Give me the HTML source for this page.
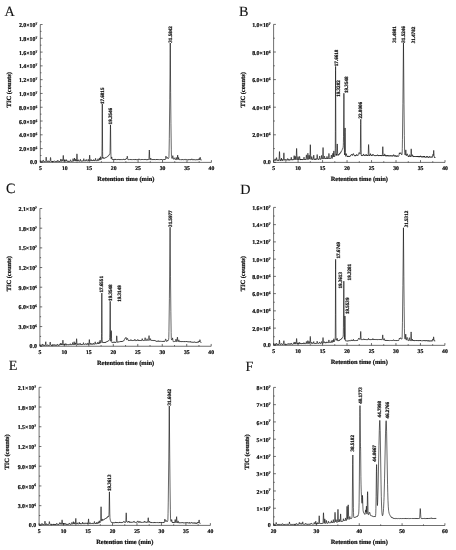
<!DOCTYPE html>
<html><head><meta charset="utf-8"><title>Chromatograms</title>
<style>
html,body{margin:0;padding:0;background:#fff;}
svg{display:block;font-family:'Liberation Serif', 'DejaVu Serif', serif;font-weight:bold;fill:#111;stroke:#111;stroke-width:0.22;text-rendering:geometricPrecision;}
</style></head>
<body>
<svg width="456" height="550" viewBox="0 0 456 550">
<rect width="456" height="550" fill="#fff" stroke="none"/>
<g>
<text x="4.4" y="16.0" font-size="14.2" font-weight="normal" stroke-width="0.12">A</text>
<path d="M40.3 24.5V162.4H211.42M40.3 162.4h2.3M40.3 155.5h1.2M40.3 148.61h2.3M40.3 141.72h1.2M40.3 134.82h2.3M40.3 127.92h1.2M40.3 121.03h2.3M40.3 114.14h1.2M40.3 107.24h2.3M40.3 100.35h1.2M40.3 93.45h2.3M40.3 86.56h1.2M40.3 79.66h2.3M40.3 72.77h1.2M40.3 65.87h2.3M40.3 58.98h1.2M40.3 52.08h2.3M40.3 45.18h1.2M40.3 38.29h2.3M40.3 31.39h1.2M40.3 24.5h2.3M40.3 162.4v-2.3M52.52 162.4v-1.2M64.75 162.4v-2.3M76.97 162.4v-1.2M89.19 162.4v-2.3M101.41 162.4v-1.2M113.64 162.4v-2.3M125.86 162.4v-1.2M138.08 162.4v-2.3M150.3 162.4v-1.2M162.53 162.4v-2.3M174.75 162.4v-1.2M186.97 162.4v-2.3M199.19 162.4v-1.2M211.42 162.4v-2.3" fill="none" stroke="#222" stroke-width="0.65"/>
<g font-size="5.9" text-anchor="end">
<text x="37.3" y="164.2">0.0</text>
<text x="37.3" y="151.21">2.0×10<tspan font-size="3.6" dy="-2.1">6</tspan></text>
<text x="37.3" y="137.42">4.0×10<tspan font-size="3.6" dy="-2.1">6</tspan></text>
<text x="37.3" y="123.63">6.0×10<tspan font-size="3.6" dy="-2.1">6</tspan></text>
<text x="37.3" y="109.84">8.0×10<tspan font-size="3.6" dy="-2.1">6</tspan></text>
<text x="37.3" y="96.05">1.0×10<tspan font-size="3.6" dy="-2.1">7</tspan></text>
<text x="37.3" y="82.26">1.2×10<tspan font-size="3.6" dy="-2.1">7</tspan></text>
<text x="37.3" y="68.47">1.4×10<tspan font-size="3.6" dy="-2.1">7</tspan></text>
<text x="37.3" y="54.68">1.6×10<tspan font-size="3.6" dy="-2.1">7</tspan></text>
<text x="37.3" y="40.89">1.8×10<tspan font-size="3.6" dy="-2.1">7</tspan></text>
<text x="37.3" y="27.1">2.0×10<tspan font-size="3.6" dy="-2.1">7</tspan></text>
</g>
<g font-size="5.7" text-anchor="middle">
<text x="40.3" y="170.2">5</text>
<text x="64.75" y="170.2">10</text>
<text x="89.19" y="170.2">15</text>
<text x="113.64" y="170.2">20</text>
<text x="138.08" y="170.2">25</text>
<text x="162.53" y="170.2">30</text>
<text x="186.97" y="170.2">35</text>
<text x="211.42" y="170.2">40</text>
</g>
<text x="125.86" y="181.1" font-size="6.45" text-anchor="middle">Retention time (min)</text>
<text transform="translate(11.05 89.8) rotate(-90)" font-size="6.45" text-anchor="middle">TIC (counts)</text>
<polyline points="40.75,161.65 40.8,161.67 40.85,161.55 40.9,161.67 41,161.53 41.1,161.69 41.2,161.52 41.25,161.65 41.4,161.44 41.5,161.14 41.55,161.22 41.6,161.06 41.65,161.07 41.8,160.85 41.9,160.97 41.95,161.18 42.1,161.45 42.2,161.38 42.3,161.38 42.35,161.45 42.45,161.38 42.55,161.62 42.6,161.65 42.7,161.61 42.8,161.35 42.9,161.29 43.1,160.19 43.25,160.11 43.5,161.02 43.6,161.23 43.7,161.25 43.85,161.48 43.95,161.39 44,161.18 44.1,161.51 44.2,161.54 44.25,161.47 44.35,161.52 44.4,161.35 44.5,161.62 44.7,161.59 44.8,161.49 44.95,161.63 45.1,161.44 45.25,161.55 45.3,161.47 45.45,161.59 45.5,161.53 45.55,161.55 45.7,161.28 45.8,160.77 46.15,157.12 46.25,157.53 46.55,160.85 46.7,161.43 46.75,161.4 46.8,161.56 46.85,161.37 46.95,161.35 47,161.43 47.05,161.32 47.15,161.6 47.2,161.56 47.25,161.6 47.35,161.5 47.4,161.61 47.45,161.48 47.55,161.58 47.6,161.53 47.65,161.56 47.8,161.31 48.05,160.68 48.2,160.95 48.25,160.89 48.3,160.96 48.45,161.38 48.5,161.42 48.55,161.37 48.6,161.51 48.65,161.4 48.75,161.39 48.85,161.43 48.95,161.59 49,161.41 49.1,161.53 49.2,161.3 49.4,161.46 49.5,161.26 49.6,161.56 49.7,161.53 49.75,161.43 49.8,161.52 49.9,161.54 50.05,161.3 50.15,161.02 50.45,158.08 50.55,157.47 50.75,158.76 50.9,160.5 51.05,161.13 51.1,161.24 51.15,161.06 51.2,161.26 51.35,161.52 51.45,161.47 51.5,161.53 51.65,161.32 51.7,161.12 51.8,161.3 51.85,161.1 52.1,161.55 52.15,161.55 52.2,161.42 52.45,161.53 52.5,161.39 52.55,161.44 52.65,161.21 52.75,161.2 52.8,161.23 52.9,161.48 52.95,161.39 53,161.54 53.1,161.46 53.15,161.54 53.2,161.4 53.25,161.49 53.35,161.43 53.45,161.5 53.5,161.45 53.55,161.47 53.6,161.27 53.65,161.51 53.75,161.43 53.8,161.5 53.9,161.52 54.1,161.3 54.2,161 54.3,160.93 54.4,160.98 54.45,160.81 54.6,160.99 54.65,160.98 54.75,161.24 54.8,161.21 54.85,161.33 55,161.5 55.1,161.5 55.15,161.46 55.2,161.49 55.35,161.39 55.4,161.49 55.55,161.49 55.6,161.38 55.7,161.49 55.8,161.44 55.85,161.5 55.9,161.45 55.95,161.48 56,161.37 56.1,161.44 56.2,161.24 56.25,161.4 56.35,161.08 56.45,161.04 56.6,161.36 56.7,161.44 56.75,161.33 56.8,161.32 57,161.46 57.15,161.17 57.25,161.36 57.3,161.2 57.4,161.41 57.55,160.62 57.65,160.47 57.7,160.17 57.8,160.05 58,160.38 58.2,161.05 58.4,161.41 58.45,161.36 58.5,161.45 58.55,161.35 58.65,161.33 58.7,161.25 58.75,161.31 58.8,161.28 58.9,161.41 58.95,161.26 59,161.34 59.05,161.3 59.1,161.43 59.15,161.38 59.2,161.45 59.25,161.37 59.3,161.46 59.4,161.13 59.5,161.33 59.55,161.24 59.65,161.21 59.7,161.45 59.8,161.3 59.9,161.45 60.05,161.22 60.1,161.23 60.15,161.38 60.2,161.3 60.25,161.33 60.3,161.23 60.35,161.24 60.45,161.04 60.8,159.07 60.85,159.1 60.9,159.36 60.95,159.38 61.15,160.81 61.4,161.37 61.5,161.38 61.6,160.89 61.7,160.93 61.75,160.81 62,159.59 62.05,159.66 62.1,159.59 62.15,159.6 62.4,160.74 62.5,160.91 62.6,160.98 62.7,161.21 62.9,160.45 63.2,155.85 63.3,155.39 63.65,160.21 63.75,160.98 63.8,161.2 63.9,161.36 64,161.15 64.05,161.12 64.2,161.17 64.25,160.99 64.35,161.07 64.4,161 64.7,159.61 64.75,159.65 64.8,159.94 64.95,160.24 65.3,161.31 65.4,161.23 65.6,160.92 65.65,160.87 65.75,160.88 65.8,160.73 65.85,160.77 66.2,159.52 66.3,159.69 66.55,160.96 66.7,161.2 66.8,160.96 66.85,160.96 66.9,160.89 67,161.07 67.1,160.82 67.2,161.09 67.3,161.22 67.4,161.2 67.45,161.32 67.5,161.17 67.55,161.25 67.6,161.24 67.7,161.07 67.75,161.17 67.85,160.87 68,161.15 68.05,161.12 68.1,161.22 68.15,161.04 68.2,161.27 68.35,161.28 68.4,161.17 68.45,161.35 68.55,161.27 68.6,161.28 68.7,161.08 68.8,161.21 68.9,160.93 68.95,160.95 69,161.1 69.05,161.09 69.1,161.22 69.15,161.21 69.2,161.07 69.3,161.25 69.4,161.1 69.45,161.11 69.6,161.03 69.65,161.2 69.75,161.33 69.85,161.26 69.9,161.13 70,161.29 70.05,161.21 70.1,161.22 70.15,161.17 70.2,161.06 70.25,161.1 70.4,160.6 70.55,159.78 70.65,159.94 70.75,160.37 70.85,160.53 70.9,160.75 71,160.86 71.15,161.27 71.2,161.16 71.3,161.28 71.35,161.23 71.5,161.26 71.65,161.04 71.75,161.31 72.05,161.16 72.1,161.3 72.15,161.26 72.2,161.29 72.3,161.19 72.35,161.23 72.4,161.12 72.45,161.25 72.5,161.24 72.55,161.11 72.6,161.11 72.7,160.82 73.05,158.68 73.35,160.23 73.6,161.22 73.65,160.99 73.9,160.85 73.95,161.01 74,160.9 74.05,161.02 74.25,160.01 74.45,158.24 74.5,158.02 74.55,158 74.85,160.3 75,160.9 75.1,160.92 75.15,161.12 75.25,161.13 75.3,161.08 75.45,160.56 75.65,159.41 75.75,159.06 76.1,160.73 76.15,160.63 76.3,160.97 76.4,160.92 76.45,160.96 76.6,159.88 76.85,154.97 76.95,153.85 77.05,154.56 77.35,159.8 77.5,160.97 77.55,160.94 77.6,160.76 77.65,160.9 77.7,160.83 77.75,160.86 77.85,160.8 77.9,161.01 77.95,161.06 78,161.01 78.05,160.8 78.1,160.86 78.3,159.89 78.35,159.77 78.45,159.74 78.55,159.92 78.7,160.39 78.75,160.74 78.9,161.13 78.95,161.14 79,160.97 79.1,161.12 79.15,161.05 79.25,161.22 79.3,161.18 79.35,161.21 79.4,161.12 79.45,161.15 79.6,161.1 79.7,160.92 79.8,161.09 79.9,160.85 79.95,160.91 80,160.71 80.05,160.68 80.2,159.72 80.35,159.25 80.4,159.25 80.5,159.43 80.7,160.6 80.8,160.94 80.85,161.06 80.9,161.02 81,161.17 81.1,161.06 81.15,161.13 81.25,161.14 81.3,160.92 81.35,161.03 81.4,160.96 81.45,161.08 81.5,161.07 81.65,160.88 81.75,161.12 81.85,161.11 81.9,161.17 82,161.18 82.05,161.07 82.15,161.18 82.25,161.1 82.3,161.15 82.35,161.11 82.4,161.14 82.55,161.06 82.7,160.86 82.75,161.02 82.85,160.8 83,161.12 83.1,161.1 83.15,161.03 83.25,161.12 83.5,160.09 83.7,158.92 83.75,158.94 83.8,158.73 83.85,158.72 84.2,160.72 84.3,160.84 84.4,160.85 84.5,161 84.55,160.83 84.6,160.92 84.75,160.98 84.8,161.08 84.85,161.05 84.9,161.1 85,161.03 85.1,161.13 85.15,161.11 85.2,160.95 85.25,161.01 85.4,160.77 85.5,160.74 85.55,160.65 85.6,160.83 85.65,160.8 85.7,160.93 85.85,160.9 86.15,159.59 86.25,159.39 86.35,159.52 86.55,160.58 86.65,160.89 86.8,161.07 86.9,161.11 87.4,161.1 87.45,161 87.55,161.08 87.7,160.86 87.75,160.57 87.8,160.54 87.85,160.58 87.9,160.49 88.05,159.72 88.15,159.39 88.25,159.27 88.6,160.65 88.8,161.05 88.85,161.04 89.05,160.75 89.15,160.74 89.2,160.62 89.3,159.93 89.55,156.08 89.6,155.52 89.7,155.12 90.1,160.44 90.2,160.86 90.3,160.86 90.45,161.07 90.6,161.01 90.65,160.76 90.8,160.48 91,159.65 91.05,159.75 91.15,159.53 91.25,159.74 91.3,159.76 91.45,160.57 91.5,160.54 91.6,160.81 91.7,160.65 91.8,160.66 91.9,161.01 91.95,160.88 92.05,160.9 92.2,160.81 92.25,160.95 92.3,160.86 92.35,160.99 92.4,160.76 92.45,160.76 92.5,160.8 92.55,160.76 92.6,161 92.65,160.91 92.75,160.97 92.85,160.76 93.05,161.01 93.3,160.56 93.5,159.85 93.6,159.58 93.65,159.58 93.9,160.64 93.95,160.65 94,160.73 94.1,160.62 94.25,161.01 94.45,160.65 94.55,160.62 94.7,160.93 94.8,160.83 94.85,160.93 94.9,160.79 95.05,160.89 95.2,160.42 95.45,158.54 95.55,158.26 95.65,158.52 95.85,160.13 95.95,160.48 96.1,160.71 96.15,160.9 96.3,160.94 96.35,160.89 96.4,161 96.45,160.94 96.55,160.99 96.6,160.92 96.65,160.95 96.7,160.81 96.85,160.93 96.95,160.81 97,160.88 97.05,160.78 97.1,160.82 97.15,160.74 97.2,160.87 97.45,160.75 97.55,160.44 97.6,160.54 97.65,160.37 97.95,158.83 98,158.79 98.1,158.95 98.15,159.16 98.35,160.27 98.45,160.42 98.55,160.35 98.65,160.57 98.75,160.5 98.8,160.57 99,159.98 99.05,160 99.15,159.73 99.4,158.17 99.5,158 99.55,158.06 99.65,158.57 99.85,159.89 99.9,160.06 99.95,160.06 100.1,159.44 100.35,157 100.45,156.71 100.55,157.08 100.85,159.49 100.95,159.52 101.1,159.22 101.2,159.13 101.3,159.31 101.4,159.15 101.5,158.78 101.6,158.66 101.65,158.66 101.8,158.01 101.9,156.34 101.95,154.01 102.05,143.19 102.2,113.23 102.3,103.96 102.6,151.56 102.7,156.8 102.8,158.25 102.85,158.4 102.9,157.33 102.95,157.29 103.1,157.68 103.15,157.66 103.25,157.92 103.3,157.97 103.35,157.86 103.4,158.04 103.55,158.09 103.6,158.23 103.65,158.23 103.75,158.03 103.85,158.28 103.9,158.21 103.95,158.27 104.05,158.25 104.1,158.4 104.2,158.3 104.25,158.32 104.35,158.09 104.4,158.19 104.5,158.25 104.55,158.09 104.65,158.01 104.7,157.88 104.75,157.91 104.8,158.08 104.9,158.13 104.95,157.95 105.05,158 105.25,157.98 105.35,157.84 105.5,157.84 105.55,157.76 105.6,157.8 105.65,157.66 105.75,157.75 105.8,157.72 105.9,157.54 106,157.54 106.1,157.36 106.15,157.54 106.25,157.48 106.3,157.37 106.35,157.38 106.5,157.01 106.55,157.11 106.6,157.07 106.65,157.11 106.8,156.89 106.85,156.96 106.9,156.95 107.05,156.72 107.2,156.75 107.35,156.67 107.45,156.54 107.55,156.48 107.6,156.51 107.65,156.43 107.7,156.44 107.75,156.22 107.85,156.33 108.05,156.17 108.1,155.98 108.15,156.1 108.2,155.94 108.25,156 108.35,155.89 108.5,155.44 108.55,155.43 108.6,155.59 108.65,155.49 108.7,155.54 109,155.12 109.05,154.96 109.1,154.87 109.15,154.88 109.2,154.75 109.25,154.86 109.3,154.69 109.35,154.74 109.4,154.68 109.45,154.75 109.6,154.59 109.7,154.24 109.75,154.29 109.85,153.93 109.95,153.37 110,152.64 110.1,150.04 110.4,127.22 110.45,125.22 110.5,124.81 110.6,129.38 110.85,151.39 111,157.24 111.1,158.5 111.15,158.74 111.2,158.75 111.3,158.52 111.45,157.9 111.55,157.21 111.6,157.06 111.65,157.11 111.7,156.91 111.8,157.27 112.1,159.04 112.3,159.64 112.35,159.69 112.4,159.63 112.5,159.94 112.55,159.94 112.6,159.79 112.65,159.79 112.8,159.63 112.85,159.52 112.95,159.62 113,159.83 113.1,159.79 113.15,159.81 113.2,159.74 113.3,159.97 113.4,159.7 113.55,159.99 113.6,159.91 113.65,159.96 113.8,159.53 113.95,159.92 114.15,159.87 114.25,159.88 114.3,159.95 114.4,159.92 114.5,159.49 114.65,159.66 114.75,159.58 114.85,159.62 115.1,158.92 115.3,159.49 115.35,159.58 115.4,159.58 115.45,159.78 115.5,159.6 115.55,159.88 115.6,159.81 115.7,159.95 115.75,159.83 115.8,159.84 115.85,159.76 115.9,159.92 116,159.96 116.1,159.92 116.15,159.98 116.3,159.98 116.35,159.9 116.4,159.96 116.5,159.73 116.6,159.72 116.65,159.66 116.75,159.77 116.8,159.93 116.85,159.93 116.95,159.84 117,159.91 117.15,159.91 117.25,159.61 117.35,159.52 117.5,159.69 117.55,159.96 117.6,159.76 117.7,159.7 117.9,159.96 118.2,159.48 118.25,159.52 118.4,159.12 118.45,159.21 118.55,159.12 118.65,159.16 118.8,159.35 118.9,159.77 119,159.8 119.05,159.89 119.1,159.72 119.3,159.78 119.35,159.71 119.45,159.76 119.5,159.91 119.6,159.94 119.65,159.72 119.75,159.98 119.8,159.9 119.85,159.99 119.9,159.93 120,159.98 120.05,159.77 120.15,159.95 120.2,159.89 120.25,159.98 120.45,159.47 120.5,159.67 120.55,159.66 120.75,159.95 120.8,159.97 120.95,159.85 121.05,159.94 121.1,159.92 121.2,159.98 121.4,159.44 121.45,159.41 121.5,159.5 121.55,159.43 121.6,159.49 121.65,159.43 121.75,159.5 121.85,159.9 121.95,159.8 122,159.9 122.1,159.93 122.2,159.88 122.25,159.77 122.3,159.8 122.35,159.73 122.4,159.78 122.45,159.69 122.55,159.72 122.6,159.66 122.65,159.74 122.75,159.61 122.8,159.63 122.85,159.53 122.9,159.57 122.95,159.45 123.15,159.3 123.2,159.05 123.25,159.18 123.3,159.08 123.45,159.12 123.5,159.28 123.6,159.22 123.65,159.33 123.7,159.24 123.8,159.31 123.85,159.48 123.95,159.52 124,159.37 124.05,159.35 124.15,159.63 124.25,159.69 124.3,159.61 124.35,159.75 124.4,159.71 124.5,159.83 124.55,159.68 124.6,159.69 124.65,159.61 124.7,159.63 124.75,159.52 124.8,159.81 124.95,159.7 125,159.6 125.1,159.56 125.15,159.6 125.2,159.38 125.25,159.4 125.35,159.3 125.4,159.47 125.45,159.31 125.5,159.36 125.55,159.31 125.6,159.15 125.7,159.17 125.75,159.09 125.8,159.19 125.85,158.97 125.9,159.12 126,158.93 126.05,159.04 126.15,158.84 126.25,158.95 126.35,158.77 126.4,158.97 126.45,158.8 126.5,158.78 126.55,158.55 126.7,158.72 126.8,158.52 126.85,158.53 127,157.92 127.2,156.33 127.3,156.13 127.35,156.17 127.45,156.72 127.65,158.36 127.8,159.17 127.95,159.58 128,159.52 128.15,159.83 128.25,159.67 128.35,159.89 128.4,159.77 128.5,159.87 128.65,159.85 128.85,159.95 128.9,159.88 128.95,159.92 129,159.76 129.15,159.61 129.2,159.67 129.25,159.64 129.4,159.9 129.5,159.94 129.6,159.72 129.65,159.74 129.7,159.69 129.8,159.86 129.9,159.66 130,159.78 130.1,159.78 130.25,159.63 130.3,159.68 130.45,159.41 130.5,159.43 130.55,159.34 130.6,159.49 130.7,159.43 130.9,159.93 130.95,159.91 131,159.72 131.05,159.92 131.15,159.72 131.25,159.86 131.35,159.87 131.4,159.75 131.45,159.89 131.7,159.94 131.75,159.78 131.85,159.92 131.95,159.69 132.1,159.78 132.15,159.73 132.3,159.93 132.4,159.9 132.45,159.96 132.65,159.71 132.8,159.76 132.85,159.61 132.95,159.68 133,159.64 133.05,159.73 133.1,159.72 133.25,159.92 133.35,159.77 133.4,159.89 133.45,159.85 133.5,159.9 133.75,159.41 133.85,159.8 134,159.93 134.05,159.95 134.15,159.71 134.2,159.69 134.3,159.75 134.4,159.61 134.5,159.76 134.55,159.71 134.65,159.87 134.7,159.87 134.8,159.78 135.1,159.11 135.25,159.21 135.3,159.17 135.6,159.89 135.65,159.74 135.7,159.87 135.75,159.83 135.85,159.93 135.9,159.91 136,159.68 136.1,159.83 136.2,159.86 136.3,159.67 136.4,159.87 136.55,159.94 136.65,159.88 136.7,159.74 136.8,159.75 136.85,159.86 136.9,159.7 137,159.7 137.05,159.83 137.25,159.71 137.3,159.94 137.35,159.84 137.45,159.92 137.5,159.84 137.6,159.92 137.7,159.76 137.95,159.95 138.05,159.86 138.1,159.61 138.2,159.77 138.25,159.7 138.35,159.95 138.5,159.67 138.6,159.65 138.7,159.37 138.75,159.35 138.8,159.11 138.85,159.11 139,158.77 139.15,158.99 139.3,159.54 139.5,159.88 139.55,159.8 139.6,159.8 139.65,159.68 139.75,159.75 139.85,159.66 140,159.86 140.15,159.68 140.25,159.64 140.35,159.7 140.4,159.83 140.45,159.81 140.55,159.92 140.6,159.92 140.65,159.8 140.7,159.8 140.85,159.93 141.05,159.74 141.15,159.89 141.2,159.76 141.35,159.77 141.4,159.7 141.55,159.93 141.7,159.51 141.75,159.54 141.8,159.34 141.85,159.51 142.05,159.5 142.1,159.68 142.15,159.65 142.2,159.8 142.25,159.72 142.3,159.85 142.4,159.94 142.5,159.74 142.55,159.74 142.6,159.82 142.65,159.7 142.7,159.87 142.75,159.79 142.85,159.93 142.9,159.87 142.95,159.93 143.05,159.82 143.1,159.87 143.15,159.81 143.2,159.84 143.35,159.62 143.4,159.85 143.5,159.85 143.55,159.9 143.6,159.85 143.65,159.9 143.75,159.72 143.85,159.94 143.95,159.85 144,159.89 144.2,159.78 144.25,159.68 144.4,159.57 144.5,159.83 144.55,159.82 144.6,159.93 144.7,159.78 144.75,159.92 144.85,159.76 144.9,159.82 144.95,159.76 145,159.82 145.1,159.45 145.15,159.48 145.4,158.99 145.65,159.45 145.75,159.51 145.85,159.8 145.9,159.8 145.95,159.91 146,159.85 146.1,159.91 146.15,159.88 146.2,159.92 146.3,159.92 146.35,159.8 146.4,159.91 146.45,159.74 146.5,159.85 146.65,159.89 146.75,159.75 146.8,159.78 146.85,159.62 146.9,159.74 147,159.68 147.05,159.82 147.15,159.83 147.3,159.72 147.35,159.75 147.4,159.52 147.5,159.73 147.55,159.64 147.65,159.91 147.75,159.83 148,159.87 148.05,159.7 148.15,159.93 148.2,159.82 148.3,159.93 148.35,159.9 148.45,159.71 148.5,159.71 148.6,159.91 148.75,159.7 148.85,159.33 148.95,158.14 149.25,150.68 149.3,150.11 149.35,150.02 149.45,151.49 149.7,158.13 149.85,159.57 149.9,159.76 150.05,159.9 150.15,159.77 150.3,159.82 150.45,159.36 150.65,158.28 150.8,158.05 151.15,159.59 151.35,159.87 151.45,159.75 151.5,159.76 151.55,159.92 151.6,159.84 151.65,159.93 151.75,159.9 151.9,159.68 151.95,159.83 152,159.84 152.1,159.73 152.2,159.78 152.25,159.73 152.3,159.91 152.4,159.68 152.5,159.68 152.55,159.47 152.65,159.37 152.8,159.75 152.85,159.81 152.9,159.76 152.95,159.92 153.05,159.84 153.15,159.85 153.25,159.59 153.3,159.65 153.35,159.61 153.45,159.87 153.55,159.77 153.65,159.9 153.7,159.76 153.75,159.9 153.85,159.68 153.9,159.7 153.95,159.89 154,159.71 154.05,159.75 154.1,159.67 154.15,159.77 154.25,159.67 154.3,159.47 154.4,159.89 154.5,159.66 154.55,159.64 154.65,159.69 154.7,159.89 154.8,159.9 154.95,159.67 155,159.66 155.2,159.83 155.25,159.74 155.3,159.9 155.35,159.83 155.4,159.88 155.45,159.85 155.5,159.75 155.55,159.8 155.6,159.74 155.65,159.75 155.75,159.9 155.95,159.65 156,159.65 156.1,159.83 156.15,159.74 156.25,159.68 156.3,159.5 156.4,159.75 156.5,159.43 156.6,159.78 156.65,159.7 156.75,159.79 156.8,159.69 156.95,159.87 157,159.76 157.05,159.87 157.15,159.84 157.2,159.91 157.25,159.84 157.3,159.89 157.4,159.59 157.55,159.65 157.65,159.91 157.8,159.41 157.9,159.51 157.95,159.48 158,159.55 158.05,159.51 158.2,159.77 158.25,159.76 158.3,159.64 158.35,159.79 158.5,159.81 158.55,159.72 158.7,159.8 158.75,159.72 158.9,159.9 159.1,159.59 159.35,159.91 159.4,159.77 159.5,159.75 159.7,159.89 159.75,159.81 159.95,159.89 160.1,159.76 160.2,159.91 160.3,159.9 160.4,159.64 160.45,159.67 160.5,159.64 160.6,159.75 160.7,159.47 160.8,159.8 161,159.47 161.05,159.62 161.15,159.73 161.2,159.63 161.3,159.57 161.4,159.75 161.45,159.64 161.5,159.7 161.55,159.55 161.6,159.75 161.65,159.73 161.7,159.85 161.75,159.79 161.8,159.91 161.85,159.85 161.9,159.87 161.95,159.75 162,159.88 162.05,159.82 162.15,159.91 162.25,159.82 162.5,159.86 162.65,159.77 162.7,159.86 162.8,159.86 162.85,159.9 163.05,159.73 163.1,159.9 163.15,159.89 163.2,159.75 163.25,159.9 163.35,159.9 163.45,159.75 163.55,159.9 163.6,159.9 163.65,159.74 163.7,159.77 163.75,159.65 163.85,159.81 163.95,159.59 164,159.57 164.15,159.89 164.2,159.77 164.25,159.89 164.4,159.55 164.45,159.57 164.55,159.85 164.6,159.78 164.65,159.88 164.7,159.68 164.8,159.61 164.95,159.87 165.1,159.54 165.15,159.61 165.25,159.48 165.3,159.55 165.35,159.36 165.55,158.32 165.8,156.57 165.95,156.07 166,156.09 166.1,156.38 166.35,157.66 166.55,158.3 166.6,158.19 166.7,158.34 166.8,158.22 167,157.89 167.1,157.51 167.15,157.54 167.2,157.35 167.25,157.43 167.3,157.38 167.35,157.42 167.5,157.95 167.55,157.9 167.6,158.15 167.85,158.5 167.9,158.54 167.95,158.42 168.05,158.54 168.15,158.41 168.25,158.37 168.3,158.43 168.35,158.4 168.5,158.48 168.75,157.92 168.9,157.78 168.95,156.86 169.1,150.83 169.3,138.71 169.75,99.75 170.25,43.03 170.65,92.67 170.95,123.57 171.3,149.85 171.45,156.63 171.5,157.52 171.55,157.71 171.65,157.91 171.7,157.92 171.8,158.2 171.95,158.12 172.1,158.36 172.2,158.36 172.4,157.98 172.7,155.78 172.8,155.63 172.85,155.7 172.95,156.27 173.25,158.7 173.35,159.03 173.45,159.15 173.5,159.18 173.55,159.04 173.6,159.2 173.7,158.86 173.85,158.66 174.15,157.87 174.2,157.93 174.3,157.88 174.35,157.95 174.45,157.96 174.55,158.25 174.6,158.21 174.65,158.29 174.85,159 174.95,159.05 175.15,159.64 175.2,159.61 175.3,159.85 175.4,159.85 175.45,159.79 175.5,159.87 175.7,159.54 175.85,159.08 176.05,157.81 176.15,157.42 176.2,157.42 176.3,157.61 176.4,158.1 176.45,158.09 176.7,159.53 176.8,159.79 176.85,159.75 176.95,159.88 177.1,159.78 177.25,159.23 177.6,155.46 177.7,155.07 178.05,158.81 178.15,159.29 178.25,159.37 178.35,159.21 178.55,157.71 178.6,157.51 178.65,157.54 179,159.44 179.1,159.7 179.15,159.66 179.3,159.95 179.5,159.83 179.55,159.93 179.65,159.69 179.75,159.85 179.8,159.83 179.95,159.95 180.15,159.91 180.2,159.96 180.25,159.81 180.3,159.87 180.35,159.76 180.45,159.94 180.7,159.93 180.75,159.87 180.85,159.96 180.95,159.81 181.15,159.94 181.3,159.83 181.35,159.95 181.4,159.9 181.55,159.95 181.6,159.93 181.7,159.47 181.95,159.72 182,159.7 182.05,159.93 182.1,159.74 182.25,159.85 182.35,159.65 182.4,159.62 182.45,159.72 182.55,159.45 182.75,159.78 182.8,159.76 182.95,159.97 183,159.91 183.05,159.96 183.1,159.88 183.25,159.99 183.3,159.91 183.45,159.94 183.5,159.8 183.6,159.76 183.65,159.88 183.75,159.75 183.85,159.93 183.9,159.9 184,159.96 184.05,159.92 184.1,159.97 184.25,159.91 184.3,159.82 184.35,159.97 184.4,159.98 184.45,159.83 184.5,159.88 184.6,159.74 184.65,159.54 184.8,159.33 184.85,159.35 184.9,159.26 185.1,159.14 185.15,159.16 185.5,159.95 185.6,159.87 185.65,159.96 185.7,159.93 185.85,159.97 185.9,159.92 185.95,160.01 186.05,159.94 186.1,159.99 186.35,159.58 186.45,159.72 186.5,159.66 186.6,159.79 186.65,159.68 186.75,159.89 186.85,159.79 186.95,159.81 187,159.97 187.1,159.87 187.15,159.9 187.3,159.82 187.4,159.95 187.5,159.97 187.55,159.92 187.65,160.01 187.75,159.95 187.8,159.97 187.85,159.83 187.9,160 188.05,159.99 188.15,159.84 188.2,159.93 188.25,159.88 188.3,159.92 188.4,159.7 188.45,159.72 188.5,159.64 188.55,159.84 188.75,159.76 188.8,159.99 189,159.89 189.05,159.91 189.15,159.74 189.2,159.76 189.25,159.61 189.35,159.76 189.4,159.74 189.45,159.57 189.5,159.76 189.55,159.77 189.65,159.95 189.75,159.94 189.8,160 189.85,159.89 189.9,160.01 189.95,159.96 190.05,160 190.2,159.82 190.25,159.83 190.3,160 190.35,160.03 190.4,159.95 190.45,159.96 190.55,159.64 190.65,159.62 190.75,159.97 190.85,160.04 190.9,159.89 191,159.84 191.1,159.69 191.15,159.81 191.25,159.78 191.35,159.91 191.4,159.86 191.45,159.93 191.5,159.89 191.65,159.57 191.75,158.92 191.85,158.81 192.05,159.13 192.15,159.56 192.25,159.61 192.3,159.77 192.4,159.72 192.45,159.93 192.55,160.01 192.6,159.93 192.7,160.02 192.75,159.98 192.95,160.04 193,159.77 193.05,159.95 193.3,160.04 193.35,159.95 193.4,160.01 193.45,159.97 193.5,160.01 193.65,159.5 193.85,159.6 193.9,159.53 194.05,159.81 194.1,159.68 194.25,159.74 194.3,159.69 194.35,159.74 194.4,159.67 194.55,160.01 194.65,159.98 194.7,160.06 194.8,159.91 194.85,159.95 194.9,159.91 195,160.05 195.05,159.84 195.1,159.92 195.15,159.89 195.25,160.05 195.3,160.04 195.4,159.83 195.45,159.85 195.5,159.99 195.65,159.97 195.7,160.04 195.8,159.98 195.85,160.05 195.9,160.05 196,159.94 196.05,159.99 196.25,159.66 196.35,159.59 196.5,159.75 196.6,160.06 196.65,159.95 196.75,160.06 196.8,159.95 196.9,159.97 196.95,159.92 197,160.07 197.05,160.05 197.1,159.91 197.15,159.92 197.2,159.63 197.25,159.72 197.35,159.74 197.55,160.04 197.6,159.91 197.65,159.97 197.75,159.98 197.9,159.74 197.95,159.99 198,160.04 198.15,159.92 198.25,160.02 198.3,159.84 198.35,159.87 198.4,159.82 198.5,160.01 198.55,159.98 198.65,160.04 198.8,159.37 198.9,159.36 199.15,158.51 199.2,158.56 199.25,158.52 199.5,159.58 199.6,159.81 199.7,159.75 200.15,157.25 200.2,157.3 200.35,158.03 200.5,159.2 200.7,159.89 200.85,159.99 200.95,159.97 201.05,160.1 201.1,159.98 201.15,160.07 201.3,159.81 201.4,160.07 201.5,160.05 201.55,159.98 201.6,160.02" fill="none" stroke="#000" stroke-width="0.6" stroke-linejoin="round"/>
<g font-size="5.1">
<text transform="translate(103.9 104.1) rotate(-90)">17.6815</text>
<text transform="translate(112 124.4) rotate(-90)">19.3546</text>
<text transform="translate(171.8 42.7) rotate(-90)">31.5842</text>
</g>
</g>
<g>
<text x="239.0" y="16.0" font-size="14.2" font-weight="normal" stroke-width="0.12">B</text>
<path d="M273.6 24.4V162.4H445M273.6 162.4h2.3M273.6 148.6h1.2M273.6 134.8h2.3M273.6 121h1.2M273.6 107.2h2.3M273.6 93.4h1.2M273.6 79.6h2.3M273.6 65.8h1.2M273.6 52h2.3M273.6 38.2h1.2M273.6 24.4h2.3M273.6 162.4v-2.3M285.84 162.4v-1.2M298.09 162.4v-2.3M310.33 162.4v-1.2M322.57 162.4v-2.3M334.81 162.4v-1.2M347.06 162.4v-2.3M359.3 162.4v-1.2M371.54 162.4v-2.3M383.78 162.4v-1.2M396.03 162.4v-2.3M408.27 162.4v-1.2M420.51 162.4v-2.3M432.75 162.4v-1.2M445 162.4v-2.3" fill="none" stroke="#222" stroke-width="0.65"/>
<g font-size="5.9" text-anchor="end">
<text x="270.6" y="164.2">0.0</text>
<text x="270.6" y="137.4">2.0×10<tspan font-size="3.6" dy="-2.1">6</tspan></text>
<text x="270.6" y="109.8">4.0×10<tspan font-size="3.6" dy="-2.1">6</tspan></text>
<text x="270.6" y="82.2">6.0×10<tspan font-size="3.6" dy="-2.1">6</tspan></text>
<text x="270.6" y="54.6">8.0×10<tspan font-size="3.6" dy="-2.1">6</tspan></text>
<text x="270.6" y="27">1.0×10<tspan font-size="3.6" dy="-2.1">7</tspan></text>
</g>
<g font-size="5.7" text-anchor="middle">
<text x="273.6" y="170.2">5</text>
<text x="298.09" y="170.2">10</text>
<text x="322.57" y="170.2">15</text>
<text x="347.06" y="170.2">20</text>
<text x="371.54" y="170.2">25</text>
<text x="396.03" y="170.2">30</text>
<text x="420.51" y="170.2">35</text>
<text x="445" y="170.2">40</text>
</g>
<text x="359.3" y="181.1" font-size="6.45" text-anchor="middle">Retention time (min)</text>
<text transform="translate(244.5 89.8) rotate(-90)" font-size="6.45" text-anchor="middle">TIC (counts)</text>
<polyline points="274.05,160.38 274.15,160.07 274.2,160.13 274.35,159.81 274.5,160.38 274.6,160.29 274.65,160.3 274.75,159.76 274.85,159.63 274.9,159.32 275.05,158.94 275.15,158.84 275.4,159.51 275.45,160 275.5,159.85 275.55,159.95 275.65,160.41 275.7,160.25 275.75,160.33 275.8,160.3 275.85,160.4 275.95,160.14 276,160.36 276.25,159.18 276.4,157.74 276.55,157.56 276.65,157.85 276.85,159.52 277,160.11 277.2,159.86 277.35,160.13 277.4,160.05 277.45,160.11 277.5,160.3 277.7,160.24 277.75,160.14 277.8,160.29 277.85,159.96 277.95,159.96 278,160.19 278.05,160.15 278.1,160.4 278.15,160.25 278.2,160.33 278.25,160.1 278.3,160.13 278.35,160.08 278.45,160.21 278.5,160.14 278.55,159.82 278.6,160.17 278.65,160.19 278.7,160.09 278.75,160.15 278.8,160.04 278.85,160.32 278.95,160.1 279,159.83 279.1,158.82 279.45,151.56 279.5,151.61 279.6,152.85 279.85,158.54 279.95,159.62 280.1,160.25 280.15,160.03 280.2,160.25 280.25,160.21 280.3,159.96 280.35,160.22 280.4,160.19 280.45,160.3 280.6,160.02 280.65,160.25 280.7,159.95 280.75,160.25 280.8,160.31 280.9,160.31 281,159.96 281.05,159.52 281.1,159.94 281.25,159.41 281.45,158.08 281.6,159.34 281.75,159.91 281.8,159.92 281.9,160.22 281.95,159.95 282.05,160.3 282.1,160.22 282.15,160.31 282.2,160.17 282.25,160.27 282.3,159.75 282.35,159.76 282.4,159.53 282.45,159.62 282.55,159.58 282.6,159.65 282.7,160.24 282.75,160.26 282.8,160.01 282.85,160.25 282.9,160.14 283,160.2 283.15,159.87 283.3,160.15 283.5,159.06 283.8,153.3 283.85,152.9 283.9,152.82 284,153.8 284.2,158.13 284.4,159.97 284.55,159.91 284.65,159.71 284.75,159.82 284.8,160.1 284.85,159.96 284.9,159.96 284.95,160.17 285,160.08 285.05,160.2 285.1,160.13 285.2,160.25 285.3,159.95 285.35,160.09 285.4,160.06 285.45,159.84 285.55,159.75 285.65,160.09 285.7,160 285.75,160.11 285.95,159.41 286.05,159.53 286.1,159.8 286.15,159.65 286.25,159.83 286.35,160.23 286.5,160.14 286.55,160.19 286.6,160.08 286.7,160.02 286.85,160.19 286.9,160.18 287,159.94 287.15,160.19 287.2,160.15 287.25,159.8 287.3,159.75 287.6,158.69 287.65,158.58 287.7,158.58 287.8,159.03 287.85,159.08 287.9,158.88 288.1,159.82 288.2,159.78 288.25,159.7 288.3,159.43 288.4,160.14 288.45,160.03 288.55,160.15 288.6,160.08 288.75,160.1 288.8,159.96 288.85,160 288.9,159.87 288.95,160.06 289.05,159.89 289.15,160.09 289.2,160.02 289.25,160.11 289.3,160.11 289.35,159.97 289.4,160.17 289.5,159.87 289.55,159.93 289.6,159.92 289.7,159.63 289.8,159.57 289.85,159.59 289.9,159.73 290,160.15 290.05,160.04 290.1,160.14 290.25,159.74 290.3,159.77 290.35,159.97 290.5,159.86 290.65,160.01 290.7,159.81 290.75,159.89 290.8,159.8 290.85,159.44 290.9,159.36 291.1,157.92 291.25,157.22 291.35,157.48 291.7,159.88 291.8,160.08 291.85,159.81 291.95,160.05 292,160 292.05,160.06 292.1,159.97 292.15,160.02 292.2,159.75 292.3,160.05 292.35,160.05 292.5,159.83 292.6,159.85 292.65,159.98 292.7,159.97 292.8,159.87 292.85,159.56 293.05,159.63 293.1,159.75 293.2,159.56 293.3,160.08 293.45,159.81 293.55,159.28 293.6,159.23 293.8,158.54 294.1,155.71 294.2,155.67 294.25,155.79 294.55,159.33 294.7,159.74 294.8,159.9 294.9,159.89 294.95,159.72 295.3,156.51 295.35,156.39 295.45,156.69 295.55,157.36 295.7,158.98 295.8,159.56 295.95,159.93 296.05,159.73 296.15,159.25 296.2,158.49 296.5,150.11 296.6,148.44 296.65,148.46 296.7,149.35 297,157.7 297.15,159.43 297.25,159.57 297.35,159.94 297.4,159.83 297.45,159.95 297.5,159.78 297.6,159.84 297.7,159.46 298,156.77 298.05,156.65 298.1,156.69 298.3,157.84 298.4,158.85 298.45,158.82 298.7,159.87 298.75,159.78 298.8,159.88 298.9,159.42 298.95,159.7 299,159.57 299.1,159.57 299.25,158.86 299.45,156.59 299.55,156.46 299.65,156.44 299.85,158.17 300.1,159.58 300.2,159.88 300.25,159.9 300.35,159.83 300.4,159.73 300.45,159.92 300.5,159.63 300.55,159.66 300.6,159.41 300.7,159.9 300.8,159.88 300.9,159.56 300.95,159.76 301.1,159.24 301.2,159.47 301.25,159.89 301.3,159.64 301.4,159.83 301.45,159.73 301.5,159.83 301.7,159.63 301.8,159.69 301.85,159.47 301.95,159.69 302,159.66 302.05,159.39 302.1,159.39 302.15,159.74 302.25,159.82 302.35,159.57 302.5,159.74 302.55,159.53 302.65,159.79 302.75,159.75 302.8,159.85 302.85,159.65 302.9,159.64 303.05,159.79 303.1,159.59 303.15,159.65 303.2,159.49 303.3,159.67 303.35,159.61 303.4,159.64 303.45,159.5 303.5,159.64 303.65,159.07 303.85,157.57 304,157.11 304.05,157.14 304.15,157.41 304.25,158.43 304.55,159.68 304.6,159.59 304.7,159.78 304.8,159.51 304.85,159.53 304.9,159.78 304.95,159.62 305.05,159.67 305.1,159.76 305.2,159.61 305.25,159.72 305.35,159.35 305.5,159.13 305.7,159.58 305.8,159.65 306.05,158.28 306.3,155.46 306.4,154.85 306.45,154.94 306.5,155.33 306.75,158.58 306.85,159.26 306.9,159.25 307.05,159.63 307.1,159.66 307.2,159.51 307.25,159.59 307.35,159.3 307.4,159.31 307.45,158.93 307.6,157.09 307.75,154.19 307.85,153.24 307.9,153.25 308,154.26 308.2,157.7 308.4,159.28 308.5,159.38 308.55,159.22 308.6,159.37 308.65,159.31 308.8,158.35 309,155.96 309.15,155.24 309.5,158.75 309.6,158.84 309.65,158.79 309.75,159.16 309.85,158.69 309.9,158.13 310,155.84 310.3,144.7 310.35,144.74 310.4,145.87 310.65,155.66 310.75,157.89 310.9,159.08 310.95,159.28 311,159.3 311.05,159.22 311.15,159.53 311.2,159.44 311.25,159.49 311.45,158.86 311.65,157.02 311.7,156.77 311.75,156.76 311.8,156.58 311.85,156.74 311.9,156.77 312.1,158.57 312.15,158.74 312.25,158.82 312.3,159.26 312.45,159.31 312.5,159.17 312.6,159.43 312.65,159.17 312.75,159.12 312.85,158.85 312.95,159.19 313,159.2 313.05,159.47 313.15,159.07 313.2,159.12 313.45,158.16 313.75,155.15 314.05,158.07 314.3,159.21 314.35,159.28 314.45,159.32 314.55,159.05 314.6,159.13 314.65,158.98 314.7,159.27 314.75,159.11 314.85,159.45 314.95,159.15 315.05,158.99 315.1,159.13 315.2,158.88 315.25,159.2 315.35,159.4 315.4,159.26 315.5,159.4 315.6,158.79 315.75,159.19 315.9,158.98 315.95,159.19 316,159.11 316.1,159.27 316.15,159.22 316.2,159.28 316.25,159.18 316.4,159.37 316.5,159.06 316.55,159.09 316.6,158.74 316.7,159.05 316.75,158.94 316.9,157.54 317.05,155.26 317.2,154.56 317.3,155.32 317.55,158.49 317.6,158.68 317.7,158.8 317.75,159.08 317.9,158.91 317.95,159.23 318.05,158.85 318.15,159.24 318.2,159.12 318.35,159.3 318.4,159.27 318.45,159.05 318.5,159.26 318.6,159.18 318.7,159.32 318.75,159.23 318.8,159.27 318.85,159.17 318.9,159.23 318.95,159.06 319,159.12 319.1,158.99 319.15,159.1 319.2,159.02 319.4,157.83 319.5,156.87 319.65,156.09 319.7,156.31 319.75,156.25 319.9,157.61 320.15,159.08 320.2,159.17 320.25,158.99 320.3,159 320.4,159.21 320.5,159.17 320.55,159.2 320.65,159.13 320.7,159.24 320.75,159.11 320.8,159.14 320.85,158.96 320.9,159.17 320.95,159.11 321.05,159.13 321.3,157.95 321.5,155.53 321.55,155.42 321.65,155.53 321.7,155.83 321.9,158.13 322.05,158.89 322.1,158.89 322.15,159 322.3,158.95 322.45,159 322.6,158.35 322.7,156.7 322.95,149.1 323.05,147.54 323.15,148.65 323.45,157.4 323.55,158.35 323.7,158.88 323.75,158.89 323.8,159.04 323.9,158.74 324,158.93 324.15,158.55 324.45,156.23 324.55,156.16 324.65,156.56 324.75,157.46 324.9,158.02 324.95,158.51 325,158.69 325.1,158.68 325.15,158.62 325.3,158.9 325.35,158.9 325.4,158.81 325.45,158.92 325.5,158.82 325.55,158.93 325.7,158.57 325.8,158.5 325.9,158.92 325.95,158.81 326.05,158.82 326.1,158.52 326.15,158.57 326.25,158.47 326.35,158.85 326.45,158.7 326.5,158.51 326.6,158.41 326.7,157.31 326.8,156.87 326.9,156.48 327,156.39 327.05,156.62 327.1,156.63 327.35,158.37 327.4,158.41 327.5,158.38 327.55,158.55 327.6,158.31 327.7,158.68 327.75,158.57 327.8,158.57 327.85,158.32 327.9,158.31 328,157.8 328.15,158.24 328.2,158.05 328.25,158.45 328.35,158.54 328.5,158.01 328.55,157.64 328.9,153.46 328.95,153.47 329.05,154.21 329.3,157.66 329.4,158.27 329.5,158.51 329.55,158.54 329.6,158.51 329.65,158.37 329.7,158.52 329.75,158.49 329.8,158.33 329.85,158.58 329.9,158.6 330.05,158.44 330.15,158.55 330.25,158.29 330.3,158.29 330.35,158.53 330.45,158.36 330.5,158.35 330.6,158.43 330.65,158.36 330.7,158.45 330.85,158.09 330.95,158.03 331.05,157.62 331.25,155.5 331.35,154.97 331.4,154.99 331.5,155.43 331.8,158.05 331.95,158.07 332,158.34 332.05,158.27 332.1,158.33 332.15,158.19 332.2,158.37 332.25,158.35 332.4,157.99 332.85,153.31 332.95,153.92 333.05,155.37 333.2,156.47 333.3,156.93 333.4,156.69 333.5,156.11 333.75,151.21 333.8,150.95 333.85,150.91 333.9,151.07 334.2,156.25 334.3,156.98 334.35,157.02 334.4,156.93 334.45,157 334.55,156.85 334.65,156.47 334.75,156.33 334.95,155.5 335.15,153.7 335.25,148.32 335.35,131.28 335.55,70.46 335.6,66.41 335.9,143.22 336,152.44 336.1,154.94 336.15,154.95 336.25,155.6 336.3,154.36 336.6,155.12 336.65,154.78 336.7,154.93 336.75,154.92 336.8,154.66 336.95,152.1 337.15,145.46 337.25,143.93 337.35,144.99 337.65,153.67 337.8,155.08 337.85,155.08 337.95,155.42 338,155.4 338.2,155.01 338.25,155.01 338.35,155.14 338.4,155.06 338.45,155.07 338.5,154.9 338.55,155.1 338.65,154.67 338.75,154.91 338.8,154.89 338.9,154.38 338.95,154.61 339.05,154.31 339.15,154.51 339.3,154 339.35,154.1 339.45,153.92 339.5,153.47 339.55,153.59 339.6,153.49 339.65,153.66 339.7,153.47 339.75,153.45 339.8,153.58 339.85,153.51 339.9,153.74 339.95,153.46 340.1,153.38 340.25,152.84 340.35,153.14 340.55,152.62 340.6,152.65 340.7,152.29 340.75,152.57 340.8,152.52 341,151.83 341.05,151.93 341.1,151.61 341.15,151.68 341.2,151.48 341.25,151.57 341.35,151.49 341.4,151.37 341.45,151.41 341.65,150.74 341.75,150.6 341.8,150.61 341.9,150.45 342.15,149.8 342.2,149.82 342.3,149.33 342.35,149.37 342.45,149.22 342.55,148.83 342.6,148.95 342.95,148.08 343.15,147.21 343.3,145.25 343.4,142.71 343.5,136.33 343.8,99.64 343.9,93.24 344,97.97 344.3,141.92 344.45,152.48 344.55,154.76 344.65,155.01 344.75,152.13 345,131.5 345.1,127.94 345.2,132.56 345.45,152.36 345.55,155.29 345.7,156.37 345.75,156.31 345.95,155.33 346.2,153.86 346.3,153.72 346.35,153.75 346.4,153.68 346.75,155.65 346.9,156.2 347.1,156.4 347.15,156.39 347.25,156.65 347.35,156.27 347.4,156.62 347.45,156.66 347.5,156.55 347.55,156.65 347.6,156.61 347.75,156.09 347.8,156.49 347.9,156.29 347.95,156.3 348.05,155.92 348.1,156.01 348.15,155.93 348.2,155.98 348.4,156.41 348.5,156.5 348.55,156.25 348.6,156.22 348.7,156.52 348.75,156.43 348.85,156.51 348.9,156.27 349,156.13 349.05,156.51 349.15,156.5 349.2,156.37 349.25,156.49 349.35,156.38 349.45,156.04 349.6,156.27 349.65,156 349.8,156.35 349.85,156.22 349.9,156.36 349.95,156.23 350,156.2 350.05,156.25 350.1,155.95 350.15,156.02 350.3,155.62 350.45,155.64 350.5,155.73 350.6,155.28 350.7,155.45 350.75,155.21 350.8,155.17 350.95,155.17 351,155.24 351.05,155.18 351.1,154.86 351.2,154.94 351.3,154.8 351.35,154.89 351.45,154.59 351.5,154.79 351.6,154.84 351.7,154.67 351.75,154.66 351.8,154.78 351.9,154.44 352,154.34 352.05,154.49 352.2,154.68 352.3,155.27 352.35,155.26 352.4,155.31 352.45,155.18 352.5,155.43 352.55,155.31 352.65,155.28 352.75,155.13 352.85,154.63 353.05,154.12 353.1,154.33 353.15,154.25 353.2,153.97 353.25,154.02 353.3,153.65 353.35,153.79 353.4,153.68 353.45,153.69 353.5,154.03 353.65,154.15 353.7,154.28 353.75,154.23 353.85,154.68 353.9,154.78 353.95,154.79 354.05,155.16 354.25,155.59 354.4,155.59 354.5,155.39 354.6,155.59 354.7,155.99 354.75,155.87 354.8,156 354.9,155.98 354.95,156.1 355.05,155.84 355.15,155.73 355.2,156.04 355.25,155.98 355.3,156.07 355.35,155.77 355.4,155.82 355.45,155.68 355.5,155.75 355.55,155.7 355.6,155.81 355.7,155.69 355.75,156.04 355.85,155.63 355.95,155.91 356.1,155.55 356.15,155.67 356.2,155.51 356.3,155.39 356.4,154.9 356.45,155.08 356.55,154.97 356.65,154.5 356.8,154.77 356.85,154.62 356.95,154.61 357.25,155.22 357.4,155.45 357.5,155.39 357.55,155.43 357.6,155.63 357.75,155.25 357.8,155.28 357.85,155.19 357.9,155.24 357.95,155.48 358,155.19 358.05,155.23 358.1,155.05 358.3,154.84 358.35,154.52 358.45,154.25 358.5,154.31 358.65,153.67 358.75,153.79 358.9,153.37 359,152.86 359.05,152.86 359.1,152.68 359.2,153.03 359.35,152.95 359.4,153.02 359.45,152.89 359.5,153.05 359.65,152.91 359.8,153.47 359.85,153.57 359.9,153.58 360.05,154.25 360.2,153.89 360.3,152.36 360.4,148.12 360.65,124.52 360.75,119.22 360.8,119.77 360.85,122.24 361.15,149.88 361.3,154.85 361.35,155.41 361.5,155.87 361.7,155.35 361.75,155.4 361.85,155.21 361.95,155.62 362.1,155.88 362.2,155.76 362.3,155.96 362.4,155.94 362.5,155.69 362.55,155.83 362.65,155.68 362.8,155.2 362.9,155.37 362.95,155.19 363,155.24 363.05,155.21 363.1,155.28 363.2,155.12 363.35,154.46 363.4,154.45 363.45,154.32 363.5,153.95 363.6,154.41 363.65,154.37 363.75,155 363.8,154.94 364.05,155.15 364.15,154.92 364.2,155.25 364.25,155.04 364.45,155.73 364.55,155.87 364.75,155.49 364.8,155.61 365,155.62 365.15,155.94 365.2,155.78 365.25,155.73 365.3,155.76 365.35,155.56 365.4,155.6 365.45,155.56 365.5,155.64 365.65,155.04 365.75,154.99 365.8,154.79 365.9,154.68 365.95,154.96 366,154.92 366.1,154.61 366.15,154.62 366.25,154.43 366.4,155.17 366.45,154.91 366.5,155.22 366.55,155.13 366.65,155.42 366.75,155.4 366.8,155.32 366.9,155.66 367.05,155.92 367.1,155.74 367.15,155.9 367.2,155.8 367.25,155.87 367.35,155.61 367.4,155.61 367.45,155.76 367.6,155.29 367.7,155.72 367.85,155.56 367.95,155.93 368,155.87 368.1,155.37 368.25,153.24 368.5,145.61 368.6,144.56 368.7,145.92 369,153.86 369.1,155.18 369.2,155.71 369.25,155.59 369.3,155.6 369.35,155.31 369.5,154.99 369.55,154.99 369.75,155.58 369.85,155.62 369.95,155.08 370,155.08 370.05,154.97 370.1,155.01 370.15,154.81 370.2,154.92 370.25,154.86 370.35,153.82 370.4,153.85 370.45,153.64 370.5,153.76 370.55,153.77 370.7,154.59 370.75,154.25 370.9,154.89 370.95,154.88 371,155.12 371.05,155.13 371.15,155.4 371.3,155.23 371.4,155.39 371.45,155.34 371.5,155.08 371.75,155.9 371.8,155.92 372,155.29 372.1,155.24 372.15,155.38 372.2,155.15 372.25,155.26 372.35,155.06 372.4,155.27 372.45,155.26 372.5,154.83 372.6,154.74 372.7,154.39 372.75,154.44 372.85,154.24 372.9,154.55 373,154.36 373.1,154.25 373.15,154.27 373.2,154.44 373.25,154.44 373.35,154.59 373.5,155.07 373.55,155.11 373.6,155.1 373.7,155.44 373.75,155.41 373.8,155.5 373.95,155.31 374,155.41 374.05,155.42 374.1,155.33 374.15,155.42 374.2,155.34 374.3,155.54 374.35,155.78 374.45,155.74 374.6,155.89 374.65,155.73 374.75,155.7 374.8,155.53 374.85,155.65 374.95,155.4 375.05,155.77 375.1,155.79 375.15,155.74 375.2,155.95 375.25,155.82 375.3,155.94 375.4,155.71 375.55,155.56 375.65,155.61 375.75,155.96 375.8,155.93 375.85,155.99 376,155.91 376.1,155.95 376.2,155.77 376.3,155.97 376.45,155.67 376.5,155.72 376.55,155.49 376.7,155.32 376.75,155.12 376.85,155.42 376.95,155.37 377,155.26 377.05,155.46 377.15,155.2 377.2,155.23 377.3,154.96 377.35,155.02 377.5,154.92 377.55,154.71 377.6,154.7 377.65,154.77 377.75,155.42 378,155.85 378.05,155.86 378.15,155.62 378.2,155.85 378.25,155.85 378.3,155.96 378.45,155.57 378.6,156.01 378.75,155.73 378.85,155.67 378.9,155.96 379.05,155.89 379.1,155.99 379.15,155.63 379.3,155.99 379.4,155.78 379.45,155.88 379.5,155.81 379.55,156 379.6,155.94 379.7,155.97 379.75,155.9 379.8,156 379.85,155.94 379.9,155.95 379.95,155.86 380.05,156 380.15,155.53 380.25,155.78 380.3,155.66 380.35,155.68 380.4,155.98 380.45,156.03 380.55,155.65 380.65,155.88 380.7,155.66 380.75,155.75 380.8,155.73 380.85,156 380.9,155.89 381,156.02 381.1,155.9 381.15,155.94 381.2,155.71 381.3,155.96 381.4,156.02 381.45,155.81 381.55,156.01 381.6,156 381.65,155.86 381.75,156.02 381.9,155.59 381.95,155.98 382,155.83 382.05,156.05 382.15,155.7 382.2,155.86 382.3,155.21 382.35,155.27 382.4,154.69 382.75,146.89 382.8,146.7 382.85,146.69 383.2,154.78 383.4,155.77 383.45,155.88 383.55,155.73 383.6,156.05 383.7,155.7 383.75,155.72 383.85,155.98 383.95,155.74 384.05,156 384.1,155.76 384.2,155.59 384.25,155.63 384.3,155.59 384.4,155.69 384.55,154.44 384.7,153.88 384.75,154.07 384.8,154.02 384.85,154.18 385.05,155.35 385.2,155.9 385.3,155.83 385.35,155.94 385.45,155.94 385.5,156.02 385.55,155.78 385.6,156.05 385.65,155.73 385.75,156.07 385.8,156.09 385.9,155.71 386,155.83 386.05,156.07 386.1,155.96 386.2,155.93 386.25,155.85 386.3,156.1 386.35,155.71 386.4,156.08 386.45,155.91 386.6,156.07 386.65,155.97 386.75,155.98 386.8,155.87 386.85,155.98 386.9,155.65 387,155.98 387.05,156.02 387.25,155.56 387.3,155.56 387.35,155.4 387.4,155.4 387.45,155.3 387.65,156.08 387.75,155.73 387.9,156.11 387.95,155.87 388,156.05 388.1,156.05 388.15,155.96 388.2,156.08 388.3,155.95 388.35,156.04 388.45,155.74 388.55,155.65 388.65,155.95 388.7,155.68 388.8,156.11 388.95,155.96 389.05,156.06 389.15,155.98 389.2,156.13 389.25,155.93 389.3,155.91 389.4,156.05 389.5,155.7 389.55,155.75 389.6,155.71 389.75,156.07 389.8,155.89 389.9,156.09 390,156 390.05,156.11 390.15,156.12 390.25,155.76 390.3,155.77 390.35,155.86 390.45,155.46 390.5,155.56 390.55,155.51 390.6,155.54 390.65,155.87 390.75,155.88 390.8,156.13 390.9,156 391,156.07 391.05,155.89 391.15,155.98 391.2,155.81 391.3,156.04 391.35,155.98 391.5,156.08 391.55,155.79 391.6,156.12 391.65,156.08 391.7,155.79 391.75,155.92 391.9,156.02 391.95,156.12 392,155.92 392.05,155.92 392.1,155.95 392.15,156.11 392.35,156.14 392.45,155.88 392.5,155.89 392.6,156.15 392.7,155.66 392.85,156.05 392.9,156 393,156.11 393.1,155.64 393.15,155.65 393.2,155.46 393.25,155.54 393.6,154.65 393.65,154.8 393.7,154.74 393.75,155.18 393.8,155.21 393.9,155.7 393.95,155.66 394,155.71 394.05,155.94 394.1,155.82 394.4,156.17 394.45,155.92 394.5,156.12 394.55,155.93 394.65,156.14 394.75,155.94 394.85,155.53 394.9,156.01 394.95,156.02 395,155.98 395.05,156.07 395.1,155.99 395.15,156.09 395.2,156 395.25,156.11 395.4,155.82 395.45,155.58 395.65,156.17 395.7,156.07 395.75,156.17 395.85,155.89 395.9,155.86 396,155.94 396.05,156.18 396.2,155.99 396.3,156.17 396.35,155.93 396.4,156.05 396.5,155.94 396.55,156.2 396.6,156 396.65,156.2 396.7,156.19 396.75,155.83 396.9,156.21 396.95,156.19 397,155.97 397.05,156.08 397.15,155.99 397.2,156.2 397.3,156.01 397.35,155.7 397.45,155.68 397.55,155.81 397.65,156.16 397.7,156.18 397.75,155.92 397.95,156.27 398,156.23 398.05,156 398.25,156.25 398.35,156.13 398.4,156.14 398.45,156.28 398.65,156.13 398.8,155.81 398.85,155.85 398.95,155.52 399.15,154.07 399.4,152.75 399.45,152.77 399.55,152.98 399.7,153.54 399.9,154 399.95,153.72 400.05,153.97 400.1,153.76 400.25,153.66 400.35,153.43 400.4,153.15 400.6,152.79 400.7,152.74 400.8,152.81 400.85,152.78 400.9,152.97 400.95,152.87 401,153.22 401.1,153.46 401.2,153.55 401.35,154.22 401.4,154.24 401.5,154.55 401.55,154.4 401.6,154.38 401.7,154.72 401.8,154.45 401.85,154.53 401.95,154.28 402.05,154.32 402.15,153.66 402.3,148.42 402.45,139.5 402.9,103.64 403.45,42.55 403.5,44.64 404,104.17 404.35,135.61 404.65,152.67 404.7,153.74 404.85,154.15 404.95,154.81 405.1,154.82 405.15,154.69 405.3,155.05 405.35,154.82 405.75,149.9 405.8,149.85 405.9,150.19 405.95,150.72 406.25,155.38 406.35,155.76 406.4,155.54 406.5,155.5 406.55,155.37 406.65,155.48 406.7,155.24 406.75,155.16 406.8,155.21 406.9,154.78 406.95,154.88 407.05,154.3 407.1,154.41 407.15,154.14 407.25,153.95 407.3,154.06 407.35,153.87 407.4,154.25 407.6,154.88 407.7,155.06 407.75,155.3 407.8,155.21 407.85,155.43 407.9,155.44 407.95,155.8 408,155.71 408.1,156.38 408.15,156.49 408.2,156.36 408.25,156.53 408.3,156.5 408.4,156.71 408.5,156.7 408.6,156.25 408.7,156.09 408.8,156.58 408.9,156.27 408.95,156.44 409,156.45 409.15,155.77 409.2,155.75 409.35,154.97 409.45,154.71 409.5,154.76 409.55,154.74 409.7,155 409.75,155.37 409.9,155.69 409.95,156.43 410,156.52 410.05,156.59 410.1,156.21 410.15,156.12 410.2,156.13 410.25,155.92 410.4,156.66 410.45,156.54 410.5,156.59 410.7,156.22 410.8,155.79 410.95,153.38 411.1,149.74 411.2,148.83 411.3,149.47 411.6,155.72 411.75,156.35 411.8,156.32 411.9,156.02 411.95,156.11 412,155.98 412.05,156.18 412.1,156.09 412.35,154.89 412.4,154.8 412.5,154.75 412.65,155.64 412.7,155.59 412.8,156.09 412.85,155.95 412.95,156.01 413,155.91 413.1,156.52 413.2,156.51 413.25,156.63 413.35,156.53 413.4,156.8 413.55,156.88 413.6,156.77 413.7,156.81 413.75,156.29 413.85,156.78 414.05,156.36 414.15,156.69 414.25,156.31 414.35,156.43 414.45,156.69 414.5,156.56 414.7,156.84 414.75,156.75 414.9,156.94 415.05,156.41 415.2,156.58 415.25,156.57 415.3,156.67 415.35,156.64 415.4,156.83 415.45,156.69 415.5,156.77 415.55,156.78 415.65,156.54 415.7,156.58 415.75,156.84 415.8,156.81 416,156.95 416.05,156.66 416.15,156.96 416.25,156.79 416.35,156.95 416.4,156.89 416.45,156.95 416.55,156.54 416.65,156.91 416.7,156.82 416.75,156.83 416.8,156.67 416.9,156.91 416.95,156.89 417,156.43 417.1,156.12 417.2,156.38 417.3,156.48 417.4,157.01 417.5,156.68 417.55,156.99 417.65,156.77 417.75,156.68 417.85,156.61 417.9,156.73 417.95,156.35 418.05,156.42 418.2,156.95 418.25,156.99 418.3,156.67 418.4,157.04 418.5,156.97 418.55,156.77 418.6,157.04 418.7,156.6 418.75,156.58 418.9,156.71 418.95,157.04 419,157.01 419.05,156.65 419.2,156.72 419.25,156.97 419.35,157.06 419.4,157.03 419.45,156.81 419.5,157.07 419.7,156.34 419.95,157.06 420.05,156.8 420.1,156.88 420.15,156.52 420.2,156.47 420.25,156.61 420.4,155.93 420.5,155.78 420.65,156.44 420.75,156.54 420.8,156.81 420.85,156.78 420.9,156.91 420.95,156.82 421.05,157.08 421.25,157.02 421.3,156.75 421.35,156.74 421.4,156.54 421.45,156.74 421.5,156.83 421.55,156.75 421.65,157.09 421.7,157.13 421.75,156.94 421.8,157.13 421.9,157.07 421.95,157.13 422.05,156.71 422.1,156.91 422.25,157.09 422.3,157.09 422.4,156.78 422.5,157.05 422.65,156.68 422.75,157.14 422.85,156.94 422.95,157.11 423,156.9 423.1,157.01 423.4,156.61 423.45,157.05 423.5,156.95 423.55,157.04 423.6,156.96 423.65,157.07 423.8,156.45 423.9,157.06 423.95,156.92 424,157.12 424.1,156.56 424.2,156.92 424.4,156.08 424.5,156.8 424.6,156.68 424.65,156.72 424.75,157.16 424.85,157.17 424.9,156.88 425,157.2 425.1,157.05 425.15,157.11 425.35,157.18 425.45,157.09 425.5,157.19 425.55,157.09 425.65,157.23 425.8,157.18 425.85,156.98 425.9,157.11 425.95,157 426.05,157.15 426.1,157.01 426.15,157.12 426.25,156.48 426.35,156.34 426.45,156.63 426.5,157 426.55,156.96 426.6,157.19 426.7,157.25 426.75,156.96 426.85,156.75 426.9,156.89 427.1,156.58 427.2,157.02 427.3,156.98 427.4,156.55 427.55,157.07 427.6,156.98 427.65,157.08 427.7,157.07 427.75,156.87 427.85,157.15 428.05,157.3 428.15,157.07 428.25,157.31 428.35,157.03 428.4,157.3 428.6,157.08 428.65,157.21 428.7,156.79 428.8,157.22 428.85,157.12 428.95,157.12 429.05,157.3 429.1,157.12 429.15,157.32 429.2,157.22 429.35,157.13 429.4,156.83 429.45,156.91 429.55,156.46 429.6,156.59 429.65,156.58 429.7,156.45 429.8,156.69 429.9,156.68 429.95,156.76 430.1,157.18 430.2,157.29 430.25,157.27 430.35,156.91 430.45,156.76 430.6,157.03 430.75,157.1 430.8,157.34 430.95,157.23 431.05,157.34 431.15,157.17 431.2,157.33 431.25,157.07 431.3,157.29 431.4,157.37 431.5,156.94 431.65,156.63 431.8,156.79 431.85,156.98 431.9,156.87 431.95,156.95 432.05,156.93 432.15,157.04 432.25,156.94 432.35,157.35 432.5,157.23 432.9,154.41 433.05,154.58 433.25,155.59 433.3,155.48 433.7,150.34 433.75,150.43 433.9,152.13 434.1,155.7 434.3,157.05 434.35,156.91 434.4,157.33 434.45,157.41 434.5,157.41 434.55,157.31 434.65,157.4 434.7,157.15 434.75,157.44 434.8,157.26 434.85,157.36 434.9,157.27 434.95,157.47 435.1,157.06 435.15,157.19 435.2,157.2" fill="none" stroke="#000" stroke-width="0.6" stroke-linejoin="round"/>
<g font-size="5.1">
<text transform="translate(337.9 66.2) rotate(-90)">17.6618</text>
<text transform="translate(340.3 96.8) rotate(-90)">19.3282</text>
<text transform="translate(348 93) rotate(-90)">19.3548</text>
<text transform="translate(362.4 118.5) rotate(-90)">22.8006</text>
<text transform="translate(396 42.7) rotate(-90)">31.4981</text>
<text transform="translate(405.3 42.7) rotate(-90)">31.5246</text>
<text transform="translate(414.6 43.3) rotate(-90)">31.4782</text>
</g>
</g>
<g>
<text x="5.9" y="193.3" font-size="14.2" font-weight="normal" stroke-width="0.12">C</text>
<path d="M39.9 208.5V346.25H211.19M39.9 346.25h2.3M39.9 336.41h1.2M39.9 326.57h2.3M39.9 316.73h1.2M39.9 306.89h2.3M39.9 297.05h1.2M39.9 287.21h2.3M39.9 277.38h1.2M39.9 267.54h2.3M39.9 257.7h1.2M39.9 247.86h2.3M39.9 238.02h1.2M39.9 228.18h2.3M39.9 218.34h1.2M39.9 208.5h2.3M39.9 346.25v-2.3M52.13 346.25v-1.2M64.37 346.25v-2.3M76.6 346.25v-1.2M88.84 346.25v-2.3M101.08 346.25v-1.2M113.31 346.25v-2.3M125.54 346.25v-1.2M137.78 346.25v-2.3M150.02 346.25v-1.2M162.25 346.25v-2.3M174.49 346.25v-1.2M186.72 346.25v-2.3M198.96 346.25v-1.2M211.19 346.25v-2.3" fill="none" stroke="#222" stroke-width="0.65"/>
<g font-size="5.9" text-anchor="end">
<text x="36.9" y="348.05">0.0</text>
<text x="36.9" y="329.17">3.0×10<tspan font-size="3.6" dy="-2.1">6</tspan></text>
<text x="36.9" y="309.49">6.0×10<tspan font-size="3.6" dy="-2.1">6</tspan></text>
<text x="36.9" y="289.81">9.0×10<tspan font-size="3.6" dy="-2.1">6</tspan></text>
<text x="36.9" y="270.14">1.2×10<tspan font-size="3.6" dy="-2.1">7</tspan></text>
<text x="36.9" y="250.46">1.5×10<tspan font-size="3.6" dy="-2.1">7</tspan></text>
<text x="36.9" y="230.78">1.8×10<tspan font-size="3.6" dy="-2.1">7</tspan></text>
<text x="36.9" y="211.1">2.1×10<tspan font-size="3.6" dy="-2.1">7</tspan></text>
</g>
<g font-size="5.7" text-anchor="middle">
<text x="39.9" y="354.05">5</text>
<text x="64.37" y="354.05">10</text>
<text x="88.84" y="354.05">15</text>
<text x="113.31" y="354.05">20</text>
<text x="137.78" y="354.05">25</text>
<text x="162.25" y="354.05">30</text>
<text x="186.72" y="354.05">35</text>
<text x="211.19" y="354.05">40</text>
</g>
<text x="125.55" y="364.95" font-size="6.45" text-anchor="middle">Retention time (min)</text>
<text transform="translate(11.05 273.75) rotate(-90)" font-size="6.45" text-anchor="middle">TIC (counts)</text>
<polyline points="40.35,345.51 40.5,345.52 40.55,345.47 40.7,345.15 40.8,345.44 41.05,345.34 41.1,345.14 41.15,345.2 41.25,344.73 41.35,344.8 41.4,344.76 41.65,345.26 41.85,345.46 41.95,345.25 42.05,345.18 42.1,345.21 42.2,345.01 42.25,345.1 42.35,345.14 42.45,345.07 42.65,344.2 42.7,344.13 42.85,344.22 42.9,344.1 42.95,344.31 43,344.23 43.15,345.07 43.25,345.29 43.3,345.22 43.35,345.42 43.45,345.41 43.55,345.29 43.6,345.34 43.65,345.29 43.75,345.42 43.95,345.1 44,345.08 44.05,345.21 44.1,345.24 44.15,345.2 44.25,345.41 44.35,345.44 44.4,345.4 44.45,345.47 44.5,345.37 44.55,345.4 44.7,345.09 44.75,345.12 44.9,344.93 44.95,344.98 45,345.26 45.1,345.28 45.15,345.4 45.2,345.23 45.25,345.3 45.35,344.93 45.7,341.93 45.8,341.71 46.1,344.45 46.25,345.13 46.35,345.32 46.45,345.3 46.5,345.36 46.65,345.2 46.75,345.36 46.8,345.31 46.85,345.37 46.9,345.32 46.95,345.38 47,345.36 47.05,345.24 47.15,345.31 47.2,345.17 47.25,345.2 47.3,345.14 47.35,345.24 47.45,345.08 47.5,345.07 47.65,344.65 47.75,344.7 47.9,344.99 48.2,345.36 48.3,345.37 48.35,345.24 48.5,345.4 48.6,345.41 48.75,345.25 48.8,345.32 48.85,345.29 48.9,345.39 48.95,345.16 49.05,345.1 49.1,345.11 49.2,345.38 49.25,345.32 49.3,345.35 49.35,345.23 49.45,345.35 49.7,344.87 49.85,344.35 50.15,342.05 50.2,342.05 50.25,342.24 50.45,343.98 50.65,344.9 50.7,345.03 50.75,344.97 50.8,345.1 50.85,345.06 50.9,345.18 51.1,344.99 51.15,345.16 51.2,345.16 51.25,345.32 51.3,345.35 51.35,345.24 51.4,345.34 51.45,345.2 51.6,345.34 51.65,345.35 51.7,345.21 51.75,345.29 51.85,345.32 51.9,344.97 51.95,344.95 52.05,344.98 52.15,345.2 52.2,345.19 52.25,345.04 52.3,345.17 52.35,345.14 52.5,344.86 52.6,344.5 52.65,344.68 52.7,344.63 52.75,344.86 52.95,345.28 53.05,345.08 53.15,345.28 53.2,345.24 53.4,344.95 53.45,344.77 53.5,345.08 53.6,345.04 53.65,345.21 53.7,345.08 53.75,345.17 53.8,345.02 53.85,345.04 53.9,344.8 54,344.66 54.15,344.74 54.2,344.89 54.35,344.98 54.4,345.12 54.45,344.93 54.5,344.99 54.6,344.99 54.7,344.8 54.75,344.83 54.85,345.28 54.9,345.26 54.95,345.14 55,345.14 55.05,344.95 55.1,344.92 55.15,345.08 55.25,345.05 55.3,345.09 55.35,345.27 55.45,345.2 55.55,345.04 55.6,345.07 55.65,345.27 55.8,345.26 55.95,345.16 56,345.23 56.05,344.97 56.1,344.95 56.15,344.8 56.2,345.02 56.4,345.24 56.5,345.18 56.7,345.25 56.75,345.06 56.8,345.19 56.85,345.03 56.9,345.04 56.95,345.25 57.2,344.86 57.25,344.41 57.3,344.38 57.35,344.51 57.55,344.1 57.65,344.45 57.8,344.55 57.85,344.85 57.95,345.08 58,345.11 58.05,345.05 58.25,345.14 58.35,345.03 58.4,345.19 58.45,345.23 58.5,345.15 58.55,345.22 58.6,345.11 58.65,345.24 58.8,344.98 58.85,345.07 58.95,345.06 59,345.15 59.05,345.03 59.1,345.2 59.15,345.17 59.2,344.98 59.25,345.1 59.3,344.92 59.35,344.96 59.45,344.66 59.55,344.85 59.6,344.88 59.65,344.82 59.7,344.96 59.8,344.81 59.95,344.89 60,345.03 60.15,344.63 60.3,343.45 60.5,343.15 60.55,343.21 60.75,344.51 60.9,345 61,345.03 61.2,344.82 61.3,344.95 61.5,343.91 61.65,343.51 61.7,343.72 61.75,343.71 61.9,344.16 62,344.71 62.15,345.04 62.2,344.95 62.25,344.98 62.4,344.61 62.5,344.19 62.6,343.48 62.8,340.64 62.9,340.09 62.95,340.17 63,340.61 63.3,344.39 63.5,345.01 63.65,345.09 63.85,344.99 63.95,344.78 64,344.78 64.2,344.14 64.45,343.84 64.65,344.68 64.8,344.95 64.85,344.89 64.9,345.07 64.95,345.08 65,344.95 65.15,345.1 65.25,345.1 65.3,344.99 65.35,345.01 65.4,344.96 65.5,344.73 65.8,343.51 65.85,343.48 66.2,344.74 66.35,344.84 66.4,344.69 66.45,344.69 66.55,345.08 66.6,345.09 66.65,345.01 66.75,345.09 66.85,344.82 66.95,345.05 67,345.04 67.1,344.73 67.2,344.95 67.4,344.84 67.5,345 67.55,344.95 67.65,345.04 67.8,344.67 67.85,344.7 67.95,344.59 68.1,344.6 68.15,344.83 68.25,344.76 68.4,344.88 68.45,345.04 68.5,345.05 68.6,344.86 68.7,345.01 68.75,345.01 68.85,344.93 68.9,344.79 69,345 69.1,344.88 69.2,345.02 69.25,344.94 69.4,344.98 69.5,344.89 69.55,344.97 69.6,344.96 69.65,344.72 69.7,344.77 69.9,344.33 70.15,343.98 70.25,343.7 70.3,343.79 70.35,343.74 70.45,344.35 70.55,344.49 70.65,344.87 70.75,344.95 70.8,344.83 70.9,344.93 71,344.85 71.15,344.54 71.25,344.5 71.35,344.69 71.45,344.67 71.6,344.94 71.75,344.86 71.8,344.95 71.9,344.86 71.95,344.94 72,344.84 72.05,344.94 72.15,344.8 72.2,344.85 72.3,344.57 72.65,342.59 72.9,343.56 73,344.18 73.05,344.18 73.2,344.77 73.25,344.71 73.35,344.92 73.4,344.8 73.45,344.84 73.5,344.74 73.65,344.7 73.75,344.43 74.05,341.96 74.15,341.69 74.5,344.16 74.75,344.83 74.8,344.82 74.9,344.46 74.95,344.52 75.05,344.32 75.35,342.84 75.45,343.08 75.65,344.13 75.95,344.7 76.05,344.6 76.15,344.37 76.2,344.03 76.5,339.42 76.55,338.85 76.6,338.72 76.65,338.73 76.75,339.94 76.9,342.54 77.05,344.22 77.15,344.61 77.2,344.7 77.3,344.61 77.35,344.81 77.4,344.72 77.45,344.81 77.55,344.65 77.6,344.7 77.65,344.41 77.75,344.43 78.05,343.47 78.1,343.6 78.25,343.71 78.45,344.53 78.55,344.55 78.6,344.73 78.85,344.68 78.9,344.77 79,344.78 79.05,344.66 79.2,344.76 79.25,344.65 79.45,344.7 79.6,344.43 79.65,344.44 79.7,344.36 79.95,343.23 80.05,343.08 80.1,343.07 80.5,344.64 80.65,344.55 80.75,344.72 80.8,344.61 80.85,344.7 80.9,344.6 81.05,344.68 81.15,344.6 81.2,344.74 81.35,344.36 81.5,344.45 81.55,344.57 81.6,344.34 81.65,344.37 81.7,344.61 81.75,344.65 81.9,344.57 81.95,344.69 82,344.49 82.1,344.67 82.35,344.39 82.45,344.57 82.5,344.46 82.6,344.7 82.8,344.48 82.85,344.65 83,344.44 83.05,344.13 83.2,343.78 83.4,342.69 83.5,342.68 83.85,344.37 84.05,344.58 84.15,344.6 84.3,344.33 84.5,344.6 84.7,344.61 84.75,344.52 84.8,344.6 84.85,344.53 85,344.64 85.2,344.58 85.4,344.39 85.5,344.05 85.55,344.09 85.7,343.59 85.8,343.47 85.85,343.28 85.95,343.43 86,343.43 86.1,343.79 86.25,343.9 86.55,344.55 86.65,344.43 86.75,344.59 86.9,344.55 87.05,344.4 87.1,344.53 87.15,344.37 87.3,344.56 87.35,344.32 87.5,344.25 87.6,343.95 87.8,343.01 87.9,342.99 87.95,343.14 88.05,343.2 88.15,343.74 88.2,343.72 88.3,344.07 88.35,344.09 88.4,344.3 88.55,344.51 88.6,344.27 88.65,344.36 88.8,344.24 88.95,343.67 89.3,339.57 89.35,339.57 89.4,339.72 89.7,343.43 89.8,344.11 89.85,344.11 89.95,344.38 90.05,344.39 90.1,344.31 90.15,344.41 90.25,344.21 90.3,344.36 90.35,344.34 90.45,343.85 90.6,343.55 90.65,343.26 90.7,343.34 90.85,343.02 91.2,344.22 91.25,344.19 91.3,344.28 91.45,344.38 91.55,344.34 91.6,344.22 91.65,344.27 91.85,343.96 91.9,343.95 91.95,344.05 92.05,343.79 92.15,343.94 92.2,344.19 92.3,344.3 92.35,344.13 92.4,344.21 92.45,344.05 92.6,344.21 92.65,344.16 92.7,344.18 92.75,343.99 92.8,344.14 93.2,343.22 93.25,343.29 93.35,343.09 93.4,343.12 93.5,343.55 93.55,343.5 93.65,343.76 93.75,344.18 93.8,344.2 93.85,344.01 93.95,344.15 94.15,344.22 94.25,344.05 94.3,344.19 94.35,343.98 94.45,344.09 94.65,344.01 94.7,344.03 94.9,343.22 95.05,342.12 95.15,341.83 95.25,341.86 95.55,343.6 95.65,343.92 95.7,343.92 95.8,344.1 96.05,344.08 96.1,343.95 96.15,343.97 96.2,343.89 96.25,344.02 96.3,344.03 96.4,343.93 96.5,344.01 96.55,343.95 96.65,344.06 96.7,343.92 96.75,344.01 96.85,343.84 96.9,343.84 97,343.57 97.05,343.59 97.1,343.72 97.25,343.54 97.4,343.14 97.55,342.35 97.6,342.3 97.8,342.67 97.9,343.31 98,343.56 98.05,343.45 98.2,343.87 98.25,343.65 98.4,343.92 98.45,343.63 98.5,343.61 98.55,343.75 98.6,343.74 98.85,343.09 98.95,342.35 99.1,341.8 99.3,342.42 99.45,343.34 99.55,343.52 99.65,343.49 99.75,343.04 100.1,340.25 100.45,342.86 100.5,343.05 100.75,343.1 101,342.74 101.2,342.23 101.25,342.29 101.3,342.14 101.4,341.32 101.45,340.03 101.55,333.59 101.75,299.81 101.8,293.9 101.85,293.03 102.15,336.35 102.2,339.27 102.3,341.62 102.35,341.95 102.4,341.97 102.5,342.29 102.55,341.86 102.6,341.8 102.7,342.23 102.75,342.21 102.8,342.36 102.9,342.42 102.95,342.52 103,342.47 103.1,342.69 103.2,342.5 103.25,342.72 103.3,342.61 103.45,342.54 103.5,342.76 103.55,342.79 103.6,342.75 103.65,342.81 103.85,342.49 104,342.74 104.15,342.3 104.25,342.2 104.3,342.41 104.45,342.23 104.5,342.33 104.6,342.39 104.65,342.31 104.7,342.39 104.75,342.19 104.85,342.6 104.95,342.61 105,342.46 105.05,342.56 105.1,342.26 105.2,342.27 105.25,342.17 105.3,342.18 105.35,342.39 105.4,342.23 105.5,342.41 105.55,342.2 105.65,342.28 105.7,342.12 105.75,342.17 105.8,342.06 105.95,342.27 106.05,342.23 106.2,341.82 106.3,341.96 106.4,341.9 106.5,341.99 106.55,341.86 106.6,341.94 106.75,341.95 106.8,341.82 106.9,341.85 106.95,341.8 107,341.64 107.05,341.64 107.2,341.4 107.25,341.44 107.3,341.67 107.4,341.3 107.55,341.05 107.7,341.18 107.8,341.4 107.85,341.39 107.95,341.23 108.1,341.23 108.2,340.95 108.3,340.91 108.4,340.76 108.5,340.94 108.55,340.83 108.6,340.86 108.65,340.79 108.7,340.84 108.9,340.48 108.95,340.22 109,340.21 109.15,339.99 109.2,340.07 109.25,340.07 109.4,339.98 109.45,339.83 109.5,339.87 109.6,339.41 109.7,337.61 109.8,333.07 110.15,301.28 110.2,301.38 110.25,303.86 110.5,331.25 110.65,339.88 110.75,341.25 110.8,341.23 110.85,340.82 111.15,332.17 111.25,330.64 111.3,330.78 111.35,331.64 111.55,338.41 111.7,341.65 111.75,342.08 111.95,342.59 112,342.5 112.1,342.55 112.2,342.26 112.25,342.44 112.35,342.31 112.45,342.37 112.55,342.61 112.6,342.61 112.65,342.55 112.7,342.61 112.8,342.59 112.85,342.45 112.9,342.56 112.95,342.44 113.05,342.56 113.15,342.47 113.25,342.49 113.3,342.45 113.35,342.51 113.4,342.44 113.45,342.52 113.55,342.44 113.6,342.48 113.7,342.3 113.75,342.05 113.8,342.11 113.85,342.07 113.95,341.83 114.05,341.89 114.1,341.72 114.15,342.19 114.2,342.12 114.3,342.44 114.45,342.39 114.5,342.24 114.55,342.37 114.7,342.23 114.9,342.14 114.95,342.15 115,342.36 115.05,342.39 115.2,342.15 115.3,342.32 115.35,342.12 115.4,342.2 115.5,342.16 115.55,342.34 115.6,342.17 115.7,342.32 115.75,342.19 115.8,342.32 115.85,342.34 115.9,342.13 116,342.31 116.1,342.22 116.25,341.85 116.3,341.59 116.4,340.62 116.7,335.82 116.75,335.88 116.8,336.15 116.85,336.77 117.15,341.39 117.2,341.68 117.25,341.69 117.4,342.18 117.45,342.05 117.5,342.16 117.55,342.17 117.65,342.04 117.75,342.12 117.85,341.92 117.9,341.95 118,341.89 118.05,341.97 118.1,341.89 118.2,342.15 118.25,341.97 118.3,342.06 118.35,341.93 118.45,342.12 118.6,341.95 118.65,342.08 118.75,341.92 118.8,341.93 118.9,341.84 118.95,341.84 119,341.96 119.05,341.8 119.15,342.05 119.3,341.83 119.5,342.02 119.7,342.02 119.85,341.85 119.9,341.86 120,341.98 120.05,341.88 120.2,341.92 120.35,341.59 120.4,341.58 120.45,341.32 120.5,341.31 120.6,341.07 120.65,341.05 120.7,341.11 120.75,341.02 120.95,341.36 121.05,341.69 121.1,341.53 121.15,341.69 121.2,341.72 121.25,341.48 121.3,341.48 121.35,341.57 121.4,341.43 121.45,341.44 121.5,341.59 121.55,341.32 121.7,341.62 121.75,341.56 121.8,341.59 121.85,341.47 121.9,341.48 121.95,341.29 122,341.4 122.15,341.4 122.2,341.33 122.25,341.46 122.35,341.26 122.4,341.38 122.5,341.2 122.55,341.33 122.7,341.31 122.85,340.97 122.95,341.11 123.05,341.09 123.15,341.17 123.35,340.84 123.5,341.03 123.6,340.8 123.75,340.92 123.85,340.6 123.9,340.75 124,340.66 124.2,339.87 124.25,339.79 124.3,339.86 124.45,339.42 124.5,339.43 124.6,339.35 124.7,338.74 124.85,338.78 124.9,338.56 124.95,338.64 125,338.57 125.05,338.63 125.1,338.57 125.25,338.6 125.4,338.5 125.5,338.37 125.6,337.9 125.65,337.95 125.75,337.58 125.9,337.28 125.95,337.33 126,337.3 126.15,337.49 126.25,337.8 126.55,339.34 126.75,339.98 126.85,339.96 126.95,339.76 127.15,338.93 127.25,338.71 127.3,338.69 127.35,338.55 127.4,338.72 127.45,338.52 127.55,338.47 127.6,338.54 127.65,338.52 127.9,339.4 128,339.52 128.05,339.67 128.15,340.15 128.25,340.33 128.35,340.4 128.4,340.51 128.5,340.24 128.6,340.3 128.65,340.18 128.7,340.17 128.85,340.69 128.95,340.66 129,340.69 129.15,340.5 129.2,340.66 129.25,340.59 129.3,340.67 129.35,340.64 129.4,340.69 129.6,340.42 129.7,340.16 129.85,340.34 130,340.41 130.1,340.56 130.15,340.54 130.2,340.32 130.25,340.3 130.4,340.51 130.5,340.43 130.6,340.23 130.65,340.29 130.75,339.77 130.8,339.77 130.9,339.57 130.95,339.68 131,339.64 131.25,340.38 131.4,340.42 131.45,340.37 131.5,340.48 131.6,340.28 131.65,340.39 131.7,340.34 131.85,340.66 131.9,340.53 132,340.61 132.05,340.57 132.15,340.65 132.25,340.5 132.3,340.49 132.35,340.6 132.45,340.53 132.5,340.62 132.55,340.61 132.6,340.66 132.7,340.4 132.8,340.53 132.9,340.41 132.95,340.57 133,340.37 133.1,340.59 133.2,340.4 133.25,340.35 133.3,340.43 133.35,340.32 133.4,340.45 133.5,340.36 133.7,340.47 133.8,340.36 133.95,340.52 134,340.39 134.05,340.45 134.1,340.37 134.2,340.53 134.35,340.57 134.55,339.98 134.6,339.96 134.8,339.28 134.85,339.34 134.9,339.21 135.25,340.4 135.3,340.29 135.35,340.29 135.45,340.46 135.5,340.42 135.55,340.52 135.6,340.43 135.75,340.63 135.85,340.56 135.9,340.59 136.05,340.45 136.1,340.57 136.2,340.42 136.25,340.53 136.3,340.41 136.35,340.53 136.4,340.47 136.5,340.61 136.55,340.59 136.6,340.35 136.7,340.2 136.85,340.6 137.05,340.53 137.1,340.44 137.15,340.6 137.25,340.33 137.4,340.36 137.45,340.14 137.6,339.89 137.65,339.65 137.75,339.6 137.8,339.44 137.85,339.41 137.95,339.89 138.05,340.08 138.1,340.06 138.2,340.41 138.25,340.42 138.3,340.16 138.4,340.25 138.45,340.48 138.5,340.5 138.55,340.46 138.6,340.2 138.65,340.19 138.7,340.31 138.75,340.27 138.85,340.34 138.9,340.29 139.05,340.56 139.1,340.5 139.15,340.53 139.25,340.22 139.3,340.34 139.35,340.29 139.4,340.43 139.5,340.37 139.55,340.52 139.7,340.31 139.75,340.47 139.9,340.58 140.1,340.18 140.3,340.4 140.35,340.58 140.55,340.08 140.6,340.18 140.65,340.13 140.7,340.24 140.75,340.11 140.85,340.29 140.9,340.21 141.05,340.53 141.15,340.57 141.25,340.42 141.4,340.52 141.5,340.32 141.55,340.49 141.65,340.5 141.75,340.22 141.85,340.12 142.05,338.9 142.1,338.73 142.15,338.72 142.2,338.63 142.25,338.66 142.6,339.98 142.7,340.17 142.75,340.18 142.85,340.54 142.9,340.44 143.05,340.54 143.1,340.42 143.15,340.48 143.25,340.1 143.3,340.09 143.4,340.24 143.45,340.24 143.6,340.5 143.7,340.48 143.85,340.35 143.95,340.44 144.05,340.33 144.1,340.54 144.15,340.49 144.25,340.53 144.4,340.45 144.5,340.2 144.55,340.19 144.6,340.34 144.75,339.46 144.8,339.41 145,337.99 145.05,338.01 145.1,337.76 145.15,337.74 145.25,338.05 145.45,339.64 145.6,340.23 145.65,340.25 145.7,340.43 145.8,340.16 145.85,340.39 145.9,340.44 146,340.49 146.1,340.43 146.15,340.32 146.25,340.48 146.35,340.26 146.55,340.3 146.65,340.09 146.7,340.14 146.75,340.09 147.05,338.74 147.2,339.13 147.4,339.97 147.5,340.17 147.55,340.13 147.8,340.49 147.95,340.14 148,340.29 148.15,340.33 148.2,340.47 148.5,340.16 148.65,339.71 148.95,336.24 149,335.73 149.05,335.61 149.1,335.81 149.25,337.86 149.45,339.76 149.6,340.21 149.85,340.39 149.95,340.41 150.05,340.3 150.15,340.07 150.25,339.73 150.35,338.98 150.5,338.61 150.55,338.8 150.65,338.91 150.9,340.24 151,340.27 151.05,340.15 151.15,340.18 151.2,340.13 151.25,340.29 151.3,340.25 151.35,340.46 151.45,340.44 151.5,340.38 151.55,340.45 151.75,340.36 151.95,340.09 152,340.17 152.05,340.02 152.1,340.11 152.2,340.09 152.3,340.44 152.4,340.39 152.45,340.25 152.5,340.35 152.6,340.26 152.65,340.4 152.7,340.37 152.8,340.54 152.9,340.26 152.95,340.37 153.1,340.34 153.2,340.41 153.25,340.58 153.35,340.58 153.4,340.74 153.45,340.68 153.5,340.74 153.6,340.7 153.7,340.36 153.85,340.71 154,340.92 154.05,340.7 154.2,340.58 154.3,340.59 154.35,340.74 154.4,340.66 154.45,340.84 154.5,340.81 154.7,340.55 154.75,340.28 154.85,340.15 154.95,340.26 155.05,340.61 155.15,340.75 155.2,340.71 155.25,340.79 155.4,340.76 155.6,340.89 155.65,340.82 155.7,341.04 155.75,341.04 155.8,341.17 155.9,341.23 155.95,341.1 156.05,341.24 156.2,341.24 156.25,341.09 156.3,341.16 156.45,341.18 156.5,341.06 156.6,341.02 156.65,341.27 156.75,340.95 156.85,341.03 157,341.28 157.05,341.16 157.25,341.26 157.3,341.06 157.4,340.98 157.45,341.01 157.5,340.92 157.55,341.15 157.65,341.14 157.7,341.2 157.8,341.17 157.85,341.29 158.05,341.24 158.15,341.29 158.25,340.87 158.3,340.79 158.45,340.77 158.6,341.3 158.75,340.91 158.9,341.05 158.95,341.01 159,341.06 159.05,340.96 159.15,341.3 159.2,341.18 159.25,341.18 159.35,341.3 159.4,341.3 159.45,341.13 159.55,341.22 159.6,341.16 159.7,341.32 159.8,341.3 159.9,341 160,341.04 160.2,340.94 160.3,341.13 160.35,340.99 160.45,341.09 160.55,341.3 160.6,341.27 160.65,341.31 160.7,341.25 160.75,341.02 160.8,341.07 160.85,341.04 160.9,341.21 161.1,341.25 161.15,341.2 161.25,341.2 161.3,341.28 161.35,341.25 161.5,341.3 161.65,341.25 161.7,341.33 161.75,341.21 161.8,341.25 161.9,341.08 161.95,341.08 162.05,341.2 162.1,341.17 162.15,341.36 162.2,341.21 162.3,341.36 162.4,341.3 162.55,341.36 162.6,341.2 162.65,341.3 162.9,341.03 162.95,341.19 163,341.01 163.1,341.03 163.2,341.36 163.3,341.35 163.4,341.12 163.5,341.03 163.6,341.33 163.7,341.31 163.8,341.21 163.85,341.01 163.95,341.08 164,341.29 164.05,341.29 164.1,341.36 164.15,341.3 164.2,341.34 164.25,341.09 164.3,341.13 164.35,340.98 164.55,341.33 164.65,341.23 164.7,341.31 164.8,341.14 164.85,341.22 164.9,341.11 164.95,341.15 165.05,340.74 165.1,340.8 165.25,340.26 165.3,340.24 165.5,339.3 165.65,338.96 165.75,338.91 165.8,338.97 166.05,340.19 166.3,341.12 166.35,341.08 166.45,341.25 166.5,341.22 166.55,341.32 166.6,341.32 166.65,341.31 166.75,341.05 166.8,341.19 166.9,341.28 166.95,341.15 167,341.19 167.1,340.71 167.15,340.69 167.25,340.79 167.35,341.07 167.45,340.98 167.5,340.73 167.55,340.91 167.6,340.87 167.65,340.9 167.7,340.76 167.75,340.87 167.8,340.6 167.85,340.56 167.9,340.62 168,340.36 168.1,340.45 168.2,340.27 168.25,339.99 168.35,339.93 168.4,339.81 168.45,339.89 168.6,339.58 168.7,339.14 168.8,337.52 168.95,331.54 169.4,298.69 170.05,228.39 170.1,227.18 170.5,276.75 170.85,311.46 171.15,332.52 171.3,338.57 171.4,339.41 171.6,339.77 171.7,339.6 171.85,339.89 172,339.87 172.05,339.93 172.4,338.22 172.5,337.91 172.55,337.92 173.05,341.06 173.1,341.18 173.15,341.09 173.25,341.44 173.45,341.63 173.55,341.52 173.6,341.65 173.65,341.57 173.7,341.57 173.75,341.68 174,341.46 174.1,341.67 174.3,341.58 174.35,341.67 174.45,341.59 174.55,341.74 174.6,341.7 174.75,341.73 174.8,341.52 174.9,341.65 174.95,341.6 175,341.63 175.05,341.59 175.1,341.69 175.15,341.54 175.2,341.72 175.35,341.6 175.45,341.39 175.85,339.32 176,339.1 176.2,339.64 176.5,341.44 176.65,341.74 176.75,341.65 176.8,341.69 176.85,341.64 176.95,341.18 177.3,337.7 177.35,337.3 177.45,337.09 177.5,337.2 177.85,341.05 177.95,341.36 178.05,341.35 178.3,341.72 178.35,341.57 178.45,341.54 178.55,341.21 178.7,340.33 178.8,340 178.9,339.86 179,340.09 179.1,340.66 179.35,341.57 179.4,341.51 179.55,341.75 179.65,341.64 179.7,341.69 179.75,341.66 179.8,341.85 179.95,341.74 180,341.62 180.05,341.77 180.2,341.71 180.25,341.55 180.4,341.86 180.55,341.58 180.6,341.65 180.65,341.48 180.7,341.5 180.75,341.37 180.85,341.43 180.95,341.71 181,341.67 181.05,341.71 181.1,341.84 181.25,341.9 181.3,341.76 181.45,341.81 181.5,341.68 181.6,341.93 181.7,341.7 181.75,341.75 181.8,341.67 181.85,341.68 181.9,341.39 181.95,341.4 182,341.56 182.05,341.51 182.2,341.82 182.25,341.81 182.35,341.92 182.4,341.81 182.45,341.83 182.55,341.56 182.7,341.73 182.75,341.68 182.85,341.89 182.9,341.9 183.05,341.58 183.15,341.66 183.3,341.92 183.35,341.71 183.4,341.75 183.45,341.73 183.65,341.99 183.75,341.71 183.8,341.8 183.85,341.76 183.9,341.95 184,341.93 184.05,341.97 184.15,341.78 184.2,341.87 184.35,341.75 184.4,341.78 184.45,341.62 184.5,341.68 184.55,341.67 184.6,341.51 184.75,341.98 184.9,341.94 185,341.6 185.15,341.61 185.2,341.57 185.25,341.69 185.3,341.7 185.35,341.94 185.4,341.84 185.55,342.02 185.6,341.96 185.65,342.02 185.75,341.87 185.8,342 185.85,341.96 185.9,342.01 186,342.01 186.1,341.91 186.25,341.59 186.3,341.75 186.35,341.77 186.4,341.7 186.45,341.8 186.55,341.66 186.65,341.32 187,341.88 187.1,341.69 187.3,342.04 187.45,342.01 187.55,341.81 187.6,341.8 187.65,341.95 187.7,341.97 187.75,341.91 187.85,341.96 187.9,342.08 188,341.9 188.05,342.01 188.1,341.97 188.15,341.77 188.3,342.04 188.35,341.97 188.4,342.09 188.5,342.07 188.55,341.91 188.65,341.94 188.75,341.75 188.8,341.81 188.95,341.74 189.05,341.8 189.1,341.92 189.15,341.9 189.25,342.11 189.35,341.99 189.45,342.01 189.55,341.68 189.75,341.92 189.8,341.8 189.95,342.15 190.05,342.07 190.15,342.14 190.2,342.03 190.25,342.14 190.4,341.89 190.45,341.89 190.5,341.53 190.55,341.6 190.6,341.47 190.7,341.74 190.8,341.86 190.85,342.08 190.9,342.05 191.05,342.17 191.1,342.13 191.3,342.17 191.4,342.05 191.45,341.89 191.5,342.1 191.6,342.18 191.65,342.11 191.7,342.13 191.75,342.05 191.85,342.07 191.9,342.2 191.95,342.1 192.05,342.04 192.1,342.2 192.2,342.13 192.3,342.2 192.35,341.99 192.5,342.22 192.6,342.14 192.8,342.2 192.95,341.88 193,341.89 193.1,342.18 193.15,342.1 193.2,342.13 193.3,342.09 193.35,342.1 193.4,342.23 193.45,342.24 193.5,342.14 193.55,342.24 193.65,342.21 193.7,342.11 193.75,342.25 193.8,342.06 193.9,341.96 193.95,342.07 194.2,341.85 194.25,341.83 194.3,341.91 194.35,341.81 194.45,341.94 194.55,341.9 194.6,342.13 194.65,342.03 194.75,342.14 194.85,341.99 194.95,342.14 195,342.01 195.05,342.19 195.15,342.2 195.2,342.28 195.25,342.16 195.35,342.26 195.45,342.17 195.6,342.28 195.65,342.12 195.8,342.22 195.85,342.07 195.9,342.18 196.05,342.1 196.1,342.23 196.2,342.03 196.25,342.15 196.35,342.11 196.45,342.22 196.5,342.1 196.55,342.13 196.6,342.32 196.7,342.11 196.75,342.13 196.8,342.04 196.9,342.3 197.05,342.21 197.1,342.07 197.25,341.96 197.3,341.96 197.4,342.2 197.6,341.91 197.65,342.12 197.75,342.19 197.8,342.3 197.95,342.14 198,341.91 198.15,342.26 198.2,342.28 198.25,342.17 198.35,342.12 198.4,342.28 198.9,341 199,341.08 199.1,341.28 199.2,341.76 199.35,342 199.55,341.37 199.65,341.26 199.9,339.67 200.1,340.2 200.25,341.48 200.45,342.1 200.55,342.02 200.65,342.19 200.8,342.24 200.85,342.1 200.9,342.25 201,342.25 201.05,342.37 201.1,342.32 201.2,342.39 201.3,342.34 201.35,342.44 201.4,342.39" fill="none" stroke="#000" stroke-width="0.6" stroke-linejoin="round"/>
<g font-size="5.1">
<text transform="translate(103.2 292.6) rotate(-90)">17.6551</text>
<text transform="translate(112 300.9) rotate(-90)">19.3548</text>
<text transform="translate(120.7 301.8) rotate(-90)">19.3149</text>
<text transform="translate(171.5 226.9) rotate(-90)">31.5977</text>
</g>
</g>
<g>
<text x="240.3" y="193.75" font-size="14.2" font-weight="normal" stroke-width="0.12">D</text>
<path d="M273.6 207.4V345.35H444.89M273.6 345.35h2.3M273.6 336.73h1.2M273.6 328.11h2.3M273.6 319.48h1.2M273.6 310.86h2.3M273.6 302.24h1.2M273.6 293.62h2.3M273.6 285h1.2M273.6 276.38h2.3M273.6 267.75h1.2M273.6 259.13h2.3M273.6 250.51h1.2M273.6 241.89h2.3M273.6 233.27h1.2M273.6 224.64h2.3M273.6 216.02h1.2M273.6 207.4h2.3M273.6 345.35v-2.3M285.84 345.35v-1.2M298.07 345.35v-2.3M310.31 345.35v-1.2M322.54 345.35v-2.3M334.78 345.35v-1.2M347.01 345.35v-2.3M359.25 345.35v-1.2M371.48 345.35v-2.3M383.72 345.35v-1.2M395.95 345.35v-2.3M408.19 345.35v-1.2M420.42 345.35v-2.3M432.66 345.35v-1.2M444.89 345.35v-2.3" fill="none" stroke="#222" stroke-width="0.65"/>
<g font-size="5.9" text-anchor="end">
<text x="270.6" y="347.15">0.0</text>
<text x="270.6" y="330.71">2.0×10<tspan font-size="3.6" dy="-2.1">6</tspan></text>
<text x="270.6" y="313.46">4.0×10<tspan font-size="3.6" dy="-2.1">6</tspan></text>
<text x="270.6" y="296.22">6.0×10<tspan font-size="3.6" dy="-2.1">6</tspan></text>
<text x="270.6" y="278.98">8.0×10<tspan font-size="3.6" dy="-2.1">6</tspan></text>
<text x="270.6" y="261.73">1.0×10<tspan font-size="3.6" dy="-2.1">7</tspan></text>
<text x="270.6" y="244.49">1.2×10<tspan font-size="3.6" dy="-2.1">7</tspan></text>
<text x="270.6" y="227.24">1.4×10<tspan font-size="3.6" dy="-2.1">7</tspan></text>
<text x="270.6" y="210">1.6×10<tspan font-size="3.6" dy="-2.1">7</tspan></text>
</g>
<g font-size="5.7" text-anchor="middle">
<text x="273.6" y="353.15">5</text>
<text x="298.07" y="353.15">10</text>
<text x="322.54" y="353.15">15</text>
<text x="347.01" y="353.15">20</text>
<text x="371.48" y="353.15">25</text>
<text x="395.95" y="353.15">30</text>
<text x="420.42" y="353.15">35</text>
<text x="444.89" y="353.15">40</text>
</g>
<text x="359.25" y="364.05" font-size="6.45" text-anchor="middle">Retention time (min)</text>
<text transform="translate(244.5 273.75) rotate(-90)" font-size="6.45" text-anchor="middle">TIC (counts)</text>
<polyline points="274.05,344.62 274.1,344.63 274.2,344.45 274.3,344.52 274.35,344.39 274.4,344.51 274.45,344.45 274.6,344.58 274.85,344.13 274.9,344.13 274.95,344.06 275,343.89 275.05,343.93 275.1,343.76 275.15,343.89 275.2,343.89 275.25,344.08 275.3,343.98 275.4,344.32 275.45,344.24 275.5,344.45 275.55,344.45 275.6,344.25 275.75,344.58 275.85,344.53 275.9,344.58 275.95,344.38 276.1,344.42 276.15,344.32 276.3,343.86 276.4,343.25 276.5,343.11 276.7,343.42 276.85,344.13 277,344.26 277.05,344.37 277.1,344.26 277.15,344.39 277.2,344.33 277.3,344.56 277.55,344.15 277.6,344.18 277.65,344.13 277.75,344.33 277.85,344.39 277.9,344.54 277.95,344.51 278,344.26 278.1,344.2 278.15,344.32 278.25,344.11 278.45,344.53 278.55,344.45 278.6,344.53 278.65,344.37 278.7,344.48 278.85,344.51 279.05,344.05 279.45,340.1 279.6,340.98 279.75,342.86 279.9,344.03 280,344.08 280.1,344.39 280.2,344.34 280.25,344.24 280.4,344.5 280.5,344.43 280.55,344.3 280.6,344.33 280.65,344.27 280.75,344.45 280.85,344.36 280.95,344.36 281.15,343.83 281.2,343.78 281.3,343.89 281.45,343.56 281.5,343.64 281.6,343.56 281.75,344.13 282,344.38 282.15,344.25 282.2,344.3 282.25,344.16 282.3,344.2 282.35,344.02 282.5,344.39 282.55,344.38 282.75,343.91 282.8,343.92 283,344.38 283.05,344.41 283.1,344.3 283.25,344.24 283.3,344.29 283.35,344 283.5,343.65 283.8,340.98 283.9,340.69 284.25,343.69 284.45,344.35 284.5,344.37 284.6,344.3 284.65,344.41 284.7,344.29 284.75,344.37 284.8,344.3 284.95,344.42 285,344.4 285.1,344.16 285.15,344.38 285.25,344.26 285.3,344.37 285.4,344.2 285.5,343.81 285.55,343.83 285.65,344.11 285.7,344.07 285.9,344.36 286,344.3 286.05,344.37 286.1,344.21 286.15,344.35 286.2,344.26 286.25,344.37 286.35,344.28 286.45,344.36 286.5,344.31 286.55,344.35 286.6,344.31 286.7,344.38 286.9,344.27 287.05,344.36 287.15,344.24 287.2,344.31 287.3,344.26 287.35,344.14 287.4,344.13 287.45,344.22 287.65,343.92 287.7,343.77 287.8,343.69 287.85,343.76 287.9,343.73 287.95,343.93 288,343.93 288.15,344.23 288.2,344.11 288.25,344.22 288.35,344.19 288.4,344.02 288.45,344.11 288.5,343.84 288.55,343.83 288.6,343.91 288.7,343.72 288.75,343.89 288.8,343.9 288.85,343.82 289,344.09 289.1,343.87 289.15,343.91 289.35,343.86 289.45,343.97 289.5,343.93 289.65,344.29 289.7,344.31 289.75,344.29 289.8,344.11 289.9,344.2 289.95,343.94 290.05,343.78 290.1,343.87 290.15,343.75 290.2,344.04 290.3,344.09 290.35,344.28 290.4,344.31 290.5,344.15 290.65,344.22 290.8,344.05 290.85,344.08 291.2,342.99 291.25,343.09 291.3,343.08 291.35,343.21 291.55,343.98 291.6,344.07 291.65,344.04 291.7,344.08 291.8,344.26 291.85,344.16 291.9,344.15 291.95,344.25 292.05,344.16 292.15,344.24 292.2,344.19 292.3,344.26 292.4,344.25 292.5,344.09 292.55,344.16 292.65,344.02 292.7,343.98 292.75,344.04 292.8,343.96 292.85,343.99 292.9,344.2 292.95,344.2 293.2,344.02 293.25,343.82 293.3,343.9 293.35,343.77 293.45,343.73 293.6,343.78 293.65,343.92 293.7,343.9 293.75,343.94 294.1,341.96 294.25,342.18 294.55,343.9 294.65,344.09 294.75,344.09 294.85,343.92 294.9,343.96 295,343.71 295.05,343.72 295.35,342.31 295.5,342.68 295.75,343.87 295.85,344.08 295.95,344.04 296,344.11 296.1,343.92 296.2,343.31 296.5,339.15 296.6,338.52 296.75,339.75 296.95,342.76 297.05,343.39 297.15,343.72 297.25,343.74 297.3,343.61 297.45,344.12 297.55,344.03 297.6,344.05 297.7,343.58 297.75,343.68 297.8,343.58 298,342.65 298.15,342.69 298.45,343.88 298.5,343.95 298.6,343.92 298.75,344.08 298.9,343.87 299,344.06 299.15,343.84 299.4,342.65 299.55,342.3 299.65,342.43 299.7,342.4 299.95,343.71 300,343.72 300.1,343.94 300.2,343.84 300.25,344.01 300.35,343.94 300.4,343.99 300.5,343.77 300.65,344.02 300.75,343.63 300.8,343.75 300.9,343.56 301,343.66 301.05,343.82 301.1,343.75 301.15,343.83 301.25,343.73 301.35,343.93 301.4,343.95 301.45,343.88 301.5,344.04 301.55,343.94 301.65,343.93 301.7,344.03 301.75,343.89 301.8,343.98 301.85,343.88 301.9,343.91 301.95,343.74 302,343.84 302.05,343.71 302.15,343.96 302.3,343.72 302.35,343.89 302.4,343.82 302.45,343.93 302.6,343.64 302.7,343.87 302.85,343.61 302.95,343.96 303,343.81 303.1,343.92 303.2,343.72 303.35,343.93 303.6,343.69 303.85,342.76 303.9,342.84 303.95,342.7 304,342.74 304.1,343.09 304.15,343.09 304.35,343.75 304.4,343.54 304.45,343.8 304.5,343.84 304.55,343.78 304.65,343.83 304.75,343.73 304.8,343.57 304.9,343.8 304.95,343.78 305.1,343.89 305.3,343.73 305.4,343.83 305.45,343.71 305.55,343.68 305.6,343.8 305.7,343.88 305.8,343.75 305.85,343.82 305.95,343.58 306.3,341.69 306.4,341.49 306.45,341.58 306.75,343.34 306.85,343.42 306.9,343.69 306.95,343.63 307,343.8 307.1,343.85 307.3,343.53 307.5,342.91 307.85,340.61 307.9,340.66 308.15,342.72 308.3,343.44 308.35,343.45 308.4,343.35 308.45,343.53 308.5,343.48 308.65,343 308.75,342.92 308.8,343 309,341.51 309.05,341.43 309.15,341.71 309.4,343.21 309.5,343.51 309.65,343.69 309.8,343.37 309.9,342.8 310.2,337.35 310.25,336.6 310.3,336.42 310.4,337.31 310.7,342.55 310.85,343.51 310.95,343.63 311,343.62 311.1,343.7 311.2,343.69 311.3,343.43 311.35,343.44 311.4,343.33 311.45,343.32 311.75,342.11 311.8,342.29 311.85,342.23 311.95,342.44 312.1,343.08 312.15,343.13 312.2,343.08 312.3,343.46 312.45,343.61 312.5,343.56 312.65,343.66 312.75,343.54 312.8,343.66 312.85,343.55 313,343.65 313.1,343.53 313.15,343.58 313.2,343.35 313.35,343.13 313.7,341.67 313.75,341.77 313.8,341.68 313.85,341.85 314,342.87 314.1,343.24 314.15,343.27 314.25,343.55 314.6,343.59 314.75,343.31 314.9,343.48 314.95,343.38 315.05,343.32 315.15,343.58 315.2,343.47 315.25,343.52 315.4,343.34 315.45,343.1 315.5,343.09 315.6,343.28 315.65,343.14 315.7,343.2 315.75,343.15 315.8,343.18 316,343.45 316.05,343.36 316.1,343.45 316.15,343.26 316.2,343.24 316.25,343.12 316.3,343.15 316.4,343.06 316.45,343.25 316.55,343.09 316.65,343.29 316.75,343.18 316.85,342.77 316.95,341.79 317.1,341.17 317.15,341.19 317.25,341.43 317.5,342.99 317.6,343.2 317.65,343.19 317.75,343.27 317.8,343.42 317.9,343.46 317.95,343.31 318,343.41 318.05,343.26 318.15,343.45 318.2,343.37 318.3,343.36 318.35,343.41 318.4,343.35 318.5,343.47 318.55,343.36 318.65,343.37 318.7,343.25 318.8,343.35 318.9,343.25 318.95,343.28 319,343.06 319.05,343.03 319.2,343.17 319.3,342.99 319.5,342.05 319.65,341.95 319.75,342.11 319.9,342.79 320.1,343.33 320.15,343.37 320.35,343.2 320.4,343.25 320.45,343.07 320.6,343.39 320.75,343.18 320.8,343.2 320.85,343.04 321.05,343.3 321.1,343.26 321.3,342.64 321.5,341.68 321.6,341.54 322,343.14 322.1,343.23 322.25,343.22 322.3,343.16 322.35,343.26 322.45,343.25 322.55,343.01 322.65,342.41 322.95,338.04 323,337.64 323.05,337.57 323.15,338.46 323.4,342.23 323.5,342.88 323.55,343.05 323.65,343.18 323.8,343.15 323.9,342.99 323.95,343 324.1,342.63 324.15,342.64 324.25,342.21 324.5,341.68 324.75,342.35 324.8,342.7 324.9,342.94 325.05,342.69 325.1,342.74 325.15,343.03 325.2,343.07 325.25,343.08 325.3,342.98 325.4,342.98 325.45,342.72 325.6,342.8 325.7,343.05 325.8,342.86 325.85,342.97 325.9,342.92 326.05,343.02 326.1,342.98 326.15,343.04 326.3,342.8 326.35,342.58 326.4,342.85 326.45,342.91 326.5,342.89 326.55,342.62 326.65,342.63 326.85,341.83 327,341.75 327.1,341.83 327.25,342.2 327.4,342.82 327.5,342.71 327.6,342.8 327.65,342.77 327.75,342.52 327.8,342.51 327.9,342.61 327.95,342.58 328,342.66 328.05,342.63 328.1,342.67 328.15,342.8 328.25,342.87 328.3,342.74 328.35,342.78 328.45,342.66 328.5,342.52 328.9,339.94 328.95,340.25 329,340.29 329.3,342.42 329.45,342.6 329.5,342.51 329.6,342.64 329.75,342.38 329.8,342.48 329.9,342.45 330,342.33 330.1,342.45 330.15,342.32 330.25,342.34 330.4,342.23 330.5,342.25 330.55,342.37 330.6,342.23 330.75,342.47 330.85,342.42 330.95,342.43 331.2,341.02 331.35,340.6 331.5,341.15 331.65,342.03 331.8,342.46 332.05,342.17 332.2,342.49 332.35,342.17 332.45,341.73 332.5,341.72 332.7,340.51 332.8,340.21 332.85,340.2 333.1,341.55 333.2,342.02 333.25,342.08 333.35,341.82 333.5,341.04 333.65,339.63 333.75,338.88 333.8,338.77 333.85,338.89 334.1,340.75 334.3,341.68 334.4,341.53 334.55,340.96 334.6,341.02 334.7,340.95 334.75,340.59 334.85,340.35 334.9,340.36 335.1,339.69 335.2,338.23 335.25,336.29 335.4,314.79 335.55,269.45 335.6,260.36 335.65,259.31 335.9,322.96 336,335.26 336.05,337.71 336.15,339.31 336.2,339.52 336.25,339.13 336.4,339.83 336.45,339.81 336.55,340.19 336.7,340.36 336.75,340.29 336.8,340.3 336.85,339.92 337,339.54 337.1,338.8 337.25,338.31 337.5,339.96 337.9,341.07 338.1,340.7 338.25,341.03 338.3,340.88 338.35,340.95 338.5,340.95 338.6,340.76 338.65,340.84 338.75,340.83 338.95,340.45 339,340.63 339.05,340.31 339.1,340.31 339.3,340.55 339.4,340.5 339.45,340.21 339.5,340.18 339.55,340.33 339.65,340.23 339.75,340.26 339.85,339.87 339.95,339.87 340,339.74 340.1,339.97 340.15,339.97 340.3,339.56 340.35,339.69 340.4,339.69 340.55,339.59 340.6,339.66 340.65,339.49 340.7,339.48 340.75,339.54 340.8,339.43 340.85,339.51 341,339.11 341.05,339.09 341.1,339.15 341.3,339.08 341.45,338.54 341.5,338.59 341.55,338.55 341.6,338.59 341.65,338.71 341.7,338.72 341.8,338.41 341.85,338.36 341.95,338.42 342,338.38 342.05,338.17 342.1,338.1 342.15,338.16 342.25,338.04 342.3,337.83 342.35,337.83 342.45,337.57 342.5,337.59 342.55,337.51 342.75,336.99 342.85,337.09 343,336.94 343.15,336.11 343.25,334.72 343.3,333.12 343.4,327.61 343.7,288.65 343.8,281.14 343.85,281.29 343.9,284.32 344.2,326.69 344.35,337.3 344.45,339.41 344.5,339.45 344.6,337.03 344.85,319.69 344.95,315.96 345.05,319.14 345.3,337.22 345.4,339.99 345.45,340.57 345.6,341.09 345.7,340.86 345.9,341.04 346,340.87 346.05,341.01 346.1,340.98 346.15,341.04 346.25,341.03 346.3,341.07 346.35,341.03 346.4,341.06 346.5,340.96 346.6,341.07 346.65,341.06 346.7,340.9 346.8,341.03 346.9,341.09 346.95,341.01 347,341.1 347.05,341.08 347.1,340.85 347.15,340.85 347.2,341.02 347.3,340.88 347.35,340.9 347.45,341.13 347.5,341.07 347.55,341.07 347.6,340.97 347.75,341.07 347.9,341.05 348.05,340.95 348.1,341.05 348.15,340.98 348.2,341.07 348.25,341.02 348.3,341.09 348.4,340.97 348.45,341.01 348.5,340.86 348.6,341.06 348.7,340.8 348.75,340.77 348.8,340.85 348.95,340.73 349.05,341.02 349.1,340.8 349.2,340.87 349.25,340.7 349.3,340.79 349.35,340.72 349.45,340.97 349.7,340.75 349.85,340.85 349.95,341.01 350.05,340.89 350.15,340.86 350.2,340.86 350.3,341 350.4,340.84 350.45,340.96 350.7,340.98 350.8,340.71 350.85,340.77 350.95,340.71 351.1,340.37 351.15,340.44 351.3,339.92 351.35,340.01 351.45,339.88 351.55,340.01 351.7,340.55 351.75,340.55 351.85,340.83 351.95,340.7 352.05,340.9 352.15,340.63 352.2,340.67 352.3,340.47 352.35,340.48 352.5,340.78 352.55,340.79 352.6,340.71 352.75,340.85 352.8,340.63 352.9,340.74 353.05,340.41 353.1,340.14 353.15,340.18 353.35,339.35 353.4,339.46 353.5,339.42 353.65,340.17 353.75,340.49 353.8,340.5 353.9,340.77 353.95,340.78 354.05,340.57 354.15,340.77 354.2,340.63 354.25,340.63 354.3,340.65 354.35,340.8 354.45,340.82 354.55,340.74 354.6,340.82 354.7,340.68 354.8,340.66 354.9,340.83 355.1,340.51 355.2,340.63 355.25,340.59 355.3,340.72 355.4,340.67 355.45,340.75 355.55,340.75 355.6,340.61 355.75,340.79 355.9,340.65 355.95,340.77 356.1,340.71 356.15,340.75 356.2,340.52 356.3,340.73 356.4,340.76 356.6,340.51 356.75,340.73 356.8,340.61 356.9,340.69 357.1,340.17 357.15,340.24 357.2,340.15 357.25,340.31 357.35,340.36 357.4,340.49 357.5,340.27 357.55,340.32 357.6,340.24 357.65,340.33 357.75,339.99 357.8,340.04 357.95,339.6 358.1,339.44 358.2,339.04 358.25,339.14 358.4,338.84 358.5,338.46 358.55,338.48 358.65,338.4 358.7,338.11 358.8,338.27 358.85,338.16 358.95,338.4 359.05,338.43 359.15,338.6 359.2,338.53 359.25,338.63 359.35,338.59 359.7,339.53 359.85,339.37 359.95,339.44 360,339.34 360.15,339.37 360.2,339.09 360.25,339.06 360.35,338.15 360.6,332.68 360.7,331.45 360.75,331.56 360.8,332.09 361.1,338.49 361.25,339.58 361.3,339.69 361.5,339.83 361.6,339.8 361.65,339.73 361.75,339.79 361.8,339.71 362,339.84 362.05,339.66 362.1,339.61 362.15,339.72 362.25,339.59 362.45,339.8 362.5,339.63 362.55,339.83 362.8,339.6 362.85,339.63 362.9,339.59 363,339.79 363.05,339.74 363.15,339.75 363.25,339.66 363.4,339.36 363.5,338.93 363.65,338.77 363.8,338.89 363.95,339.4 364,339.39 364.05,339.64 364.1,339.65 364.15,339.74 364.3,339.63 364.4,339.3 364.45,339.36 364.5,339.29 364.6,339.49 364.65,339.43 364.75,339.69 364.9,339.42 365,339.59 365.1,339.64 365.15,339.8 365.2,339.82 365.35,339.53 365.6,339.79 365.65,339.61 365.75,339.47 365.8,339.62 365.85,339.64 365.9,339.56 365.95,339.68 366.05,339.76 366.1,339.72 366.15,339.79 366.25,339.66 366.3,339.8 366.35,339.72 366.4,339.76 366.5,339.59 366.6,339.8 366.65,339.82 366.85,339.63 366.9,339.52 367,339.76 367.3,339.78 367.35,339.73 367.4,339.81 367.6,339.77 367.65,339.65 367.75,339.79 367.8,339.76 367.9,339.42 367.95,339.41 368,339.58 368.05,339.4 368.15,339.36 368.2,339.19 368.25,339.29 368.35,338.76 368.45,338.47 368.5,338.48 368.55,338.29 368.6,338.35 368.65,338.65 368.85,338.96 368.9,339.14 368.95,339.03 369.15,339.51 369.2,339.46 369.3,339.8 369.4,339.71 369.5,339.8 369.55,339.65 369.6,339.72 369.7,339.65 369.8,339.79 369.9,339.62 370.1,339.67 370.15,339.77 370.2,339.75 370.25,339.52 370.3,339.5 370.35,339.59 370.45,339.61 370.5,339.75 370.55,339.77 370.6,339.76 370.65,339.56 370.75,339.54 370.85,339.6 370.9,339.78 371.05,339.7 371.1,339.78 371.2,339.55 371.25,339.59 371.3,339.55 371.35,339.64 371.4,339.45 371.6,339.71 371.7,339.64 371.8,339.75 371.85,339.75 371.95,339.45 372,339.57 372.1,339.41 372.15,339.46 372.2,339.42 372.35,339.66 372.4,339.48 372.45,339.67 372.5,339.68 372.75,338.96 372.8,338.68 372.85,338.57 372.95,338.54 373.4,339.62 373.55,339.32 373.6,339.59 373.65,339.51 373.7,339.5 373.75,339.57 373.85,339.49 373.95,339.6 374,339.51 374.1,339.7 374.2,339.41 374.25,339.6 374.35,339.69 374.5,339.27 374.6,339.46 374.65,339.46 374.75,339.24 374.8,339.26 374.9,339.54 375.05,339.35 375.15,339.5 375.25,339.56 375.4,339.48 375.45,339.67 375.55,339.65 375.6,339.74 375.7,339.52 375.8,339.67 375.9,339.45 376.15,339.77 376.2,339.75 376.3,339.49 376.4,339.58 376.45,339.54 376.5,339.35 376.6,339.4 376.65,339.56 376.7,339.47 376.75,339.5 376.8,339.44 376.9,339.65 377.05,339.61 377.1,339.74 377.15,339.68 377.3,339.77 377.35,339.67 377.55,339.75 377.6,339.62 377.65,339.72 377.7,339.54 377.75,339.7 377.8,339.67 377.85,339.5 377.95,339.49 378.05,339.42 378.1,339.49 378.2,339.39 378.3,339.41 378.35,339.36 378.4,339.58 378.45,339.57 378.5,339.67 378.6,339.55 378.65,339.61 378.7,339.59 378.75,339.68 378.8,339.62 378.9,339.76 379,339.75 379.05,339.6 379.15,339.74 379.25,339.71 379.35,339.59 379.4,339.72 379.55,339.48 379.6,339.66 379.65,339.63 379.7,339.74 379.75,339.64 379.8,339.7 379.85,339.62 379.9,339.63 379.95,339.5 380.05,339.43 380.15,339.69 380.2,339.68 380.25,339.74 380.3,339.63 380.35,339.71 380.4,339.63 380.45,339.76 380.55,339.51 380.7,339.63 380.8,339.34 380.9,339.51 381,339.47 381.05,339.36 381.2,339.75 381.35,339.64 381.4,339.7 381.5,339.71 381.55,339.55 381.6,339.54 381.65,339.55 381.7,339.71 381.9,339.75 382,339.69 382.05,339.71 382.1,339.58 382.15,339.6 382.2,339.55 382.3,339.27 382.65,335.4 382.7,334.92 382.75,334.87 383.05,338.42 383.2,339.58 383.3,339.94 383.45,340.07 383.55,339.91 383.6,340.07 383.65,340 383.75,339.82 383.9,339.32 384,339.2 384.2,338.57 384.25,338.57 384.3,338.65 384.35,339.08 384.6,340.13 384.7,340.11 384.75,340.17 384.8,340.12 384.85,340.22 384.9,340.23 385,339.88 385.05,340.13 385.15,340.28 385.2,340.27 385.25,340.34 385.3,340.3 385.35,340.52 385.4,340.26 385.45,340.38 385.5,340.31 385.55,340.35 385.65,340.24 385.7,340.09 385.8,340.41 385.9,340.56 386.05,340.39 386.15,340.34 386.2,340.34 386.25,340.48 386.4,340.13 386.45,340.23 386.5,340.06 386.55,340.03 386.6,340.15 386.65,340.04 386.75,340.4 386.8,340.36 386.85,340.41 386.9,340.57 386.95,340.5 387,340.54 387.05,340.45 387.1,340.52 387.15,340.35 387.2,340.46 387.3,340.36 387.4,340.57 387.45,340.34 387.65,340.57 387.8,340.3 387.85,340.44 387.9,340.3 387.95,340.48 388,340.48 388.05,340.55 388.15,340.38 388.25,340.54 388.3,340.25 388.5,340.58 388.7,340.37 388.75,340.52 388.85,340.55 388.9,340.38 388.95,340.47 389.05,340.43 389.35,340.6 389.4,340.43 389.5,340.6 389.8,340.51 389.85,340.58 389.9,340.51 389.95,340.59 390.1,340.52 390.15,340.44 390.35,340.4 390.4,340.48 390.45,340.43 390.5,340.52 390.65,340.43 390.7,340.34 390.75,340.5 390.8,340.44 390.95,340.61 391.2,340.35 391.3,340.55 391.4,340.5 391.45,340.63 391.6,340.51 391.65,340.62 391.85,340.58 391.95,340.37 392.15,340.62 392.2,340.51 392.25,340.62 392.4,340.42 392.45,340.43 392.55,340.64 392.65,340.47 392.8,340.64 392.9,340.58 392.95,340.6 393,340.39 393.1,340.52 393.25,340.17 393.3,340.16 393.35,339.97 393.45,339.82 393.5,339.85 393.55,339.66 393.6,339.84 393.7,339.94 393.8,340.28 393.9,340.3 393.95,340.53 394.05,340.49 394.15,340.64 394.2,340.52 394.25,340.61 394.3,340.59 394.35,340.35 394.5,340.62 394.6,340.55 394.65,340.67 394.7,340.61 394.8,340.62 394.95,340.36 395.15,340.63 395.25,340.48 395.35,340.47 395.4,340.57 395.45,340.54 395.5,340.59 395.55,340.5 395.65,340.67 395.7,340.57 395.75,340.68 395.8,340.56 395.85,340.66 395.95,340.58 396,340.64 396.1,340.38 396.3,340.68 396.35,340.46 396.45,340.69 396.55,340.61 396.6,340.41 396.65,340.4 396.75,340.68 396.85,340.5 396.9,340.67 397.05,340.53 397.1,340.67 397.15,340.7 397.2,340.6 397.3,340.64 397.35,340.53 397.45,340.57 397.55,340.7 397.7,340.34 397.8,340.46 397.9,340.37 397.95,340.56 398.05,340.7 398.15,340.7 398.25,340.52 398.3,340.57 398.35,340.5 398.45,340.53 398.5,340.44 398.55,340.47 398.6,340.65 398.8,340.26 398.9,339.87 398.95,339.89 399,339.79 399.25,338.52 399.3,338.61 399.4,338.46 399.45,338.48 399.65,338.96 399.7,338.7 399.8,338.94 399.9,339.02 399.95,338.97 400,339.01 400.1,338.95 400.15,338.68 400.25,338.61 400.35,338.29 400.55,337.94 400.6,337.95 400.65,337.75 400.75,337.66 400.95,338.08 401.1,338.63 401.3,338.84 401.35,338.8 401.4,338.95 401.5,339.09 401.55,339.06 401.6,339.19 401.65,339.03 401.75,339.1 401.9,338.83 401.95,338.86 402.05,338.74 402.1,338.54 402.15,337.44 402.45,322.6 402.9,285.54 403.45,227.72 403.85,276.29 404.15,306.29 404.45,328.68 404.6,335.93 404.7,338.32 404.95,338.81 405,338.87 405.05,338.85 405.1,339.09 405.2,339.13 405.4,337.99 405.7,334.13 405.8,334.5 405.85,334.95 406.15,338.87 406.25,339.71 406.4,340.1 406.45,340 406.5,340 406.65,339.43 406.95,337.63 407,337.64 407.1,337.45 407.25,337.45 407.4,337.8 407.65,338.7 407.95,340.27 408.05,340.53 408.2,340.72 408.25,340.68 408.3,340.73 408.4,340.9 408.6,340.77 408.65,340.8 408.8,340.39 408.85,340.4 408.95,339.99 409,340.12 409.25,338.36 409.4,337.68 409.6,338.58 409.7,339.38 409.9,340.33 410.05,340.74 410.15,340.86 410.2,340.83 410.25,340.95 410.3,340.88 410.4,340.93 410.55,340.77 410.65,340.35 410.75,339.38 411,333.34 411.1,331.92 411.15,332.08 411.25,333.39 411.5,339.4 411.6,340.42 411.65,340.43 411.7,340.76 411.85,340.62 411.9,340.64 411.95,340.51 412.25,339.21 412.35,339.05 412.45,339.28 412.7,340.6 412.8,340.85 412.95,340.52 413.05,340.4 413.1,340.56 413.2,340.51 413.25,340.58 413.35,340.97 413.4,340.95 413.45,340.76 413.5,340.82 413.55,340.73 413.65,340.98 413.75,340.76 413.8,340.88 413.85,340.65 413.95,340.66 414,340.86 414.05,340.8 414.1,340.95 414.15,340.89 414.25,340.92 414.3,340.84 414.55,340.89 414.8,340.29 414.85,340.46 414.9,340.43 414.95,340.69 415.15,340.92 415.2,340.87 415.25,340.94 415.4,340.62 415.45,340.63 415.5,340.82 415.6,340.95 415.7,340.93 415.85,340.67 415.9,340.78 416,340.85 416.05,340.77 416.1,340.89 416.2,340.95 416.45,340.42 416.6,340.84 416.7,340.97 416.85,340.61 417.05,340.97 417.2,340.77 417.35,341 417.4,341 417.6,340.62 417.7,340.74 417.75,340.97 417.8,340.88 417.85,341.02 417.9,340.94 417.95,341.02 418.1,340.99 418.15,340.78 418.2,340.96 418.3,340.7 418.35,340.85 418.45,340.82 418.6,340.61 418.7,340.81 418.75,340.79 418.8,340.9 418.9,340.84 418.95,341.02 419.05,340.73 419.2,340.98 419.3,340.97 419.35,340.9 419.4,341.03 419.6,340.77 419.65,340.56 419.7,340.55 419.75,340.8 419.85,340.62 419.9,340.89 420.05,340.7 420.1,340.74 420.15,340.47 420.2,340.64 420.25,340.64 420.3,340.46 420.35,340.56 420.45,340.17 420.5,340.3 420.55,340.23 420.85,340.97 420.95,340.93 421.1,341.04 421.25,340.93 421.35,341.01 421.5,341.02 421.6,340.92 421.65,341.01 421.7,341.02 421.8,340.87 421.85,340.91 421.9,340.73 421.95,340.86 422,340.78 422.05,340.93 422.2,341.04 422.25,341 422.3,341.02 422.4,340.88 422.45,341.01 422.55,341.05 422.65,340.75 422.7,340.91 422.8,341.02 422.85,340.95 422.95,341.04 423.1,340.87 423.2,340.94 423.5,340.51 423.6,340.43 423.65,340.61 423.7,340.6 423.75,340.8 423.85,340.65 423.95,340.77 424,340.99 424.1,341.02 424.15,340.83 424.3,341.04 424.4,340.74 424.45,340.83 424.55,340.85 424.65,340.68 424.7,340.79 424.75,340.71 424.8,340.83 424.85,340.72 424.9,340.73 424.95,340.65 425.05,340.87 425.1,340.79 425.15,341.05 425.2,340.92 425.25,341 425.3,340.91 425.35,341.03 425.5,340.98 425.55,340.76 425.65,340.96 425.85,340.82 425.95,341.06 426,340.97 426.05,340.98 426.15,340.63 426.25,340.49 426.3,340.55 426.35,340.5 426.55,340.86 426.65,340.65 426.75,340.98 426.8,341.04 426.85,340.9 426.95,341.07 427,340.98 427.05,341.05 427.15,340.97 427.25,340.62 427.4,340.85 427.45,341.08 427.6,340.88 427.65,341.06 427.8,340.89 427.85,341.09 427.9,341.07 428,340.83 428.1,340.98 428.15,340.96 428.2,341.08 428.3,340.87 428.35,340.89 428.4,341.02 428.45,340.99 428.5,341.08 428.55,340.95 428.6,341.05 428.7,340.72 428.85,341.05 428.9,340.95 428.95,341.08 429.05,340.82 429.15,340.86 429.2,341.08 429.3,340.82 429.35,340.93 429.45,340.99 429.55,340.94 429.6,341.09 429.65,341.01 429.8,341.09 429.85,341.03 429.9,341.05 429.95,340.94 430,341.1 430.05,341.11 430.1,340.98 430.15,341.04 430.25,340.95 430.3,341.08 430.35,340.97 430.45,341.01 430.55,340.85 430.6,341.01 430.65,341 430.7,341.09 430.75,341 430.8,341.1 430.95,340.77 431,340.87 431.05,340.81 431.1,341 431.2,340.79 431.35,341.12 431.45,340.96 431.5,341 431.55,340.95 431.6,340.81 431.65,340.88 431.7,340.86 431.8,341.06 431.85,340.98 431.9,341.12 432,341.12 432.05,340.97 432.1,341.07 432.15,340.91 432.2,340.97 432.25,340.95 432.3,341.09 432.4,340.99 432.45,340.83 432.5,340.85 432.85,338.98 432.9,339.12 432.95,339.08 433.05,339.3 433.15,339.75 433.2,339.52 433.25,339.64 433.3,339.49 433.5,337.36 433.6,336.87 433.65,336.84 433.7,336.89 434.05,340.43 434.15,340.83 434.2,340.98 434.25,340.99 434.3,340.92 434.4,341.12 434.5,340.97 434.55,340.97 434.6,341.07 434.65,341.06 434.7,340.8 434.85,341.06 434.9,340.81 435.1,341.09" fill="none" stroke="#000" stroke-width="0.6" stroke-linejoin="round"/>
<g font-size="5.1">
<text transform="translate(340.1 258.5) rotate(-90)">17.6749</text>
<text transform="translate(342.1 288.6) rotate(-90)">19.3613</text>
<text transform="translate(350.8 280.4) rotate(-90)">19.3281</text>
<text transform="translate(349 314.1) rotate(-90)">19.5539</text>
<text transform="translate(408 227.3) rotate(-90)">31.5312</text>
</g>
</g>
<g>
<text x="8.8" y="370.0" font-size="14.2" font-weight="normal" stroke-width="0.12">E</text>
<path d="M39.1 387.3V525.4H210.39M39.1 525.4h2.3M39.1 515.54h1.2M39.1 505.67h2.3M39.1 495.81h1.2M39.1 485.94h2.3M39.1 476.08h1.2M39.1 466.21h2.3M39.1 456.35h1.2M39.1 446.49h2.3M39.1 436.62h1.2M39.1 426.76h2.3M39.1 416.89h1.2M39.1 407.03h2.3M39.1 397.16h1.2M39.1 387.3h2.3M39.1 525.4v-2.3M51.34 525.4v-1.2M63.57 525.4v-2.3M75.81 525.4v-1.2M88.04 525.4v-2.3M100.28 525.4v-1.2M112.51 525.4v-2.3M124.75 525.4v-1.2M136.98 525.4v-2.3M149.22 525.4v-1.2M161.45 525.4v-2.3M173.69 525.4v-1.2M185.92 525.4v-2.3M198.16 525.4v-1.2M210.39 525.4v-2.3" fill="none" stroke="#222" stroke-width="0.65"/>
<g font-size="5.9" text-anchor="end">
<text x="36.1" y="527.2">0.0</text>
<text x="36.1" y="508.27">3.0×10<tspan font-size="3.6" dy="-2.1">6</tspan></text>
<text x="36.1" y="488.54">6.0×10<tspan font-size="3.6" dy="-2.1">6</tspan></text>
<text x="36.1" y="468.81">9.0×10<tspan font-size="3.6" dy="-2.1">6</tspan></text>
<text x="36.1" y="449.09">1.2×10<tspan font-size="3.6" dy="-2.1">7</tspan></text>
<text x="36.1" y="429.36">1.5×10<tspan font-size="3.6" dy="-2.1">7</tspan></text>
<text x="36.1" y="409.63">1.8×10<tspan font-size="3.6" dy="-2.1">7</tspan></text>
<text x="36.1" y="389.9">2.1×10<tspan font-size="3.6" dy="-2.1">7</tspan></text>
</g>
<g font-size="5.7" text-anchor="middle">
<text x="39.1" y="533.2">5</text>
<text x="63.57" y="533.2">10</text>
<text x="88.04" y="533.2">15</text>
<text x="112.51" y="533.2">20</text>
<text x="136.98" y="533.2">25</text>
<text x="161.45" y="533.2">30</text>
<text x="185.92" y="533.2">35</text>
<text x="210.39" y="533.2">40</text>
</g>
<text x="124.74" y="544.1" font-size="6.45" text-anchor="middle">Retention time (min)</text>
<text transform="translate(9.45 452) rotate(-90)" font-size="6.45" text-anchor="middle">TIC (counts)</text>
<polyline points="39.55,524.52 39.6,524.51 39.65,524.39 39.75,524.5 39.95,524.58 40.15,524.35 40.25,524.5 40.35,524.39 40.45,524.08 40.6,524.07 40.65,524.02 40.85,524.48 40.9,524.42 41,524.59 41.15,524.66 41.2,524.64 41.25,524.53 41.3,524.6 41.35,524.43 41.45,524.47 41.65,524.29 41.95,523.32 42.1,523.55 42.2,523.87 42.25,523.86 42.35,524.22 42.4,524.27 42.45,524.22 42.5,524.25 42.55,524.43 42.6,524.4 42.65,524.58 42.85,524.54 42.9,524.42 42.95,524.6 43.05,524.64 43.15,524.37 43.2,524.64 43.25,524.58 43.3,524.61 43.35,524.54 43.45,524.62 43.55,524.35 43.65,524.24 43.75,524.25 43.8,524.47 43.85,524.55 43.9,524.52 43.95,524.62 44.05,524.44 44.2,524.55 44.25,524.57 44.3,524.51 44.35,524.57 44.4,524.55 44.55,524.27 44.7,523.25 44.9,521.28 45,521.16 45.15,522.1 45.25,523.31 45.35,523.93 45.45,524.41 45.5,524.39 45.6,524.54 45.65,524.32 45.7,524.41 45.8,524 45.9,523.97 46.1,524.22 46.15,524.52 46.3,524.29 46.45,523.75 46.5,523.71 46.6,524.08 46.7,523.99 46.8,524.16 46.85,523.93 46.9,523.91 47.05,524.07 47.15,524.3 47.25,524.13 47.35,524.46 47.6,524.49 47.7,524.58 47.85,524.52 47.9,524.54 47.95,524.45 48,524.57 48.1,524.49 48.2,524.51 48.25,524.57 48.4,524.58 48.6,524.35 48.65,524.51 48.7,524.45 48.75,524.47 48.8,524.27 49,524.07 49.3,521.7 49.35,521.56 49.4,521.58 49.5,522.13 49.75,523.94 49.85,524.33 50,524.54 50.25,524.34 50.4,524.43 50.45,524.32 50.5,524.33 50.6,524.52 50.65,524.4 50.8,524.55 50.85,524.45 51.05,524.54 51.55,524.19 51.6,524.3 51.7,524.16 51.75,524.23 51.9,524.22 52.05,524.54 52.1,524.3 52.25,524.12 52.35,524.25 52.4,524.24 52.6,524.51 52.75,524.34 52.8,524.4 52.9,524.32 52.95,524.18 53.05,524.21 53.1,524.09 53.15,524.16 53.25,524.07 53.3,524.09 53.35,524.01 53.4,524.14 53.5,524.05 53.55,524.29 53.6,524.18 53.65,524.35 53.7,524.25 53.75,524.33 53.8,524.13 53.85,524.38 53.95,524.19 54,524.21 54.05,524.04 54.1,524.19 54.15,524.15 54.2,524.43 54.25,524.33 54.3,524.43 54.4,524.46 54.45,524.19 54.5,524.22 54.55,524.15 54.6,524.25 54.7,524.08 54.85,524.35 54.95,524.39 55,524.31 55.1,524.35 55.2,523.97 55.3,524.23 55.5,524.48 55.55,524.48 55.6,524.11 55.65,524.04 55.75,524.27 55.85,524.21 55.9,524.31 55.95,524.26 56,524.48 56.05,524.3 56.1,524.4 56.25,524.24 56.3,524.36 56.35,524.32 56.7,523.34 56.75,523.49 56.8,523.44 56.95,524.01 57,523.94 57.05,524.02 57.1,524.03 57.25,524.28 57.3,524.22 57.4,524.45 57.65,524.34 57.75,524.36 57.8,524.43 57.9,524.36 57.95,524.42 58.05,524.26 58.15,524.46 58.35,524.35 58.4,524.45 58.45,524.28 58.5,524.34 58.55,524.29 58.6,524.07 58.65,524.18 58.75,524.08 58.85,524.3 58.9,524.23 58.95,524.42 59,524.45 59.15,524.31 59.2,524.15 59.3,524.03 59.5,522.94 59.65,522.62 59.75,522.82 59.95,523.63 60,523.66 60.1,523.96 60.3,524.3 60.5,524.14 60.55,523.82 60.65,523.69 60.85,522.8 61.25,524.14 61.35,524.32 61.5,524.32 61.55,524.2 61.6,524.22 61.65,524.06 61.75,523.48 62,520.35 62.1,519.85 62.2,520.45 62.5,523.61 62.6,524.11 62.7,524.34 62.75,524.29 63,524.35 63.05,524.26 63.1,524.3 63.15,524.13 63.2,524.12 63.25,523.84 63.3,523.87 63.45,523.28 63.6,523.08 63.9,524.1 64.05,523.88 64.1,524.08 64.2,523.9 64.35,524.3 64.4,524.32 64.45,524.15 64.5,524.16 64.6,523.92 64.65,524.03 64.7,523.95 64.8,523.72 64.9,523.17 65.05,523.02 65.15,523.15 65.3,523.78 65.4,523.88 65.45,524.08 65.5,524.03 65.55,524.17 65.6,524.13 65.65,524.26 65.75,524.28 65.8,524.21 65.9,524.33 65.95,524.28 66,524.34 66.2,523.98 66.25,524.11 66.35,523.83 66.45,523.92 66.55,524.29 66.65,524.12 66.7,524.24 66.75,524.22 66.8,524.08 67,524.34 67.05,524.28 67.1,524.3 67.2,524 67.3,523.99 67.35,524.23 67.4,524.18 67.45,524.26 67.5,524.18 67.55,524.18 67.6,524.28 67.7,524.31 67.75,524.22 67.9,524.15 67.95,524.22 68.1,524.02 68.15,524.26 68.25,524.31 68.35,524.24 68.5,524.24 68.55,523.98 68.6,523.92 68.65,524.09 68.7,524.08 68.8,524.24 68.85,524.23 69,523.6 69.1,523.43 69.2,523.38 69.3,523.09 69.45,523.27 69.5,523.41 69.6,523.43 69.7,523.72 69.75,523.63 69.85,523.82 69.9,523.6 70.1,524.04 70.15,524.27 70.2,524.21 70.25,524.21 70.3,524.07 70.4,524.02 70.45,524.18 70.5,524.11 70.6,524.26 70.7,524.22 70.75,524.26 70.85,524.06 71,524.26 71.1,524.08 71.15,524.17 71.25,524.22 71.5,523.93 71.85,522.34 72.05,522.79 72.2,523.47 72.4,523.79 72.45,524.03 72.55,524.23 72.6,524.13 72.65,524.18 72.8,523.89 72.9,523.96 72.95,523.89 73.35,521.65 73.8,524.01 73.85,523.96 73.95,524.04 74,523.96 74.05,524.04 74.1,523.83 74.25,523.77 74.5,522.61 74.65,522.52 74.7,522.54 74.75,522.7 74.9,523.71 75.05,524.09 75.1,524.02 75.2,524.06 75.3,523.94 75.4,523.43 75.7,519.2 75.8,518.39 75.85,518.43 75.9,518.96 76.15,522.91 76.25,523.71 76.4,524.06 76.45,524.08 76.5,524.02 76.55,524.09 76.6,523.88 76.65,523.84 76.7,523.94 76.75,523.91 76.85,523.94 76.9,523.88 76.95,523.58 77,523.63 77.05,523.54 77.25,522.8 77.3,522.81 77.35,523.12 77.45,523.28 77.55,523.71 77.6,523.72 77.75,524.06 77.85,524.06 77.95,524.14 78,523.96 78.1,523.88 78.25,524.1 78.45,524.06 78.5,524.13 78.55,523.95 78.6,524.04 78.7,523.93 78.75,523.99 78.85,523.81 79,523.31 79.2,522.28 79.25,522.29 79.3,522.16 79.45,523.23 79.55,523.41 79.6,523.77 79.7,524.02 79.8,523.69 79.9,523.93 79.95,523.87 80.05,523.51 80.1,523.52 80.15,523.61 80.25,523.9 80.3,523.93 80.35,523.87 80.4,524.1 80.45,523.85 80.5,523.81 80.6,523.93 80.65,523.96 80.7,523.9 80.8,523.99 80.85,523.77 80.9,523.87 80.95,523.76 81.2,524.07 81.3,524.08 81.35,523.89 81.45,523.97 81.55,523.88 81.6,524.03 81.7,523.88 81.8,523.88 81.85,524.04 81.95,523.87 82.05,523.94 82.1,523.85 82.15,523.97 82.4,523.27 82.5,522.43 82.6,522.14 82.7,522.02 83.05,523.53 83.1,523.63 83.2,523.69 83.3,524 83.35,524.03 83.4,524.01 83.45,523.85 83.5,523.92 83.6,523.86 83.65,523.88 83.7,523.56 83.9,523.89 83.95,523.87 84.35,524.01 84.45,523.63 84.5,523.65 84.6,523.55 84.75,523.2 84.85,523.21 84.9,523.17 85,522.84 85.1,522.72 85.35,523.44 85.55,523.83 85.65,523.85 85.8,523.71 85.85,523.76 85.9,523.65 86.15,524 86.2,523.96 86.25,524 86.4,523.77 86.45,523.85 86.5,523.75 86.55,523.86 86.6,523.62 86.8,523.37 86.9,522.97 87.05,522.62 87.15,522.68 87.25,522.87 87.55,523.89 87.65,523.91 87.75,523.81 87.8,523.88 87.9,523.79 88.05,523.49 88.2,522.71 88.4,520.09 88.55,518.89 88.65,519.6 88.95,523.47 89.05,523.58 89.15,523.9 89.25,523.94 89.45,523.64 89.6,523.63 89.7,523.22 89.75,523.24 89.9,522.77 89.95,522.83 90.05,522.64 90.1,522.64 90.35,523.66 90.65,523.91 90.75,523.75 90.8,523.91 90.85,523.83 91,523.85 91.05,523.78 91.1,523.89 91.25,523.68 91.35,523.82 91.45,523.78 91.5,523.84 91.55,523.78 91.6,523.87 91.65,523.74 91.75,523.77 91.8,523.72 91.85,523.85 92.05,523.41 92.1,523.44 92.2,523.11 92.3,523.18 92.35,523.01 92.55,522.97 92.65,523.11 92.75,523.49 92.95,523.82 93.05,523.8 93.1,523.88 93.2,523.77 93.25,523.85 93.35,523.88 93.4,523.74 93.5,523.8 93.55,523.74 93.6,523.84 93.65,523.79 93.8,523.81 93.9,523.4 94.05,523.06 94.2,522.22 94.4,521.5 94.5,521.63 94.75,523.24 94.9,523.68 94.95,523.7 95.1,523.58 95.15,523.66 95.25,523.61 95.3,523.75 95.45,523.52 95.5,523.65 95.6,523.36 95.65,523.48 95.7,523.45 95.75,523.49 95.85,523.83 96,523.68 96.1,523.78 96.15,523.58 96.2,523.67 96.25,523.62 96.3,523.66 96.35,523.54 96.4,523.68 96.45,523.52 96.5,523.53 96.55,523.07 96.7,522.42 96.75,522.31 96.8,522.37 96.85,522.19 97,522.71 97.05,522.68 97.1,522.78 97.15,523.13 97.45,523.74 97.5,523.61 97.55,523.67 97.6,523.64 97.65,523.73 97.7,523.72 97.8,523.49 97.9,523.59 98.15,522.3 98.2,522.26 98.3,521.88 98.4,522.01 98.45,521.93 98.6,522.71 98.8,523.24 98.85,523.26 99,522.84 99.25,520.81 99.35,520.77 99.4,520.9 99.6,522.04 99.75,522.63 99.8,522.59 99.85,522.71 99.9,522.71 99.95,522.62 100,522.64 100.25,522.3 100.3,522.3 100.35,522.1 100.4,522.14 100.55,521.39 100.7,518.87 100.95,508.77 101.05,506.74 101.1,506.82 101.15,507.99 101.45,518.99 101.5,520.07 101.6,520.8 101.7,521.12 101.9,520.47 102.15,519.21 102.25,519.12 102.3,519.09 102.4,519.37 102.55,520.15 102.6,520.18 102.65,520.41 102.7,520.41 102.85,520.3 103,519.91 103.1,519.81 103.2,520.15 103.3,520.04 103.35,520.11 103.45,520.07 103.5,519.99 103.55,520.03 103.6,519.83 103.7,519.94 103.75,519.87 103.8,519.88 103.85,519.73 103.9,519.8 103.95,519.75 104,519.5 104.05,519.68 104.25,519.46 104.3,519.51 104.55,519.37 104.65,519.09 104.7,519.02 104.75,519.03 104.8,518.86 104.85,518.96 104.95,518.96 105,518.75 105.1,518.86 105.2,518.73 105.3,518.72 105.35,518.61 105.45,518.68 105.55,518.46 105.65,518.35 105.7,518.17 105.75,518.33 105.85,518.19 106,518.45 106.1,518.32 106.15,518.37 106.2,518.27 106.25,518.32 106.35,518.09 106.4,518.15 106.45,518.14 106.6,517.67 106.65,517.75 106.75,517.52 106.8,517.68 106.9,517.62 106.95,517.72 107,517.64 107.05,517.68 107.2,517.35 107.3,517.45 107.35,517.38 107.45,517.37 107.6,516.85 107.65,517.05 107.7,516.88 107.75,517.07 107.85,517.04 107.95,516.78 108.05,516.9 108.1,516.64 108.15,516.77 108.2,516.76 108.25,516.63 108.3,516.65 108.4,516.22 108.5,516.36 108.6,515.97 108.65,515.97 108.7,516.11 108.8,515.83 108.95,514.52 109.05,511.9 109.35,493.44 109.4,491.89 109.45,491.86 109.8,513.2 109.95,517.54 110.1,518.94 110.3,520.1 110.35,520.05 110.45,520.47 110.55,520.63 110.6,520.91 110.85,521.58 110.9,521.55 111,521.98 111.1,522.15 111.2,522.18 111.25,522.35 111.35,522.42 111.45,522.43 111.5,522.58 111.65,522.77 111.7,522.71 111.75,522.88 111.8,522.8 111.9,522.92 112,522.81 112.1,522.84 112.2,522.95 112.25,522.83 112.3,522.9 112.35,522.84 112.4,522.98 112.5,522.89 112.55,523.03 112.6,523.04 112.7,522.84 112.75,522.98 112.8,522.85 112.85,522.88 113,522.7 113.05,522.86 113.15,522.69 113.2,522.78 113.35,522.81 113.4,523.05 113.5,522.94 113.65,523.02 113.75,522.8 113.8,522.99 113.9,523.04 114.05,523.02 114.1,523.07 114.15,522.88 114.2,522.9 114.25,522.86 114.45,522.93 114.5,523.02 114.6,522.87 114.65,522.91 114.75,522.69 114.85,522.71 114.9,522.84 114.95,522.8 115,522.89 115.05,522.8 115.15,522.8 115.3,522.27 115.45,521.93 115.55,521.97 115.65,522.39 115.7,522.36 115.8,522.62 115.85,522.94 115.95,523 116,522.94 116.1,522.98 116.2,522.88 116.25,522.69 116.3,522.72 116.4,522.38 116.55,522.79 116.6,522.84 116.7,522.72 116.8,522.9 116.95,522.69 117,522.48 117.1,522.5 117.2,522.28 117.4,522.84 117.5,523 117.55,522.93 117.65,523 117.7,522.86 117.75,522.87 117.9,522.61 117.95,522.66 118,522.91 118.1,522.9 118.15,522.96 118.2,522.88 118.35,522.86 118.4,522.95 118.5,522.96 118.55,522.84 118.6,522.99 118.7,522.9 118.85,522.96 119,522.72 119.05,522.7 119.15,522.79 119.25,522.67 119.3,522.73 119.35,522.65 119.4,522.91 119.55,522.65 119.6,522.37 119.8,521.91 119.9,521.94 120.05,522.48 120.2,522.66 120.25,522.85 120.35,522.8 120.4,522.62 120.45,522.71 120.55,522.59 120.6,522.61 120.75,522.89 120.85,522.9 120.9,522.81 120.95,522.82 121.05,522.64 121.1,522.69 121.3,522.51 121.4,522.59 121.45,522.74 121.5,522.71 121.55,522.9 121.6,522.92 121.65,522.91 121.7,522.75 121.75,522.91 121.8,522.85 121.85,522.89 121.9,522.78 121.95,522.89 122,522.87 122.05,522.76 122.1,522.83 122.15,522.61 122.2,522.69 122.25,522.66 122.3,522.84 122.35,522.78 122.45,522.87 122.55,522.6 122.7,522.74 122.75,522.73 122.85,522.64 122.95,522.38 123.05,522.26 123.1,522.28 123.35,521.57 123.5,521.34 123.55,521.39 123.65,521.37 123.8,521.59 123.85,521.56 124,521.63 124.05,521.6 124.1,521.67 124.2,521.55 124.25,521.77 124.3,521.76 124.45,522.07 124.55,522.06 124.6,521.89 124.65,522.16 124.75,522.17 124.8,522.08 124.9,522.43 125,522.24 125.05,522.4 125.15,522.14 125.2,522.12 125.25,522.22 125.35,522.21 125.4,522.08 125.45,522.21 125.55,522.29 125.65,522.07 125.8,521.16 126.1,514.27 126.2,512.82 126.25,512.94 126.3,513.65 126.55,519.88 126.7,521.68 126.75,521.73 126.8,522.01 126.85,522.05 126.95,521.89 127,522.01 127.05,521.99 127.1,521.84 127.35,522.25 127.55,522.18 127.6,522.23 127.65,522.14 127.8,522.16 127.85,522.09 127.95,522.25 128.05,522.1 128.1,521.91 128.15,521.97 128.3,521.95 128.35,521.82 128.4,521.86 128.5,521.24 128.6,521.12 128.7,521.24 128.75,521.17 128.95,521.95 129.05,522.13 129.25,521.72 129.3,522.1 129.4,522.29 129.45,522.28 129.5,522.14 129.55,522.22 129.6,522.16 129.65,521.98 129.7,522.24 129.75,522.27 129.85,521.9 129.95,521.76 130.2,522.28 130.25,522.22 130.3,522.26 130.35,522.09 130.45,522.09 130.5,522.04 130.7,522.3 130.75,522.24 130.9,522.29 131,522.01 131.05,522.15 131.2,522.09 131.25,521.98 131.3,521.99 131.35,522.27 131.45,522.27 131.5,522.18 131.55,522.3 131.65,522.26 131.8,522.02 131.95,522.15 132,522.11 132.05,522.15 132.15,522.29 132.4,522.24 132.45,522.29 132.5,522.19 132.55,522.27 132.65,522.26 132.7,522.19 132.75,522.27 132.8,522.18 132.85,522.21 132.9,522.06 132.95,522.09 133.05,521.97 133.1,522.03 133.2,521.75 133.25,521.91 133.4,521.97 133.45,522.13 133.55,522.24 133.7,522.06 133.95,521.21 134,521.16 134.05,521.21 134.1,521.18 134.25,521.71 134.4,521.93 134.5,521.89 134.55,522.1 134.7,522.08 134.8,522.3 134.95,522.21 135,522.25 135.05,522.1 135.15,522.28 135.25,522.12 135.4,522.14 135.45,522.28 135.5,522.13 135.6,522.25 135.75,522.11 135.8,522.12 135.85,522.22 135.9,522.15 135.95,522.28 136,522.22 136.15,522.27 136.3,522.18 136.4,522.05 136.45,522.07 136.5,522.29 136.55,522.24 136.75,522.29 137,522.16 137.15,521.81 137.2,521.84 137.25,521.99 137.3,521.84 137.35,521.95 137.45,522 137.5,522.13 137.55,522.1 137.7,521.73 137.9,520.89 137.95,520.99 138.05,521.01 138.2,521.53 138.3,521.53 138.45,522.09 138.5,522.1 138.55,522.23 138.6,522.2 138.65,522.29 138.7,522.07 138.8,522.21 138.9,522.12 138.95,522.26 139.1,522.25 139.25,522.09 139.3,522.2 139.4,522.02 139.45,522.24 139.6,521.84 139.65,521.52 139.75,521.71 139.85,521.34 139.95,521.5 140.05,521.4 140.45,522.28 140.55,522.09 140.6,522.16 140.7,521.93 140.75,521.97 140.8,522.15 140.85,522.09 140.9,522.15 141,522 141.15,522.18 141.2,521.99 141.35,522.23 141.4,522.18 141.5,522.28 141.55,522.05 141.6,522.13 141.7,521.99 141.8,522.09 141.85,522.26 142.1,522.28 142.15,522.15 142.25,522.21 142.3,522.15 142.45,522.29 142.5,522.16 142.55,522.18 142.7,522.08 142.75,522.16 142.85,522.18 142.9,522.28 143,522.04 143.1,522.01 143.15,522.02 143.25,522.24 143.3,522.23 143.45,521.99 143.55,522.1 143.6,522.27 143.65,522.27 143.9,522.05 144.05,521.77 144.15,521.35 144.2,521.36 144.3,521.16 144.4,521.31 144.45,521.23 144.7,522.14 144.75,522.02 144.8,522.24 144.85,522.22 144.9,522.29 145.1,522.29 145.2,522.19 145.3,521.96 145.35,521.99 145.45,521.86 145.5,522.02 145.55,521.99 145.6,521.83 145.7,522.02 145.75,521.93 145.85,522.17 145.9,522.08 145.95,522.29 146,522.13 146.15,522.3 146.2,522.14 146.3,522.08 146.35,521.97 146.5,522.08 146.6,522.23 146.65,522.18 146.7,522.29 146.75,522.09 146.8,522.09 146.95,522.29 147,522.23 147.05,522.26 147.1,522.13 147.15,522.19 147.2,522.08 147.25,522.1 147.3,521.9 147.35,521.89 147.4,521.96 147.45,521.85 147.55,521.93 147.6,522.19 147.65,521.93 147.7,522 147.8,521.71 147.9,521.18 148.15,518.12 148.25,517.73 148.6,521.43 148.8,522.39 149,522.49 149.1,522.25 149.2,522.35 149.25,522.32 149.4,521.68 149.5,521.76 149.6,521.33 149.7,521.34 149.75,521.24 149.95,522.13 150.15,522.57 150.25,522.49 150.3,522.6 150.4,522.6 150.45,522.53 150.6,522.62 150.7,522.54 150.75,522.56 150.9,522.88 151.1,522.36 151.3,522.65 151.35,522.82 151.45,522.77 151.5,522.56 151.55,522.67 151.6,522.58 151.65,522.77 151.75,522.81 151.85,522.54 151.9,522.52 152,522.6 152.05,522.38 152.15,522.49 152.3,522.89 152.4,522.84 152.55,522.87 152.65,522.69 152.7,522.78 152.75,522.71 152.8,522.78 152.85,522.72 152.95,522.89 153,522.82 153.15,522.89 153.2,522.79 153.3,522.77 153.35,522.82 153.4,522.79 153.45,522.88 153.5,522.76 153.6,522.87 153.7,522.74 153.75,522.58 153.9,522.49 154,522.14 154.05,522.22 154.1,522.06 154.15,522.2 154.2,522.08 154.25,522.08 154.3,522.17 154.5,522.77 154.55,522.71 154.6,522.73 154.65,522.86 154.7,522.74 154.9,522.77 154.95,522.89 155,522.75 155.15,522.74 155.2,522.62 155.3,522.83 155.35,522.64 155.5,522.71 155.55,522.8 155.65,522.79 155.7,522.6 155.75,522.6 155.85,522.38 156.05,522.75 156.15,522.71 156.3,522.89 156.4,522.81 156.45,522.85 156.55,522.83 156.6,522.74 156.65,522.83 156.75,522.62 156.95,522.88 157.05,522.63 157.15,522.69 157.2,522.54 157.35,522.4 157.55,522.67 157.6,522.68 157.65,522.57 157.75,522.63 157.8,522.73 157.85,522.68 157.9,522.75 157.95,522.72 158.05,522.54 158.15,522.75 158.35,522.81 158.4,522.89 158.45,522.74 158.55,522.85 158.7,522.84 158.8,522.78 158.85,522.86 159,522.57 159.05,522.56 159.1,522.81 159.2,522.82 159.25,522.88 159.3,522.74 159.35,522.75 159.45,522.43 159.55,522.72 159.65,522.53 159.8,522.48 159.85,522.77 159.9,522.75 160,522.89 160.1,522.72 160.15,522.79 160.2,522.63 160.25,522.88 160.3,522.79 160.35,522.86 160.45,522.89 160.55,522.81 160.6,522.83 160.65,522.58 160.8,522.39 160.85,522.56 160.95,522.61 161.05,522.81 161.1,522.67 161.2,522.7 161.3,522.87 161.5,522.35 161.6,522.46 161.65,522.27 161.7,522.59 161.85,522.88 162.05,522.56 162.1,522.78 162.15,522.82 162.2,522.75 162.25,522.82 162.35,522.83 162.45,522.73 162.55,522.77 162.6,522.72 162.75,522.78 162.8,522.89 162.85,522.74 162.95,522.78 163,522.63 163.05,522.62 163.2,522.85 163.25,522.75 163.3,522.9 163.45,522.48 163.6,522.72 163.65,522.7 163.7,522.49 163.85,522.85 163.9,522.76 163.95,522.82 164.05,522.78 164.1,522.56 164.2,522.54 164.25,522.44 164.75,519.27 164.8,519.31 164.9,519.08 164.95,519.07 165.15,519.96 165.25,520.76 165.4,521.29 165.5,521.45 165.6,521.45 165.75,521.07 165.8,521.11 165.9,520.57 165.95,520.41 166.05,520.28 166.15,520.29 166.2,520.35 166.55,521.25 166.6,521.35 166.65,521.3 166.85,521.72 166.9,521.65 167,521.69 167.15,521.49 167.2,521.52 167.25,521.44 167.35,521.48 167.4,521.56 167.55,521.45 167.75,520.98 167.8,520.7 167.9,519.27 168.05,513.6 168.25,502.12 168.75,460.93 169.25,407.04 169.3,405.94 169.7,453.09 170.05,486.98 170.35,509.19 170.55,518.81 170.65,520.65 170.8,521.11 170.9,521.18 170.95,521.16 171,521.46 171.1,521.42 171.15,521.26 171.2,521.34 171.3,521.36 171.65,519.54 171.85,520.03 172.2,522.27 172.35,522.7 172.4,522.62 172.45,522.73 172.5,522.64 172.55,522.66 172.65,522.9 172.8,522.6 172.85,522.77 172.9,522.42 172.95,522.4 173.05,522.77 173.1,522.74 173.15,522.9 173.25,522.96 173.3,522.79 173.35,522.87 173.4,522.78 173.45,522.54 173.5,522.63 173.55,522.52 173.6,522.62 173.7,522.44 173.85,522.94 173.9,522.98 174.05,522.98 174.15,522.93 174.2,522.96 174.3,522.71 174.35,522.8 174.4,522.69 174.5,522.9 174.55,522.69 174.6,522.71 174.65,522.54 175.1,519.62 175.15,519.51 175.2,519.5 175.3,519.78 175.65,522.24 175.8,522.55 175.85,522.57 175.95,522.85 176.05,522.57 176.1,522.64 176.2,521.99 176.5,517.56 176.55,517.04 176.65,516.68 177,521.57 177.1,522.44 177.25,522.92 177.3,522.92 177.4,522.73 177.45,522.85 177.55,522.94 177.7,522.62 177.8,522.33 178,521.09 178.1,520.88 178.2,521.16 178.45,522.64 178.55,522.67 178.65,522.99 178.7,522.93 178.8,523.05 178.85,522.93 178.9,523.04 179.05,523.03 179.1,522.99 179.15,523.03 179.25,522.73 179.3,522.79 179.45,522.65 179.5,522.69 179.55,522.66 179.65,523.04 179.75,522.96 179.8,523.06 179.9,522.97 180,523.05 180.05,522.97 180.15,522.93 180.25,523.05 180.3,522.85 180.4,522.98 180.45,522.88 180.5,522.91 180.55,523.05 180.65,522.83 180.75,523.02 180.8,522.97 180.85,523.05 180.95,522.86 181.05,523 181.2,522.91 181.25,523.08 181.4,522.88 181.45,523.01 181.5,522.88 181.55,522.89 181.6,522.81 181.7,522.88 181.8,522.79 181.85,522.88 181.95,522.73 182.05,522.94 182.1,522.82 182.2,522.76 182.25,522.57 182.3,522.56 182.5,522.86 182.55,522.85 182.6,522.92 182.65,523.07 182.7,522.94 182.75,523.05 182.85,522.8 182.9,522.76 182.95,522.87 183,522.78 183.05,522.83 183.15,522.71 183.25,522.97 183.3,522.95 183.35,522.84 183.45,522.89 183.55,523.09 184,523.09 184.1,522.92 184.15,523.08 184.2,522.99 184.25,523.01 184.4,522.82 184.45,522.81 184.5,522.98 184.55,522.86 184.6,522.95 184.65,522.99 184.7,522.96 184.85,523.06 184.95,522.98 185.05,523.12 185.15,522.97 185.2,522.97 185.25,523.05 185.35,523.08 185.45,522.79 185.5,522.8 185.55,522.95 185.6,522.95 185.7,522.83 185.8,522.55 185.85,522.55 186.05,522.27 186.3,522.91 186.35,522.86 186.45,523.09 186.65,522.88 186.7,523.11 186.85,522.77 186.9,522.87 186.95,522.77 187,522.89 187.1,522.77 187.2,523.07 187.25,523.04 187.3,523.08 187.35,522.86 187.4,522.9 187.45,522.82 187.65,522.93 187.7,522.78 187.75,522.88 187.85,522.78 187.95,522.83 188.05,522.64 188.1,522.73 188.15,522.71 188.25,522.75 188.45,523.08 188.55,522.98 188.6,523.11 188.65,523.11 188.7,522.99 188.75,523.11 188.8,523.05 188.85,523.14 189.1,522.99 189.15,522.76 189.2,522.79 189.3,522.47 189.35,522.48 189.4,522.77 189.45,522.71 189.55,523.13 189.65,522.84 189.7,522.83 189.8,523.15 189.85,523.1 189.95,523.17 190.05,522.97 190.1,523.09 190.15,523.1 190.25,523.01 190.3,523.15 190.45,523.19 190.5,523.11 190.75,523.17 190.9,522.74 190.95,522.84 191.1,522.69 191.2,522.76 191.25,522.99 191.35,522.97 191.4,523.05 191.45,523.02 191.55,522.81 191.6,522.8 191.7,522.43 191.75,522.6 191.9,522.66 192,522.86 192.1,522.74 192.15,522.93 192.2,522.93 192.35,523.12 192.4,522.99 192.45,523.18 192.55,523.12 192.6,523.19 192.7,523.19 192.75,523.13 192.8,523.18 192.95,522.9 193.05,522.97 193.15,522.81 193.3,523.1 193.4,523.19 193.45,523.08 193.5,523.18 193.55,523.15 193.65,522.85 193.85,523.14 193.9,522.96 193.95,523.06 194,522.9 194.15,522.78 194.3,523.17 194.4,523.18 194.45,523.02 194.5,523.13 194.55,523.14 194.65,522.98 194.7,523.03 194.75,522.98 194.85,523.06 194.9,522.81 195,522.87 195.05,523 195.15,522.92 195.25,523.22 195.4,522.87 195.45,523.1 195.5,523.01 195.65,523.18 195.7,523.09 195.75,523.14 195.8,522.95 195.85,523.1 195.9,523.05 196,523.06 196.05,523 196.1,523.24 196.15,523.13 196.2,523.23 196.25,523.21 196.35,523 196.4,523.24 196.45,523.21 196.5,523.01 196.55,523.22 196.6,523.25 196.75,523.16 196.85,522.75 196.95,523.04 197,522.98 197.05,523.01 197.1,523.18 197.15,523.19 197.25,522.95 197.35,522.87 197.45,522.6 197.7,523.16 197.85,522.54 197.95,522.37 198.05,522 198.15,521.97 198.25,522 198.4,522.6 198.55,522.8 198.6,522.8 198.65,522.68 198.7,522.77 198.8,522.26 199.05,520.12 199.15,519.92 199.4,521.82 199.6,522.82 199.7,522.75 199.85,523.15 200,523.03 200.05,523.21 200.1,523.25 200.2,523.16 200.25,523.28 200.3,523.22 200.4,523.26 200.6,522.96" fill="none" stroke="#000" stroke-width="0.6" stroke-linejoin="round"/>
<g font-size="5.1">
<text transform="translate(111 491.1) rotate(-90)">19.3613</text>
<text transform="translate(170.9 405.5) rotate(-90)">31.6042</text>
</g>
</g>
<g>
<text x="245.4" y="370.6" font-size="14.2" font-weight="normal" stroke-width="0.12">F</text>
<path d="M273.6 387.4V525.5H444.9M273.6 525.5h2.3M273.6 516.87h1.2M273.6 508.24h2.3M273.6 499.61h1.2M273.6 490.98h2.3M273.6 482.34h1.2M273.6 473.71h2.3M273.6 465.08h1.2M273.6 456.45h2.3M273.6 447.82h1.2M273.6 439.19h2.3M273.6 430.56h1.2M273.6 421.92h2.3M273.6 413.29h1.2M273.6 404.66h2.3M273.6 396.03h1.2M273.6 387.4h2.3M273.6 525.5v-2.3M295.01 525.5v-1.2M316.43 525.5v-2.3M337.84 525.5v-1.2M359.25 525.5v-2.3M380.66 525.5v-1.2M402.08 525.5v-2.3M423.49 525.5v-1.2M444.9 525.5v-2.3" fill="none" stroke="#222" stroke-width="0.65"/>
<g font-size="5.9" text-anchor="end">
<text x="270.6" y="527.3">0</text>
<text x="270.6" y="510.84">1×10<tspan font-size="3.6" dy="-2.1">7</tspan></text>
<text x="270.6" y="493.58">2×10<tspan font-size="3.6" dy="-2.1">7</tspan></text>
<text x="270.6" y="476.31">3×10<tspan font-size="3.6" dy="-2.1">7</tspan></text>
<text x="270.6" y="459.05">4×10<tspan font-size="3.6" dy="-2.1">7</tspan></text>
<text x="270.6" y="441.79">5×10<tspan font-size="3.6" dy="-2.1">7</tspan></text>
<text x="270.6" y="424.52">6×10<tspan font-size="3.6" dy="-2.1">7</tspan></text>
<text x="270.6" y="407.26">7×10<tspan font-size="3.6" dy="-2.1">7</tspan></text>
<text x="270.6" y="390">8×10<tspan font-size="3.6" dy="-2.1">7</tspan></text>
</g>
<g font-size="5.7" text-anchor="middle">
<text x="273.6" y="533.3">20</text>
<text x="316.43" y="533.3">30</text>
<text x="359.25" y="533.3">40</text>
<text x="402.08" y="533.3">50</text>
<text x="444.9" y="533.3">60</text>
</g>
<text x="359.25" y="544.2" font-size="6.45" text-anchor="middle">Retention time (min)</text>
<text transform="translate(248.75 452) rotate(-90)" font-size="6.45" text-anchor="middle">TIC (counts)</text>
<polyline points="274.05,524.48 274.1,524.3 274.2,524.45 274.25,524.34 274.3,524.48 274.35,524.39 274.4,524.43 274.5,524.17 274.55,524.15 274.6,524.22 274.65,524.1 274.7,524.21 274.75,524.19 274.8,524.33 274.95,524.23 275.05,524.37 275.1,524.32 275.15,524.39 275.2,524.32 275.25,524.33 275.35,524.46 275.4,524.4 275.45,524.47 275.5,524.46 275.55,524.3 275.65,524.4 275.9,523.62 276.05,522.66 276.15,522.44 276.2,522.44 276.3,522.72 276.55,524.14 276.65,524.25 276.7,524.15 276.85,524.17 276.9,524.12 276.95,524.2 277,524.18 277.1,524.37 277.25,524.42 277.3,524.24 277.4,524.39 277.45,524.36 277.5,524.44 277.55,524.33 277.65,524.31 277.7,524.16 277.9,524.47 278,524.25 278.05,524.35 278.1,524.31 278.15,524.47 278.25,524.42 278.3,524.47 278.35,524.34 278.45,524.43 278.55,524.38 278.6,524.43 278.65,524.3 278.7,524.37 278.75,524.2 278.95,524.24 279.05,524.46 279.15,524.2 279.3,524.2 279.4,524.07 279.5,524.36 279.55,524.25 279.65,524.29 279.7,524.4 279.8,524.31 279.85,524.39 279.9,524.39 279.95,524.27 280.05,524.29 280.1,524.42 280.15,524.41 280.4,524.14 280.55,524.22 280.65,524.37 280.8,524.43 280.85,524.36 280.95,524.36 281,524.1 281.05,524.11 281.1,524.05 281.15,524.12 281.2,524.03 281.25,524.13 281.35,524.11 281.4,524.3 281.45,524.25 281.5,524.43 281.55,524.44 281.6,524.27 281.7,524.24 281.8,524 281.9,524.09 282,524.35 282.1,524.38 282.25,524.24 282.5,523.62 282.6,523.61 282.75,523.74 283,524.33 283.05,524.35 283.1,524.3 283.2,524.35 283.25,524.43 283.3,524.32 283.45,524.34 283.5,524.22 283.55,524.21 283.6,524.27 283.65,524.21 283.8,524.42 284,524.17 284.1,524.4 284.15,524.1 284.2,524.29 284.3,524.15 284.35,524.2 284.4,524.15 284.5,524.25 284.55,524.41 284.7,524.18 284.8,524.38 284.9,524.36 284.95,524.41 285.15,524.34 285.2,524.4 285.25,524.25 285.3,524.26 285.35,524.41 285.45,524.29 285.6,524.4 285.65,524.35 285.8,524.35 285.85,524.4 286.2,524.34 286.25,524.29 286.35,524.41 286.45,524.3 286.5,524.13 286.6,524.24 286.7,524.19 286.75,524.04 286.85,523.98 286.95,524.11 287,524.04 287.15,524.16 287.3,524.38 287.4,524.33 287.45,524.16 287.55,524.22 287.6,524.15 287.7,524.15 287.75,524 288.05,524.26 288.1,524.09 288.2,524.39 288.25,524.3 288.4,524.21 288.5,524.37 288.6,524.31 288.65,524.39 288.8,524.12 288.85,524.15 288.9,524.1 288.95,524.26 289,524.18 289.1,523.86 289.45,521.94 289.75,523.62 289.9,524.05 289.95,523.98 290.05,524.04 290.2,524.34 290.45,524.06 290.6,524.35 290.7,524.09 290.8,524.14 290.85,524.02 290.95,524.19 291,524.16 291.05,524.32 291.2,524.37 291.3,524.35 291.4,524.22 291.45,524.29 291.5,524.27 291.55,524.37 291.9,524.23 291.95,524.29 292.05,524.18 292.1,524.34 292.2,524.27 292.25,524.12 292.3,524.1 292.4,524.33 292.5,524.2 292.6,524.29 292.75,524.19 292.85,524.35 292.9,524.31 292.95,524.35 293,524.26 293.05,524.28 293.15,524.04 293.2,524.16 293.25,524.11 293.35,524.21 293.4,524.08 293.5,524 293.55,524.1 293.6,524.06 293.65,524.12 293.8,523.96 293.9,524.25 293.95,524.22 294,524.29 294.1,524.22 294.25,524.33 294.4,524.18 294.45,524.2 294.5,524.35 294.55,524.24 294.6,524.33 294.65,524.3 294.7,524.07 294.75,524.16 294.85,523.99 294.95,524.27 295,524.16 295.05,524.15 295.2,524.32 295.25,524.18 295.3,524.35 295.4,524.07 295.45,524.05 295.55,524.29 295.6,524.16 295.65,524.17 295.7,524.09 295.75,524.16 295.8,524.15 295.95,523.97 296,524.03 296.3,523.4 296.35,523.42 296.45,523.73 296.6,523.81 296.65,524.06 296.7,524.09 296.75,524.26 296.8,524.23 296.85,524.3 297.1,523.93 297.15,524.07 297.2,524.03 297.25,524.09 297.35,524.07 297.5,524.29 297.6,524.06 297.65,524.23 297.7,524.14 297.75,524.25 297.8,524.23 297.85,524.31 297.95,524.31 298,524.22 298.05,524.24 298.1,524.09 298.2,524.02 298.25,524.12 298.35,524.14 298.4,524.07 298.5,524.3 298.6,524.21 298.65,524.3 298.85,524.13 298.9,524 299.3,522.36 299.4,522.53 299.65,523.94 299.8,524.04 299.85,524.14 299.95,524.07 300.15,524.29 300.3,524.2 300.4,524.04 300.5,524.11 300.65,524.04 300.9,523.04 301,522.84 301.2,523.37 301.4,524.12 301.55,524.26 301.6,524.11 301.7,524.19 301.8,523.95 301.95,524.15 302.1,524.15 302.15,524.24 302.3,524.02 302.6,522.41 302.75,521.84 302.85,522.24 303.05,523.68 303.1,523.88 303.3,524.25 303.35,524.19 303.5,524.24 303.55,524.15 303.6,524.23 303.7,524.09 303.75,524.12 303.85,523.94 303.95,524.16 304,524.08 304.1,524.25 304.2,524.28 304.4,524.23 304.7,524.25 304.8,524.17 304.85,524.28 304.9,524.25 305,523.95 305.15,524.04 305.2,523.98 305.25,524.19 305.3,524.18 305.4,523.72 305.45,523.67 305.5,523.7 305.6,523.34 305.7,523.43 305.75,523.42 305.85,523.58 305.9,523.49 305.95,523.82 306.05,523.88 306.2,523.84 306.25,524 306.3,523.99 306.35,524.11 306.45,524.07 306.55,524.26 306.6,524.19 306.7,524.26 306.75,524.15 306.8,524.26 306.85,524.26 307.1,524.09 307.15,524.26 307.2,524.26 307.25,524.08 307.3,524.17 307.4,524.19 307.45,523.97 307.55,524.23 307.65,524.23 307.7,524.16 307.8,524.25 307.85,524.13 307.9,524.2 308.15,523.94 308.25,524 308.3,523.89 308.45,524.25 308.55,524.06 308.7,524.23 309,523.92 309.05,524.15 309.1,524.11 309.15,524.15 309.25,524.03 309.3,524.18 309.35,524.08 309.6,524.23 309.7,523.98 309.75,524.09 309.8,524.11 309.85,524.02 309.9,524.15 310.05,524.07 310.1,524.15 310.15,524.03 310.2,524.06 310.25,524.03 310.3,523.86 310.35,523.84 310.5,524.2 310.55,524.09 310.65,524.08 310.7,523.96 310.8,523.98 310.85,523.88 310.9,523.98 310.95,523.82 311,523.84 311.2,523.28 311.35,523.17 311.4,523.38 311.45,523.39 311.65,523.8 311.7,523.85 311.8,523.78 311.9,523.97 312,524.06 312.05,524.02 312.15,524.2 312.4,524.17 312.45,524.08 312.8,524.2 312.9,524.1 313.05,524.18 313.2,524.17 313.25,524.21 313.45,524.17 313.5,524.2 313.65,524.09 313.7,523.97 313.8,523.95 313.9,523.8 314.25,522.37 314.35,522.49 314.65,523.88 314.75,524.06 314.8,524.04 314.9,524.17 315,524.06 315.05,524.13 315.15,524.15 315.3,524.03 315.4,523.61 315.7,521.32 315.8,521.19 315.9,521.58 316.05,522.95 316.25,523.99 316.35,523.93 316.4,524.09 316.5,524.06 316.55,523.97 316.65,524.08 316.7,523.87 316.8,523.86 316.85,523.77 316.95,523.95 317.05,523.95 317.1,524.12 317.3,523.83 317.35,523.87 317.65,522.57 317.75,522.83 317.8,522.85 318.1,523.83 318.2,523.62 318.3,523.77 318.45,523.59 318.6,523.69 318.65,523.69 318.7,523.59 318.85,522.26 319.1,516.9 319.2,515.78 319.25,515.93 319.35,517.38 319.55,521.95 319.7,523.43 319.8,523.55 319.85,523.46 319.9,523.68 320,523.85 320.1,523.71 320.15,523.77 320.2,523.75 320.25,523.85 320.4,523.76 320.45,523.84 320.6,523.64 320.7,523.72 320.75,523.54 320.8,523.62 320.9,523.56 320.95,523.66 321.1,523.48 321.15,523.75 321.25,523.76 321.35,523.68 321.5,523.32 321.6,523.57 321.7,523.63 321.8,523.46 321.9,523.69 322,523.72 322.2,523.55 322.3,523.69 322.35,523.63 322.45,523.7 322.5,523.52 322.6,523.38 322.65,523.36 322.7,523.41 322.75,523.35 322.8,523.42 322.85,523.29 322.9,523.38 323,522.71 323.15,520.45 323.4,513.6 323.45,512.86 323.5,512.76 323.65,515.26 323.9,521.66 324.05,523.05 324.1,522.93 324.2,523.36 324.3,523.23 324.45,522.34 324.75,518.85 324.8,518.9 324.85,519.21 325.15,522.48 325.2,522.83 325.4,523.41 325.6,523.25 325.65,523.34 325.75,523.17 325.8,523.24 325.85,523.07 325.95,522.6 326.15,520.75 326.3,520.31 326.65,522.77 326.95,523.28 327.05,523.18 327.1,523.27 327.2,523.28 327.25,523.13 327.4,523.26 327.45,523.02 327.5,523.1 327.6,523.12 327.65,522.93 327.75,523.11 327.8,523.13 327.85,523.01 327.9,523.08 327.95,523.04 328.1,522.56 328.25,521.55 328.35,521.25 328.45,521.16 328.5,521.16 328.55,521.27 328.7,522.19 328.85,522.72 329.05,523.01 329.1,522.94 329.15,522.97 329.2,522.92 329.25,522.93 329.3,523.06 329.35,522.98 329.4,522.97 329.45,523.03 329.6,522.94 329.65,523 329.7,522.94 329.75,523.03 329.8,522.93 329.85,523.01 329.95,522.93 330,523.02 330.1,523.02 330.3,522.89 330.35,522.98 330.4,522.85 330.55,522.92 330.6,522.8 330.65,522.93 330.7,522.94 330.85,522.74 330.95,522.73 331.05,522.44 331.25,521.16 331.4,520.74 331.5,520.88 331.75,522.36 331.8,522.54 331.9,522.65 331.95,522.79 332,522.77 332.05,522.82 332.2,522.55 332.25,522.67 332.3,522.63 332.4,522.79 332.5,522.56 332.55,522.61 332.6,522.44 332.65,522.41 332.8,522.66 332.95,522.29 333.2,520.23 333.3,519.65 333.35,519.63 333.45,520.09 333.7,522.07 333.85,522.51 333.95,522.6 334,522.54 334.05,522.56 334.1,522.65 334.15,522.52 334.25,522.58 334.3,522.49 334.5,521.85 334.65,520.54 334.95,513.16 335,512.46 335.05,512.33 335.15,513.52 335.45,520.44 335.6,521.73 335.7,521.9 335.8,521.62 336,520.26 336.15,519.65 336.3,520.4 336.4,521.4 336.55,522 336.75,522.37 336.8,522.29 336.85,522.37 336.95,522.37 337.05,522.14 337.1,522.16 337.15,522.33 337.3,522.22 337.4,521.85 337.55,519.98 337.85,511.03 337.95,509.35 338,509.42 338.1,511.39 338.4,520.33 338.6,521.85 338.8,521.97 338.85,521.91 339.05,521.11 339.3,519.41 339.4,519.53 339.45,519.71 339.6,520.85 339.75,521.59 339.8,521.5 339.85,521.53 339.9,521.67 340.05,521.45 340.1,521.46 340.25,520.15 340.5,514.98 340.6,513.9 340.7,514.44 340.95,519.67 341.05,520.82 341.1,521.1 341.2,521.33 341.25,521.25 341.3,521.28 341.4,521.21 341.5,521.51 341.75,521.2 341.8,521.23 341.85,521.16 341.9,521.17 342,521.37 342.05,521.31 342.1,521.37 342.15,521.27 342.2,521.34 342.25,521.26 342.3,521.35 342.4,521.16 342.45,521.25 342.6,521.18 342.65,521.06 342.75,520.99 342.8,521.08 342.9,521.11 343,520.94 343.1,520.5 343.3,519.11 343.4,518.73 343.45,518.76 343.5,518.92 343.7,520.38 343.8,520.73 343.9,520.79 343.95,520.92 344,520.88 344.05,520.93 344.1,520.75 344.2,520.66 344.3,520.81 344.4,520.64 344.5,520.69 344.6,520.59 344.65,520.71 344.7,520.66 344.75,520.84 344.85,520.71 344.9,520.76 345.1,520.56 345.3,519.53 345.4,518.57 345.5,518.01 345.55,517.93 345.65,518.27 345.9,520.05 346.05,520.46 346.1,520.26 346.15,520.44 346.3,520.47 346.4,520.35 346.5,520.01 346.65,518.33 346.95,507.87 347.05,506.33 347.15,508.17 347.45,518.25 347.5,518.84 347.6,519.31 347.7,518.79 347.8,517.07 348.1,506.31 348.2,504.83 348.3,506.23 348.6,516.54 348.7,518.38 348.8,519.16 348.85,519.14 348.95,519.37 349,519.24 349.1,519.16 349.25,519.33 349.35,519.16 349.5,518.59 349.75,516.57 349.85,516.62 349.9,516.55 350.1,517.98 350.2,518.45 350.25,518.51 350.3,518.5 350.45,518.6 350.6,518.54 350.65,518.66 350.75,518.64 350.85,518.72 351,518.43 351.1,518.5 351.25,518.3 351.3,518.4 351.45,518.26 351.5,518.27 351.55,518.15 351.6,518.29 351.65,518.27 351.7,518.11 351.75,518.16 351.8,518.13 351.85,517.98 352,516.86 352.15,513.16 352.25,508.23 352.65,464.6 352.8,454.99 352.85,455.09 352.95,460.11 353.4,507.61 353.5,512.52 353.65,516.28 353.75,517.12 353.85,517.35 353.95,517.42 354,517.59 354.2,517.47 354.25,517.59 354.3,517.53 354.35,517.58 354.4,517.49 354.55,517.49 354.7,517.21 354.75,517.32 354.8,517.31 354.85,517.39 354.95,517.25 355.2,517.22 355.3,517.25 355.4,517.1 355.7,517.18 355.75,517.05 355.8,517.12 355.85,517.03 355.95,517.09 356,516.94 356.05,517.05 356.15,516.89 356.2,516.95 356.25,516.87 356.3,516.95 356.35,516.95 356.55,516.83 356.6,516.73 356.65,516.77 356.7,516.65 356.8,516.81 356.9,516.67 357,516.39 357.05,516.47 357.1,516.35 357.15,516.45 357.2,516.42 357.25,516.47 357.3,516.43 357.35,516.58 357.5,516.41 357.65,515.86 357.7,515.85 357.85,515.57 357.95,515.46 358.05,515.76 358.25,515.12 358.35,514.62 358.6,513.9 358.8,512.01 358.95,508.89 359.1,502.71 359.35,481.08 359.8,416.57 359.9,408.3 360,405.57 360.15,412.61 360.45,442.85 360.5,446.22 360.55,447.96 360.6,447.75 360.65,451.09 360.9,476.67 361.05,484.84 361.25,491.82 361.5,497.39 361.9,502.76 362,503.28 362.1,502.71 362.4,495.53 362.45,495.34 362.6,497.92 362.85,506.07 363.05,509.85 363.15,510.76 363.45,512.2 363.55,512.47 363.6,512.41 363.7,512.79 363.75,512.7 364.15,513.58 364.2,513.52 364.25,513.69 364.3,513.66 364.4,513.73 364.45,513.86 364.55,513.82 364.6,514.04 364.65,514 364.7,514.22 364.8,514.35 364.95,514.42 365.05,514.14 365.1,514.18 365.15,514.11 365.25,513.54 365.5,510.59 365.6,510.06 365.65,509.96 365.7,509.97 365.75,509.85 365.95,511.89 366,512.17 366.05,512.2 366.15,511.17 366.35,507.12 366.45,506.22 366.55,507.44 366.8,513.19 366.85,513.8 366.9,514.05 366.95,514.05 367.05,512.97 367.15,510.68 367.45,495.67 367.55,492.2 367.6,491.7 367.7,493.44 368.05,510.58 368.15,513.14 368.25,514.43 368.35,514.73 368.45,514.84 368.6,514.69 368.65,514.75 368.9,514.08 369.2,512.87 369.4,512.43 369.45,512.45 369.5,512.32 369.55,512.43 369.6,512.37 369.7,512.49 369.85,512.94 369.9,512.87 370.2,514.35 370.25,514.47 370.3,514.48 370.5,515.2 370.6,515.22 370.65,515.44 370.75,515.45 370.85,515.71 370.95,515.58 371.1,515.83 371.15,515.78 371.3,515.84 371.4,515.98 371.5,515.91 371.6,516.05 371.75,515.85 371.85,516.02 371.95,515.97 372.1,516.22 372.35,516 372.5,516.09 372.65,516.42 372.75,516.32 372.9,516.43 372.95,516.52 373.1,516.6 373.15,516.53 373.2,516.62 373.25,516.59 373.45,516.7 373.55,516.59 373.65,516.71 373.8,516.71 373.85,516.64 373.95,516.75 374.1,516.45 374.15,516.43 374.2,516.52 374.25,516.29 374.35,516.38 374.4,516.3 374.5,516.51 374.6,516.5 374.65,516.79 374.75,516.74 374.9,516.51 375,516.72 375.1,516.74 375.2,516.66 375.25,516.7 375.3,516.57 375.35,516.63 375.45,516.47 375.6,515.65 375.75,513.43 375.9,508.56 376.1,496.46 376.4,471.79 376.5,466.51 376.6,464.55 376.65,465.08 376.75,469.23 377.15,499.21 377.3,504.59 377.4,505.57 377.45,505.52 377.65,502.28 378.1,487.96 378.95,445.63 379.3,430.37 379.6,422.19 379.7,420.93 379.8,420.35 379.9,421.06 380,423.24 380.2,430.38 381.05,484.11 381.3,496.65 381.5,504.01 381.8,510.96 382.05,514 382.25,515.12 382.4,515.67 382.5,515.68 382.55,515.75 382.9,514.77 383,514.3 383.25,512.35 383.55,508.6 383.9,501.52 384.05,497.41 384.55,478.86 385.5,433.89 385.85,423.28 386,421.25 386.05,420.86 386.1,420.73 386.15,420.71 386.25,421.17 386.35,423.01 386.6,431.28 387.55,484.28 387.75,492.75 388,500.68 388.3,506.8 388.6,510.24 388.8,511.65 389.1,513.13 389.3,513.83 389.6,514.45 389.7,514.78 389.75,514.86 389.8,514.85 389.85,515.08 390.1,515.56 390.2,515.69 390.25,515.68 390.3,515.87 390.4,515.92 390.5,516.17 390.6,516.31 390.65,516.22 390.75,516.48 390.85,516.51 390.95,516.76 391.1,516.9 391.15,516.87 391.25,517.12 391.35,516.95 391.45,517.27 391.5,517.18 391.6,517.16 391.7,517.45 391.8,517.59 391.85,517.48 391.9,517.51 391.95,517.69 392.1,517.49 392.3,517.8 392.35,517.68 392.45,517.98 392.6,517.89 392.7,517.92 392.75,518.06 392.9,517.89 393.05,518.21 393.15,518.23 393.3,517.97 393.35,518.09 393.4,518.02 393.5,518.26 393.55,518.22 393.6,518.29 393.75,518.27 393.8,518.41 393.85,518.24 394,518.22 394.05,518.3 394.15,518.31 394.2,518.47 394.25,518.41 394.45,518.53 394.6,518.17 394.9,518.55 394.95,518.43 395.1,518.32 395.15,518.39 395.25,518.39 395.35,518.6 395.45,518.47 395.5,518.56 395.6,518.58 395.65,518.66 395.8,518.68 396.15,518.54 396.25,518.69 396.35,518.69 396.4,518.46 396.45,518.44 396.5,518.62 396.55,518.47 396.6,518.54 396.7,518.52 396.8,518.67 396.85,518.66 396.9,518.54 397.05,518.66 397.1,518.62 397.15,518.68 397.25,518.68 397.35,518.58 397.5,518.69 397.6,518.59 397.65,518.69 397.8,518.57 397.85,518.67 397.9,518.57 398,518.58 398.1,518.51 398.2,518.69 398.3,518.59 398.35,518.64 398.4,518.6 398.45,518.68 398.5,518.6 398.55,518.67 398.65,518.69 398.7,518.58 398.8,518.68 398.85,518.57 398.95,518.68 399.05,518.66 399.1,518.56 399.3,518.65 399.45,518.59 399.55,518.65 399.7,518.57 399.8,518.66 399.85,518.52 399.9,518.6 400,518.56 400.05,518.47 400.2,518.45 400.25,518.62 400.3,518.61 400.35,518.47 400.45,518.64 400.5,518.57 400.55,518.68 400.65,518.64 400.75,518.41 400.8,518.52 400.9,518.49 400.95,518.54 401,518.44 401.2,518.69 401.25,518.64 401.5,518.69 401.55,518.64 401.6,518.69 401.7,518.64 401.75,518.68 401.8,518.6 401.85,518.65 401.9,518.6 401.95,518.69 402,518.52 402.05,518.61 402.15,518.52 402.2,518.66 402.35,518.67 402.4,518.51 402.45,518.53 402.55,518.43 402.6,518.58 402.7,518.69 402.75,518.62 402.9,518.63 402.95,518.57 403,518.7 403.2,518.46 403.35,518.54 403.4,518.4 403.45,518.41 403.5,518.55 403.6,518.5 403.65,518.39 403.75,518.34 403.8,518.42 403.85,518.33 404,518.53 404.1,518.51 404.15,518.62 404.2,518.6 404.25,518.66 404.3,518.63 404.35,518.7 404.45,518.54 404.5,518.68 404.55,518.64 404.65,518.64 404.7,518.69 404.75,518.63 404.8,518.68 404.85,518.65 404.95,518.55 405.2,518.18 405.25,518.4 405.3,518.4 405.35,518.23 405.55,518.64 405.6,518.61 405.65,518.63 405.75,518.31 405.8,518.33 405.95,518.65 406.05,518.68 406.2,518.41 406.3,518.62 406.5,518.67 406.55,518.55 406.6,518.61 406.7,518.6 406.75,518.65 406.8,518.54 406.85,518.58 406.9,518.44 406.95,518.45 407,518.64 407.1,518.46 407.25,518.49 407.3,518.64 407.35,518.56 407.45,518.6 407.55,518.43 407.6,518.44 407.7,518.61 407.75,518.56 407.8,518.62 407.95,518.65 408,518.53 408.05,518.59 408.3,518.43 408.45,518.69 408.6,518.62 408.65,518.68 408.75,518.57 408.8,518.68 409.05,518.63 409.1,518.68 409.25,518.7 409.3,518.57 409.4,518.65 409.45,518.5 409.55,518.5 409.6,518.37 409.8,518.63 409.9,518.61 409.95,518.67 410.05,518.61 410.1,518.68 410.15,518.67 410.25,518.51 410.3,518.6 410.4,518.58 410.45,518.47 410.5,518.6 410.6,518.69 410.65,518.57 410.75,518.67 410.8,518.64 410.85,518.69 410.9,518.59 411,518.65 411.05,518.59 411.15,518.7 411.2,518.62 411.25,518.65 411.3,518.53 411.45,518.7 411.55,518.58 411.65,518.67 411.7,518.61 411.85,518.7 411.95,518.57 412,518.62 412.1,518.57 412.15,518.68 412.25,518.63 412.3,518.68 412.35,518.64 412.45,518.66 412.5,518.45 412.65,518.53 412.75,518.35 412.8,518.44 412.85,518.42 412.9,518.59 412.95,518.44 413.05,518.6 413.1,518.64 413.15,518.56 413.25,518.69 413.35,518.37 413.4,518.34 413.45,518.48 413.65,518.65 413.8,518.48 413.9,518.63 413.95,518.52 414.05,518.64 414.1,518.54 414.2,518.65 414.3,518.55 414.35,518.62 414.45,518.39 414.6,518.33 414.7,518.6 414.9,518.54 415,518.65 415.1,518.56 415.15,518.34 415.2,518.39 415.3,518.35 415.4,518.64 415.5,518.61 415.55,518.42 415.6,518.52 415.7,518.37 415.75,518.53 415.85,518.66 415.9,518.67 415.95,518.55 416,518.67 416.05,518.68 416.1,518.57 416.2,518.54 416.25,518.64 416.45,518.41 416.5,518.25 416.65,518.12 416.7,518.41 416.75,518.32 416.85,518.69 416.9,518.52 416.95,518.55 417.05,518.38 417.1,518.5 417.15,518.46 417.2,518.59 417.3,518.67 417.35,518.59 417.4,518.68 417.45,518.52 417.55,518.68 417.6,518.59 417.65,518.66 417.75,518.56 417.8,518.62 417.85,518.48 417.9,518.47 417.95,518.6 418.05,518.55 418.1,518.61 418.15,518.55 418.2,518.58 418.3,518.55 418.35,518.48 418.4,518.56 418.45,518.42 418.5,518.53 418.6,518.5 418.65,518.42 418.75,518.56 418.8,518.44 418.9,518.41 419.1,518.63 419.15,518.5 419.25,518.59 419.3,518.42 419.4,518.44 419.45,518.31 419.6,517.68 419.7,516.92 419.9,514.05 420.1,510.1 420.2,508.66 420.25,508.54 420.35,508.77 420.4,509.33 420.7,514.84 420.9,517.49 421,518.07 421.1,518.13 421.2,518.47 421.35,518.63 421.45,518.62 421.55,518.49 421.6,518.56 421.7,518.57 421.75,518.46 421.85,518.67 421.9,518.57 421.95,518.64 422.05,518.55 422.1,518.63 422.15,518.51 422.2,518.6 422.25,518.52 422.3,518.63 422.35,518.53 422.4,518.64 422.45,518.6 422.5,518.65 422.75,518.64 422.8,518.59 422.85,518.64 422.9,518.53 423,518.46 423.05,518.32 423.1,518.43 423.2,518.26 423.25,518.39 423.45,518.61 423.5,518.52 423.55,518.65 423.6,518.52 423.65,518.58 423.7,518.52 423.75,518.64 423.9,518.49 423.95,518.55 424,518.45 424.1,518.52 424.15,518.34 424.25,518.32 424.3,518.24 424.35,518.34 424.45,518.3 424.7,518.45 424.75,518.37 424.8,518.57 424.85,518.61 424.9,518.5 424.95,518.63 425.05,518.58 425.1,518.62 425.15,518.48 425.25,518.5 425.3,518.46 425.4,518.61 425.45,518.55 425.55,518.6 425.6,518.56 425.7,518.58 425.9,518.51 425.95,518.55 426,518.51 426.05,518.62 426.15,518.39 426.25,518.59 426.3,518.47 426.4,518.49 426.45,518.59 426.55,518.61 426.6,518.59 426.65,518.44 426.7,518.57 426.75,518.57 426.85,518.39 426.9,518.51 426.95,518.54 427,518.5 427.05,518.55 427.2,518.11 427.25,518.33 427.3,518.27 427.35,518.44 427.45,518.56 427.6,517.99 427.75,518.23 427.8,518.44 427.85,518.41 427.9,518.53 428.1,518.48 428.15,518.35 428.2,518.45 428.25,518.37 428.35,518.43 428.4,518.36 428.45,518.43 428.5,518.36 428.55,518.54 428.6,518.53 428.65,518.5 428.7,518.34 428.8,518.34 428.85,518.39 428.9,518.33 428.95,518.44 429,518.34 429.1,518.54 429.3,518.38 429.45,518.36 429.5,518.55 429.6,518.24 429.65,518.36 429.7,518.34 429.75,518.42 429.85,518.33 430,518.56 430.15,518.29 430.35,518.47 430.45,518.32 430.55,518.34 430.6,518.16 430.7,518.09 430.8,518.19 430.85,518.14 430.9,518.17 430.95,517.94 431,517.93 431.05,517.77 431.2,517.72 431.35,517.84 431.55,518.39 431.7,518.22 431.75,518.32 431.8,518.2 431.85,518.21 431.9,518.35 431.95,518.29 432,518.4 432.1,518.45 432.15,518.39 432.2,518.52 432.25,518.34 432.3,518.37 432.35,518.29 432.45,518.3 432.6,518.47 432.75,518.19 432.85,518.13 432.95,518.17 433,518.12 433.15,518.51 433.2,518.41 433.25,518.5 433.35,518.49 433.4,518.36 433.5,518.49 433.6,518.26 433.65,518.26 433.8,518.51 433.85,518.46 433.95,518.46 434.05,518.34 434.1,518.46 434.15,518.41 434.3,518.51 434.35,518.37 434.45,518.5 434.55,518.36 434.6,518.47 434.65,518.4 434.7,518.48 434.75,518.29 434.85,518.37 434.95,518 435,518.17 435.1,518.15 435.15,518.27 435.2,518.26 435.25,518.42 435.3,518.44 435.35,518.32 435.4,518.48 435.5,518.35 435.55,518.36 435.6,518.24 435.7,518.39 435.8,518.21 435.9,518.31 435.95,518.47 436.2,518.19 436.25,518.23 436.3,518.21" fill="none" stroke="#000" stroke-width="0.6" stroke-linejoin="round"/>
<g font-size="5.1">
<text transform="translate(353.8 451.6) rotate(-90)">38.5182</text>
<text transform="translate(361.8 403.8) rotate(-90)">40.1773</text>
<text transform="translate(376.4 461.7) rotate(-90)">44.0667</text>
<text transform="translate(381.1 417.4) rotate(-90)">44.7998</text>
<text transform="translate(389.1 418.5) rotate(-90)">46.2766</text>
</g>
</g>
</svg>
</body></html>
